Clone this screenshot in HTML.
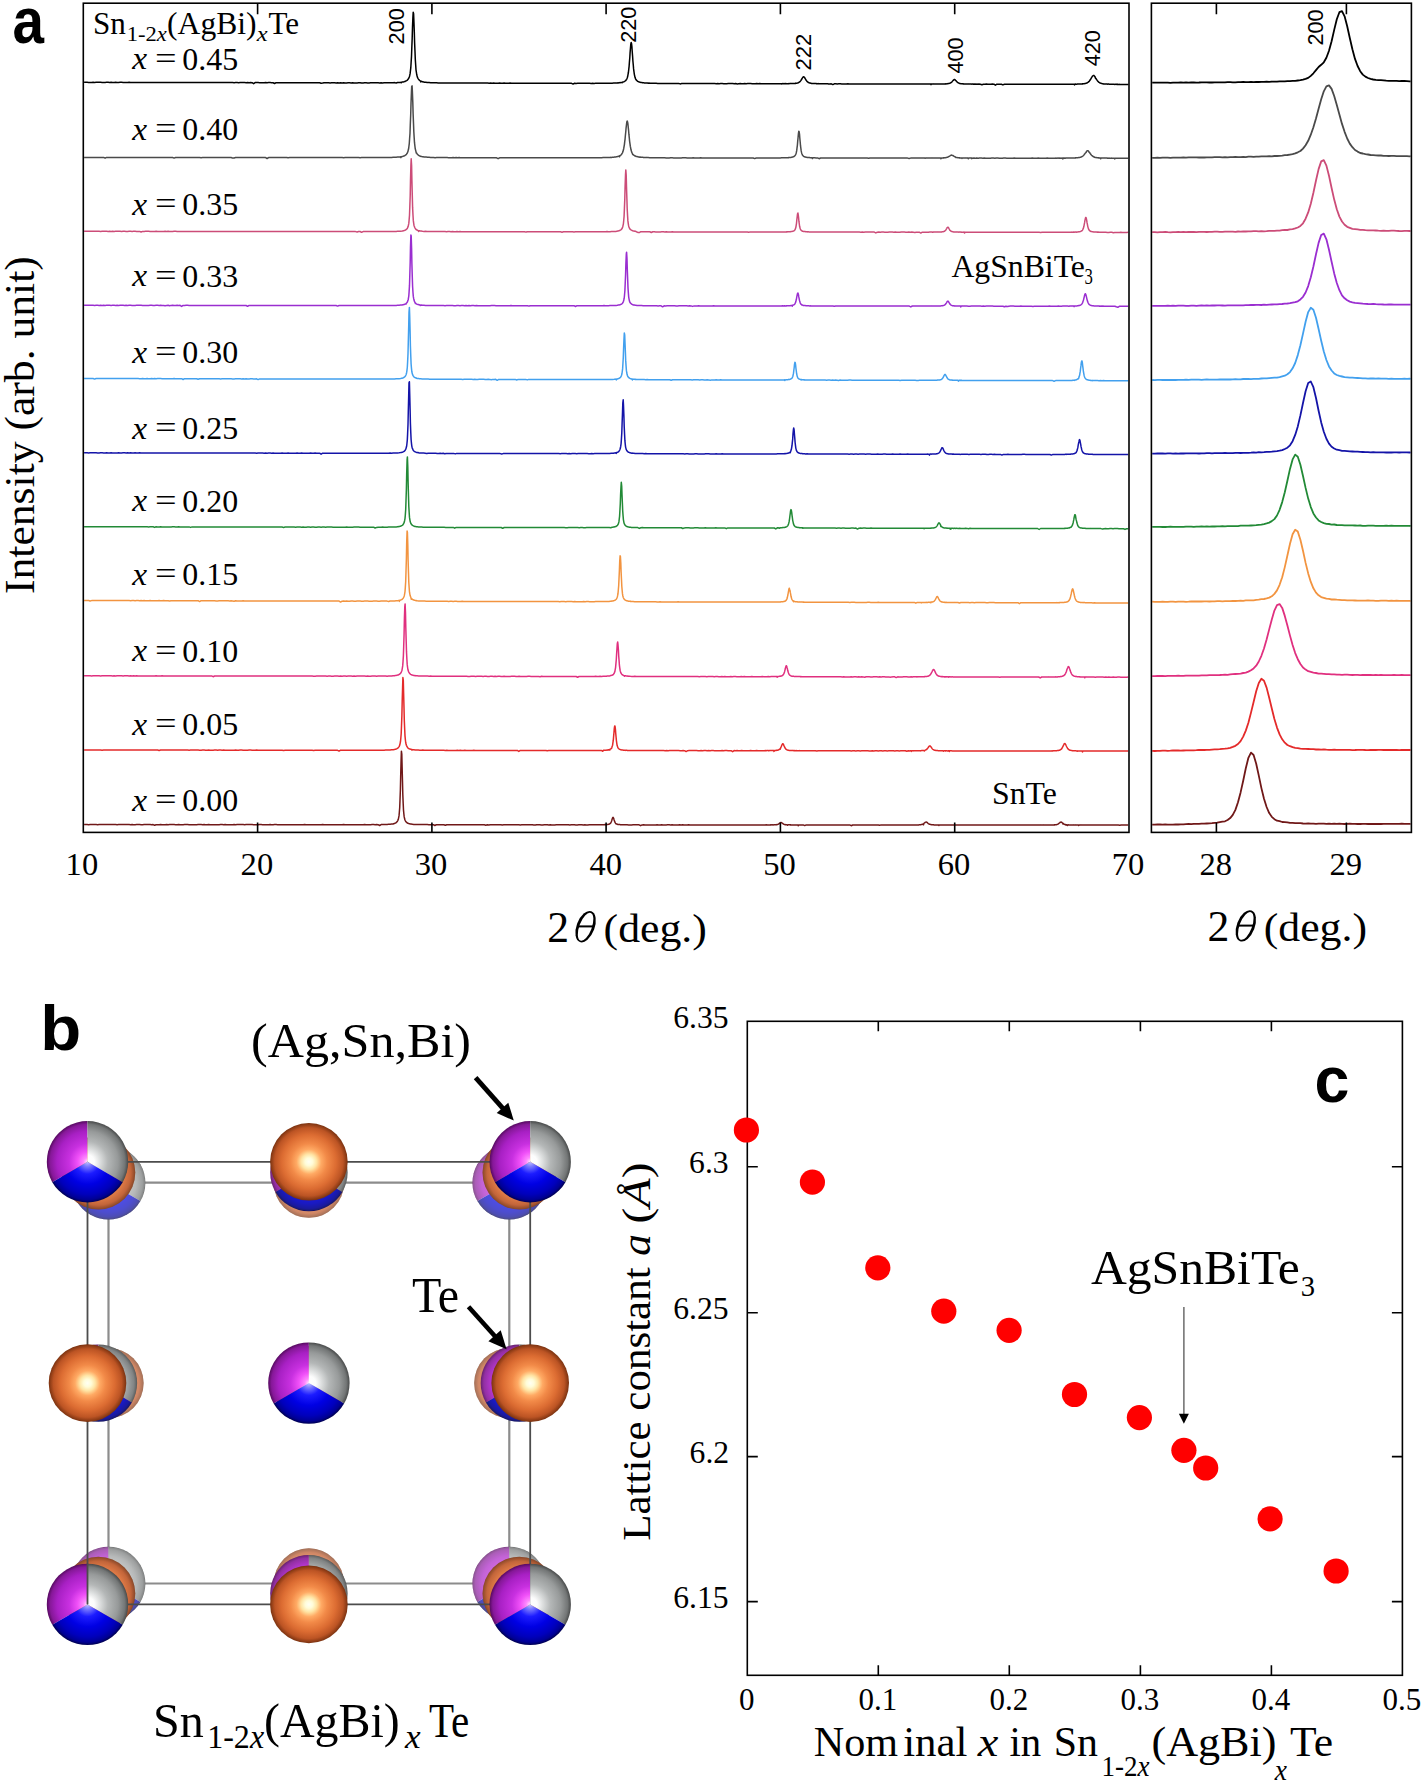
<!DOCTYPE html>
<html><head><meta charset="utf-8"><style>
html,body{margin:0;padding:0;background:#fff;}
svg{display:block;}
</style></head><body>
<svg width="1424" height="1783" viewBox="0 0 1424 1783">
<defs>
<radialGradient id="gT" gradientUnits="userSpaceOnUse" cx="0" cy="0" r="1">
 <stop offset="0" stop-color="#fffff4"/><stop offset="0.1" stop-color="#fffcd8"/><stop offset="0.2" stop-color="#ffe4a4"/>
 <stop offset="0.32" stop-color="#ffaa64"/><stop offset="0.47" stop-color="#f28a48"/><stop offset="0.7" stop-color="#dc6c32"/><stop offset="0.88" stop-color="#bc5424"/><stop offset="1" stop-color="#7a3210"/></radialGradient>
<radialGradient id="gM" gradientUnits="userSpaceOnUse" cx="0" cy="0" r="1">
 <stop offset="0" stop-color="#ffe8ff"/><stop offset="0.1" stop-color="#ff88ff"/><stop offset="0.25" stop-color="#f050f8"/>
 <stop offset="0.45" stop-color="#c830e0"/><stop offset="0.75" stop-color="#a820c4"/><stop offset="0.92" stop-color="#861898"/><stop offset="1" stop-color="#560a60"/></radialGradient>
<radialGradient id="gG" gradientUnits="userSpaceOnUse" cx="0" cy="0" r="1">
 <stop offset="0" stop-color="#ffffff"/><stop offset="0.17" stop-color="#fcfcfc"/><stop offset="0.3" stop-color="#dfe1e1"/>
 <stop offset="0.5" stop-color="#b4b7b7"/><stop offset="0.75" stop-color="#979a9a"/><stop offset="0.92" stop-color="#737676"/><stop offset="1" stop-color="#484a4a"/></radialGradient>
<radialGradient id="gB" gradientUnits="userSpaceOnUse" cx="0" cy="0" r="1">
 <stop offset="0" stop-color="#c4c4ff"/><stop offset="0.12" stop-color="#7878ff"/><stop offset="0.3" stop-color="#1c1cff"/>
 <stop offset="0.55" stop-color="#0000e4"/><stop offset="0.8" stop-color="#0000bc"/><stop offset="0.93" stop-color="#000094"/><stop offset="1" stop-color="#000050"/></radialGradient>
<g id="sT"><circle r="1" fill="url(#gT)"/></g>
<g id="sC"><path d="M0 0L0 -1A1 1 0 0 0 -0.866 0.5Z" fill="url(#gM)"/><path d="M0 0L0 -1A1 1 0 0 1 0.866 0.5Z" fill="url(#gG)"/><path d="M0 0L-0.866 0.5A1 1 0 0 0 0.866 0.5Z" fill="url(#gB)"/></g>
</defs>
<rect width="1424" height="1783" fill="#fff"/>
<text x="12.44" y="43.00" textLength="31.50" lengthAdjust="spacingAndGlyphs" style="white-space:pre"><tspan font-family="Liberation Sans" font-size="65" font-weight="bold">a</tspan></text>
<path d="M84.1 82.3l1.5 0l1.5 0l1.5 0.1l1.5 0l1.5 0l1.5 -0.1l1.5 0.1l1.5 -0.1l1.5 0l1.5 0l1.5 0l1.5 0.1l1.5 0l1.5 0l1.5 -0.1l1.5 0l1.5 0.1l1.5 -0.1l1.5 0.1l1.5 0l1.5 -0.1l1.5 0.1l1.5 0l1.5 -0.1l1.5 0l1.5 0.1l1.5 0l1.5 0l1.5 0l1.5 -0.1l1.5 0.1l1.5 0l1.5 0l1.5 0l1.5 0.1l1.5 -0.1l1.5 0l1.5 0l1.5 0.1l1.5 0l1.5 0l1.5 0l1.5 -0.1l1.5 0.1l1.5 -0.1l1.5 0l1.5 0.1l1.5 0l1.5 -0.1l1.5 0.1l1.5 0l1.5 0l1.5 0l1.5 0l1.5 -0.1l1.5 0.1l1.5 0l1.5 -0.1l1.5 0l1.5 0.1l1.5 0l1.5 0l1.5 0l1.5 0l1.5 0.1l1.5 0l1.5 0l1.5 -0.1l1.5 0l1.5 0l1.5 0l1.5 0l1.5 0.1l1.5 0l1.5 -0.1l1.5 0.1l1.5 -0.1l1.5 0l1.5 0l1.5 0l1.5 0.1l1.5 0l1.5 0l1.5 0l1.5 -0.1l1.5 0l1.5 0l1.5 0.1l1.5 0l1.5 0l1.5 0l1.5 -0.1l1.5 0l1.5 0l1.5 0.1l1.5 0l1.5 0l1.5 0l1.5 0l1.5 0.1l1.5 -0.1l1.5 0l1.5 0.1l1.5 -0.1l1.5 0l1.5 0l1.5 0l1.5 0.1l1.5 -0.1l1.5 0.1l1.5 -0.1l1.5 0.1l1.5 1l1.5 -1.1l1.5 0l1.5 0l1.5 0.1l1.5 0l1.5 0l1.5 0l1.5 -0.1l1.5 0.1l1.5 -0.1l1.5 0l1.5 0.1l1.5 0.1l1.5 0.7l1.5 -0.8l1.5 0l1.5 0l1.5 0l1.5 0.1l1.5 -0.1l1.5 0l1.5 0l1.5 0l1.5 0l1.5 0l1.5 0l1.5 0l1.5 0l1.5 0l1.5 0l1.5 0l1.5 0.1l1.5 0l1.5 0l1.5 -0.1l1.5 0.1l1.5 -0.1l1.5 0l1.5 0.1l1.5 0l1.5 -0.1l1.5 0.1l1.5 0l1.5 0l1.5 0.5l1.5 -0.2l1.5 -0.3l1.5 0l1.5 0l1.5 0l1.5 0.1l1.5 -0.1l1.5 0l1.5 0l1.5 0.1l1.5 -0.1l1.5 0.1l1.5 -0.1l1.5 0.1l1.5 -0.1l1.5 0.1l1.5 0l1.5 -0.1l1.5 0l1.5 0.1l1.5 -0.1l1.5 0.1l1.5 0l1.5 0l1.5 -0.1l1.5 0l1.5 0.3l1.5 -0.2l1.5 -0.1l1.5 0l1.5 0.1l1.5 0l1.5 -0.1l1.5 0l1.5 0l1.5 0l1.5 0l1.5 0l1.5 0.1l1.5 -0.1l1.5 0.1l1.5 -0.1l1.5 0l1.5 0l1.5 0l1.5 -0.1l1.5 0l1.5 0l1.5 -0.1l1.5 0.4l1.5 -0.5l1.5 0l1.5 -0.1l0.4 -0.1l0.3 0.3l0.4 -0.4l0.3 -0.1l0.4 0l0.3 -0.1l0.4 0l0.3 -0.1l0.4 -0.1l0.3 -0.1l0.4 -0.1l0.3 -0.1l0.4 -0.1l0.3 -0.2l0.4 -0.2l0.3 -0.1l0.4 -0.2l0.3 -0.2l0.4 -0.3l0.3 -0.4l0.4 -0.4l0.3 -0.5l0.4 -0.5l0.3 -0.8l0.4 -0.9l0.3 -1.2l0.4 -1.8l0.3 -2.5l0.4 -3.5l0.3 -4.9l0.4 -6.4l0.3 -8.4l0.4 -10.1l0.3 -10.7l0.4 -9.7l0.3 -5.2l0.4 1.5l0.3 7.5l0.4 10.4l0.3 10.8l0.4 9.3l0.3 7.6l0.4 5.8l0.3 4.6l0.4 2.5l0.3 2.2l0.4 1.6l0.3 1.1l0.4 0.8l0.3 0.6l0.4 0.6l0.3 0.4l0.4 0.4l0.3 0.3l0.4 0.3l0.3 0.2l0.4 0.2l0.3 0.9l0.4 -0.6l0.3 0.1l0.4 0.1l0.3 0.2l0.4 0l0.3 0.2l0.4 0.1l0.3 0.1l0.4 0l0.3 0.1l0.4 0l0.3 0.1l0.4 -0.1l0.3 0.1l0.4 0l0.3 0.1l0.4 0l0.3 0l0.4 0.1l1.5 0l1.5 0.2l1.5 0l1.5 0l1.5 0.1l1.5 0l1.5 0.1l1.5 0l1.5 0l1.5 0l1.5 0l1.5 0.1l1.5 0l1.5 0l1.5 0l1.5 0l1.5 0l1.5 0l1.5 0.1l1.5 -0.1l1.5 0l1.5 0l1.5 0.1l1.5 0l1.5 -0.1l1.5 0.1l1.5 -0.1l1.5 0.1l1.5 0l1.5 -0.1l1.5 0l1.5 0.1l1.5 0l1.5 0l1.5 0l1.5 0l1.5 0l1.5 0l1.5 0l1.5 0l1.5 0.1l1.5 -0.1l1.5 0.1l1.5 -0.1l1.5 0.1l1.5 0l1.5 0l1.5 -0.1l1.5 0.1l1.5 0l1.5 -0.1l1.5 0.1l1.5 0l1.5 0l1.5 -0.1l1.5 0.1l1.5 0l1.5 0l1.5 0l1.5 0l1.5 0l1.5 0l1.5 0l1.5 0l1.5 0l1.5 0l1.5 0l1.5 0l1.5 0l1.5 0.1l1.5 -0.1l1.5 0l1.5 0l1.5 0.1l1.5 -0.1l1.5 0.1l1.5 0l1.5 0l1.5 0l1.5 0l1.5 0l1.5 0l1.5 -0.1l1.5 0.1l1.5 0l1.5 -0.1l1.5 0.1l1.5 0l1.5 -0.1l1.5 0.1l1.5 0l1.5 0l1.5 -0.1l1.5 0.1l1.5 0l1.5 0l1.5 0.8l1.5 -0.9l1.5 0.3l1.5 -0.2l1.5 -0.1l1.5 0.1l1.5 0l1.5 0l1.5 0l1.5 0l1.5 0l1.5 0l1.5 0.1l1.5 -0.1l1.5 0.1l1.5 -0.1l1.5 -0.1l1.5 0l1.5 0.1l1.5 0l1.5 0l1.5 0l1.5 -0.1l1.5 0l1.5 0l1.5 0l1.5 0l1.5 -0.1l1.5 0l0.3 -0.1l0.4 0l0.3 -0.1l0.4 0.1l0.3 -0.1l0.4 0.1l0.3 -0.1l0.4 -0.1l0.3 0.1l0.4 0l0.3 -0.1l0.4 0l0.3 -0.1l0.4 -0.1l0.3 0.1l0.4 -0.1l0.3 -0.1l0.4 0l0.3 -0.1l0.4 0.3l0.3 -0.5l0.4 -0.1l0.3 -0.1l0.4 -0.1l0.3 -0.1l0.4 -0.2l0.3 -0.2l0.4 -0.2l0.3 -0.2l0.4 -0.3l0.3 -0.4l0.4 -0.5l0.3 -0.5l0.4 -0.8l0.3 -0.8l0.4 -1.4l0.3 -1.6l0.4 -2.2l0.3 -2.6l0.4 -3.5l0.3 -4.1l0.4 -4.7l0.3 -5l0.4 -4.8l0.3 -3.6l0.4 -1.8l0.3 1l0.4 3.2l0.3 4.6l0.4 5l0.3 4.8l0.4 4.3l0.3 3.6l0.4 2.9l0.3 2.3l0.4 1.9l0.3 1.3l0.4 1.1l0.3 0.7l0.4 0.7l0.3 0.3l0.4 0.4l0.3 0.4l0.4 0.2l0.3 0.3l0.4 0.2l0.3 0.1l0.4 0.2l0.3 0.1l0.4 0.1l0.3 0.1l0.4 0.1l0.3 0.1l0.4 0.1l0.3 0l0.4 0.1l0.3 0l0.4 0.1l0.3 0l0.4 0l0.3 0.1l0.4 0l0.3 0.1l0.4 0l0.3 0l0.4 0l0.3 0.2l0.4 -0.1l0.3 0l0.4 0l0.3 0.1l0.4 0l0.3 0l0.4 0.1l0.3 0l0.4 -0.1l1.5 0.2l1.5 0l1.5 0l1.5 0l1.5 0l1.5 0.1l1.5 0l1.5 0l1.5 0l1.5 0l1.5 0l1.5 0l1.5 0l1.5 0l1.5 0.1l1.5 0l1.5 0l1.5 0l1.5 0l1.5 0l1.5 0.4l1.5 -0.3l1.5 0l1.5 -0.1l1.5 0l1.5 0.1l1.5 0l1.5 0l1.5 -0.1l1.5 0.1l1.5 0l1.5 0l1.5 -0.1l1.5 0l1.5 0.1l1.5 0l1.5 0l1.5 0l1.5 0l1.5 -0.1l1.5 0.1l1.5 0l1.5 0l1.5 0l1.5 0.1l1.5 -0.1l1.5 0.1l1.5 -0.1l1.5 0l1.5 0.1l1.5 0l1.5 0l1.5 -0.1l1.5 0l1.5 0l1.5 0l1.5 0.1l1.5 -0.1l1.5 0.3l1.5 -0.2l1.5 -0.1l1.5 0.1l1.5 0l1.5 -0.1l1.5 0.1l1.5 -0.1l1.5 0l1.5 0l1.5 0.1l1.5 0l1.5 0l1.5 -0.1l1.5 0.2l1.5 -0.2l1.5 0.1l1.5 0.1l1.5 -0.1l1.5 0l1.5 0l1.5 0l1.5 0l1.5 0l1.5 0l1.5 0l1.5 0.1l1.5 -0.1l1.5 0l1.5 0l0.3 0l0.4 0l0.3 0.3l0.4 -0.3l0.3 0l0.4 -0.1l0.3 0l0.4 0.1l0.3 0l0.4 0l0.3 0l0.4 -0.1l0.3 0l0.4 0.1l0.3 -0.1l0.4 0.1l0.3 0l0.4 0l0.3 0l0.4 0l0.3 0l0.4 -0.1l0.3 0.1l0.4 0l0.3 -0.1l0.4 0l0.3 0l0.4 0l0.3 -0.1l0.4 0.1l0.3 -0.1l0.4 0.1l0.3 0l0.4 -0.1l0.3 0l0.4 0l0.3 0l0.4 -0.1l0.3 0.1l0.4 -0.1l0.3 0l0.4 -0.1l0.3 0.1l0.4 -0.2l0.3 0.1l0.4 -0.1l0.3 -0.1l0.4 -0.1l0.3 -0.1l0.4 -0.1l0.3 -0.1l0.4 -0.3l0.3 -0.2l0.4 -0.2l0.3 -0.3l0.4 -0.4l0.3 -0.4l0.4 -0.5l0.3 -0.6l0.4 -0.5l0.3 -0.6l0.4 -0.7l0.3 -0.5l0.4 -0.4l0.3 -0.3l0.4 0l0.3 0.2l0.4 0.4l0.3 0.6l0.4 0.6l0.3 0.5l0.4 0.7l0.3 0.5l0.4 0.5l0.3 0.4l0.4 0.5l0.3 0.2l0.4 0.3l0.3 0.3l0.4 0.2l0.3 0l0.4 0.3l0.3 0l0.4 0.1l0.3 0l0.4 0.2l0.3 0l0.4 0.1l0.3 0l0.4 0l0.3 0.1l0.4 0l0.3 0l0.4 0l0.3 0.1l0.4 -0.1l0.3 0.1l0.4 0l0.3 0l0.4 0l0.3 0l0.4 0.1l0.3 0l0.4 -0.1l0.3 0.1l0.4 0l0.3 -0.1l0.4 0.1l0.3 0l0.4 0l0.3 0.1l0.4 -0.1l0.3 0.1l0.4 -0.1l0.3 0l0.4 0l0.3 0.1l0.4 -0.1l0.3 0.1l0.4 0l0.3 -0.1l0.4 0.1l0.3 0l0.4 -0.1l0.3 0.1l0.4 -0.1l0.3 0l0.4 0.1l0.3 -0.1l0.4 0.1l0.3 0l0.4 0l0.3 0l0.4 0l0.3 0l0.4 0.1l1.5 0l1.5 -0.1l1.5 0.8l1.5 -0.8l1.5 0l1.5 0.1l1.5 -0.1l1.5 0l1.5 0.1l1.5 0l1.5 0l1.5 0l1.5 -0.1l1.5 0.1l1.5 0l1.5 0l1.5 0l1.5 0l1.5 0l1.5 0l1.5 0l1.5 0l1.5 0l1.5 0l1.5 0.1l1.5 0l1.5 -0.1l1.5 0.1l1.5 -0.1l1.5 0.1l1.5 0l1.5 -0.1l1.5 0l1.5 0l1.5 0.1l1.5 -0.1l1.5 0l1.5 0.1l1.5 -0.1l1.5 0.1l1.5 0l1.5 0l1.5 0l1.5 0l1.5 0l1.5 0l1.5 0l1.5 0.1l1.5 0l1.5 -0.1l1.5 0l1.5 0.1l1.5 -0.1l1.5 0l1.5 0l1.5 0l1.5 0.1l1.5 -0.1l1.5 0l1.5 0l1.5 0.1l1.5 0l1.5 0l1.5 -0.1l1.5 0l1.5 0.1l1.5 -0.1l1.5 0l0.3 0l0.4 0.7l0.3 -0.7l0.4 0.1l0.3 0l0.4 -0.1l0.3 0.1l0.4 -0.1l0.3 0.1l0.4 0l0.3 -0.1l0.4 0l0.3 0l0.4 0l0.3 0.1l0.4 -0.1l0.3 0l0.4 0l0.3 0l0.4 0l0.3 0l0.4 0l0.3 0l0.4 0.1l0.3 -0.1l0.4 0l0.3 0.1l0.4 -0.1l0.3 0l0.4 -0.1l0.3 0.1l0.4 0l0.3 0l0.4 0l0.3 -0.1l0.4 0l0.3 0l0.4 0.1l0.3 -0.1l0.4 0.1l0.3 -0.1l0.4 0l0.3 -0.1l0.4 0.1l0.3 0l0.4 0l0.3 -0.1l0.4 0l0.3 0l0.4 -0.2l0.3 0.1l0.4 -0.2l0.3 0l0.4 0l0.3 -0.2l0.4 -0.1l0.3 -0.1l0.4 -0.2l0.3 -0.3l0.4 -0.3l0.3 -0.2l0.4 -0.3l0.3 -0.4l0.4 -0.5l0.3 -0.4l0.4 -0.2l0.3 -0.4l0.4 -0.3l0.3 0l0.4 0l0.3 0.3l0.4 0.4l0.3 0.2l0.4 0.5l0.3 0.4l0.4 0.3l0.3 0.4l0.4 0.3l0.3 0.2l0.4 0.3l0.3 0.1l0.4 0.2l0.3 0.1l0.4 0.2l0.3 0.1l0.4 0l0.3 0.1l0.4 0.1l0.3 0l0.4 -0.1l0.3 0.1l0.4 0l0.3 0.1l0.4 -0.1l0.3 0.1l0.4 0l0.3 0l0.4 0.1l0.3 0l0.4 0l0.3 -0.1l0.4 0.1l0.3 0l0.4 0l0.3 0l0.4 0l0.3 0l0.4 0l0.3 0.1l0.4 0l0.3 0l0.4 -0.1l0.3 0l0.4 0.1l0.3 0l0.4 0l0.3 0l0.4 0l0.3 0.1l0.4 -0.1l0.3 0l0.4 0l0.3 0.1l0.4 -0.1l0.3 0l0.4 0.1l0.3 -0.1l0.4 0.1l0.3 -0.1l0.4 0l0.3 0.1l0.4 -0.1l0.3 0.1l0.4 0l0.3 -0.1l0.4 0.1l0.3 -0.1l0.4 0.1l0.3 -0.1l1.5 0.1l1.5 0.5l1.5 -0.5l1.5 0l1.5 -0.1l1.5 0.1l1.5 0l1.5 0l1.5 -0.1l1.5 0.1l1.5 1l1.5 -1l1.5 0.1l1.5 -0.1l1.5 0.1l1.5 0.6l1.5 -0.7l1.5 0l1.5 0l1.5 0.1l1.5 -0.1l1.5 0.1l1.5 -0.1l1.5 0l1.5 0.1l1.5 -0.1l1.5 0l1.5 0.1l1.5 -0.1l1.5 0.1l1.5 -0.1l1.5 0.1l1.5 0l1.5 -0.1l1.5 0l1.5 0.1l1.5 -0.1l1.5 0.1l1.5 0l1.5 0l1.5 0l1.5 0l1.5 -0.1l1.5 0l1.5 0.1l1.5 -0.1l1.5 0.1l1.5 0l1.5 0l1.5 0l1.5 0l1.5 -0.1l1.5 0.1l1.5 0l1.5 -0.1l1.5 0.1l0.4 0l0.3 0l0.4 0l0.3 0l0.4 0l0.3 -0.1l0.4 0.1l0.3 0l0.4 0l0.3 0l0.4 0l0.3 0l0.4 0l0.3 0l0.4 -0.1l0.3 0.1l0.4 0l0.3 0l0.4 0l0.3 -0.1l0.4 0.1l0.3 0l0.4 0l0.3 -0.1l0.4 0.1l0.3 -0.1l0.4 0l0.3 0l0.4 0l0.3 0l0.4 0l0.3 0l0.4 0.7l0.3 -0.7l0.4 -0.1l0.3 0.1l0.4 -0.1l0.3 0.1l0.4 0l0.3 0l0.4 -0.1l0.3 0l0.4 0l0.3 0l0.4 0l0.3 0l0.4 0l0.3 0l0.4 -0.1l0.3 0l0.4 0l0.3 0l0.4 -0.1l0.3 0l0.4 0l0.3 -0.1l0.4 0.1l0.3 -0.1l0.4 -0.1l0.3 0.1l0.4 -0.1l0.3 -0.1l0.4 -0.1l0.3 0l0.4 -0.2l0.3 0l0.4 -0.1l0.3 -0.2l0.4 -0.1l0.3 -0.3l0.4 -0.2l0.3 -0.2l0.4 -0.2l0.3 -0.4l0.4 -0.3l0.3 -0.5l0.4 -0.4l0.3 -0.6l0.4 -0.5l0.3 -0.5l0.4 -0.6l0.3 -0.7l0.4 -0.6l0.3 -0.5l0.4 -0.4l0.3 -0.4l0.4 -0.2l0.3 0.1l0.4 0.1l0.3 0.4l0.4 0.5l0.3 0.5l0.4 1.4l0.3 -0.2l0.4 0.6l0.3 0.6l0.4 0.5l0.3 0.6l0.4 0.4l0.3 0.4l0.4 0.3l0.3 0.4l0.4 0.4l0.3 0.1l0.4 0.2l0.3 0.3l0.4 0l0.3 0.2l0.4 0.1l0.3 0.2l0.4 0l0.3 0.1l0.3 0.1l0.4 0.1l0.3 0l0.4 0.1l0.3 0l0.4 0l0.3 0l0.4 0.1l0.3 0l0.4 0.1l0.3 -0.1l0.4 0l0.3 0.1l0.4 0l0.3 0l0.4 0.1l0.3 -0.1l0.4 0l0.3 0l0.4 0.1l0.3 0l0.4 0l0.3 0l0.4 0.1l0.3 0l0.4 0l0.3 -0.1l0.4 0l0.3 0.1l0.4 0l0.3 0l0.4 -0.1l0.3 0.1l0.4 0l0.3 0l0.4 0.1l0.3 0l0.4 -0.1l0.3 0l0.4 0l0.3 0l0.4 0.1l0.3 -0.1l0.4 0.1l0.3 -0.1l0.4 0.1l0.3 0l0.4 0l0.3 -0.1l0.4 0.1l0.3 0l0.4 0l0.3 0l0.4 0l0.3 0l0.4 0l0.3 0l0.4 0l0.3 0.1l0.4 -0.1l0.3 0.1l0.4 -0.1l0.3 0l0.4 0l0.3 0l0.4 0.1l1.5 -0.1l1.5 0l0 0.1" fill="none" stroke="#000000" stroke-width="1.5" stroke-linejoin="round"/>
<path d="M1152.2 82.7l2.6 -0.1l2.6 0l2.6 0l2.6 0l2.6 0l2.6 0.1l2.6 0.1l2.6 -0.2l2.6 0l2.6 0l2.6 -0.2l2.6 0.3l2.6 -0.2l2.6 0.2l2.6 -0.2l2.6 -0.1l2.6 0.2l2.6 -0.1l2.6 -0.2l2.6 0.1l2.6 0l2.6 0.1l2.6 0l2.6 -0.1l2.6 0l2.6 0l2.6 0l2.6 0l2.6 -0.2l2.6 0l2.6 0.1l2.6 0l2.6 -0.1l2.6 0l2.6 -0.2l2.6 0.1l2.6 0l2.6 -0.2l2.6 0.2l2.6 -0.2l2.6 0.1l2.6 -0.2l2.6 0l2.6 -0.1l2.6 0.1l2.6 -0.2l2.6 0l2.6 0l2.6 -0.2l2.6 -0.1l2.6 0.1l2.6 -0.2l2.6 -0.1l2.6 -0.2l2.6 -0.1l2.6 -0.3l2.6 -0.3l2.6 -0.6l2.6 -0.7l2.6 -1l2.6 -2l2.6 -2.6l2.6 -3.2l2.6 -3.1l2.6 -2.2l2.6 -2.5l2.6 -4.6l2.6 -7l2.6 -9.5l2.6 -11.3l2.6 -10.6l2.6 -7.1l2.6 -1.1l2.6 5.2l2.6 10l2.6 11.7l2.6 11.2l2.6 9.7l2.6 7.1l2.6 5.2l2.6 3.4l2.6 2l2.6 1.4l2.6 0.9l2.6 0.6l2.6 0.4l2.6 0.3l2.6 0l2.6 0.1l2.6 0.3l2.6 0.2l2.6 0l2.6 0l2.6 0l2.6 0.3l2.6 -0.1l2.6 0l2.6 0.1l2.6 0.2l1 0" fill="none" stroke="#000000" stroke-width="1.8" stroke-linejoin="round"/>
<path d="M84.1 157.4l1.5 0l1.5 0l1.5 0l1.5 0l1.5 0l1.5 0l1.5 0l1.5 0.1l1.5 -0.1l1.5 0l1.5 0l1.5 0.1l1.5 -0.1l1.5 0.8l1.5 -0.8l1.5 0l1.5 0l1.5 0l1.5 0l1.5 0l1.5 0.1l1.5 -0.1l1.5 0l1.5 0.1l1.5 -0.1l1.5 0l1.5 0l1.5 0l1.5 0.1l1.5 -0.1l1.5 0l1.5 0l1.5 0.1l1.5 -0.1l1.5 0.1l1.5 0l1.5 -0.1l1.5 0l1.5 0l1.5 0.1l1.5 0l1.5 -0.1l1.5 0l1.5 0.1l1.5 0l1.5 0l1.5 0l1.5 0l1.5 0l1.5 0l1.5 -0.1l1.5 0l1.5 0.1l1.5 -0.1l1.5 0l1.5 0.1l1.5 0l1.5 0l1.5 0l1.5 0.6l1.5 -0.6l1.5 0l1.5 -0.1l1.5 0l1.5 0l1.5 0.1l1.5 0l1.5 0l1.5 0l1.5 0l1.5 0l1.5 0l1.5 0l1.5 0l1.5 0l1.5 0l1.5 0l1.5 0.2l1.5 -0.2l1.5 0l1.5 0l1.5 0l1.5 0l1.5 0l1.5 0.1l1.5 -0.1l1.5 0l1.5 0.1l1.5 -0.1l1.5 0l1.5 0.1l1.5 -0.1l1.5 0l1.5 0l1.5 0l1.5 0.1l1.5 -0.1l1.5 0l1.5 0.6l1.5 -0.1l1.5 -0.5l1.5 0.1l1.5 0l1.5 -0.1l1.5 0l1.5 0l1.5 0.1l1.5 -0.1l1.5 0l1.5 0l1.5 0.1l1.5 -0.1l1.5 0l1.5 0l1.5 0l1.5 0.1l1.5 0l1.5 0l1.5 -0.1l1.5 0.1l1.5 0l1.5 0.9l1.5 -0.9l1.5 -0.1l1.5 0.1l1.5 0l1.5 -0.1l1.5 0l1.5 0l1.5 0.1l1.5 0l1.5 0l1.5 0l1.5 0l1.5 -0.1l1.5 0.3l1.5 -0.2l1.5 0l1.5 0l1.5 -0.1l1.5 0.1l1.5 -0.1l1.5 0.1l1.5 -0.1l1.5 0.1l1.5 0l1.5 0l1.5 0l1.5 0l1.5 0l1.5 0l1.5 0l1.5 0l1.5 0l1.5 0l1.5 0l1.5 0l1.5 0l1.5 0l1.5 0l1.5 0l1.5 0l1.5 0l1.5 0l1.5 0l1.5 0l1.5 0l1.5 0l1.5 0l1.5 -0.1l1.5 0.1l1.5 -0.1l1.5 0.2l1.5 -0.1l1.5 0l1.5 0l1.5 0l1.5 0l1.5 0l1.5 0l1.5 0l1.5 0l1.5 -0.1l1.5 0.2l1.5 -0.1l1.5 0l1.5 0l1.5 0l1.5 -0.1l1.5 0.1l1.5 0l1.5 -0.1l1.5 0.1l1.5 -0.1l1.5 0l1.5 0.1l1.5 0l1.5 0l1.5 -0.1l1.5 0l1.5 0l1.5 -0.1l1.5 0.1l1.5 -0.1l1.5 0l1.5 -0.1l1.5 0l1.5 -0.1l1.5 -0.1l1.5 -0.1l0.4 -0.1l0.3 0.1l0.4 -0.2l0.3 0.1l0.4 0.7l0.3 -0.8l0.4 -0.1l0.3 -0.1l0.4 -0.1l0.3 -0.1l0.4 -0.1l0.3 -0.1l0.4 -0.1l0.3 -0.2l0.4 -0.1l0.3 -0.1l0.4 -0.3l0.3 -0.2l0.4 -0.3l0.3 -0.3l0.4 -0.4l0.3 -0.5l0.4 -0.5l0.3 -0.8l0.4 -0.8l0.3 -1.3l0.4 -1.5l0.3 -2.3l0.4 -3.2l0.3 -4.6l0.4 -5.4l0.3 -8.8l0.4 -9.7l0.3 -11.1l0.4 -10.4l0.3 -6.9l0.4 -0.6l0.3 6.2l0.4 10.2l0.3 11.1l0.4 9.9l0.3 8.3l0.4 6.5l0.3 4.7l0.4 3.3l0.3 2.5l0.4 1.7l0.3 1.2l0.4 1.6l0.3 0l0.4 0.6l0.3 0.6l0.4 0.3l0.3 0.3l0.4 0.3l0.3 0.3l0.4 0.2l0.3 0.2l0.4 0.2l0.3 0.1l0.4 0.1l0.3 0.2l0.4 0l0.3 0.1l0.4 0l0.3 0.2l0.4 0l0.3 0l0.4 0.1l0.3 0.1l0.4 0l0.3 0.1l0.4 0.1l0.3 -0.1l0.4 0.1l0.3 0l0.4 0l1.5 0.1l1.5 0.1l1.5 0.1l1.5 0l1.5 0.1l1.5 0.2l1.5 -0.2l1.5 0.1l1.5 0l1.5 0l1.5 0l1.5 0l1.5 0l1.5 0l1.5 0.1l1.5 0l1.5 0l1.5 -0.1l1.5 0.1l1.5 -0.1l1.5 0.1l1.5 -0.1l1.5 0.1l1.5 0l1.5 0l1.5 0l1.5 0l1.5 0l1.5 0l1.5 0l1.5 0l1.5 0l1.5 0l1.5 0l1.5 0.1l1.5 -0.1l1.5 0l1.5 0l1.5 0l1.5 0.1l1.5 -0.1l1.5 0l1.5 0l1.5 0l1.5 0l1.5 0l1.5 0.1l1.5 0.9l1.5 -0.9l1.5 0l1.5 -0.1l1.5 0l1.5 0.1l1.5 -0.1l1.5 0l1.5 0.1l1.5 -0.1l1.5 0.1l1.5 -0.1l1.5 0l1.5 0l1.5 0.1l1.5 0l1.5 -0.1l1.5 0.1l1.5 0l1.5 -0.1l1.5 0.1l1.5 0l1.5 0l1.5 -0.1l1.5 0l1.5 0.1l1.5 -0.1l1.5 0l1.5 0l1.5 0.1l1.5 -0.1l1.5 0l1.5 0.1l1.5 -0.1l1.5 0.1l1.5 0l1.5 0l1.5 0l1.5 0l1.5 0l1.5 0l1.5 0l1.5 -0.1l1.5 0l1.5 0l1.5 0.1l1.5 0l1.5 0l1.5 0l1.5 -0.1l1.5 0.1l1.5 -0.1l1.5 0l1.5 0l1.5 0.1l1.5 -0.1l1.5 0l1.5 0.1l1.5 -0.1l1.5 0.1l1.5 0l1.5 -0.1l1.5 0l1.5 0l1.5 0l1.5 0l1.5 0l1.5 0l1.5 0l1.5 0l1.5 -0.1l1.5 0l1.5 0l1.5 0l0.3 0l0.4 -0.1l0.3 0l0.4 0l0.3 0l0.4 0l0.3 -0.1l0.4 0.1l0.3 -0.2l0.4 0.1l0.3 0l0.4 0l0.3 -0.1l0.4 0l0.3 0l0.4 0l0.3 -0.1l0.4 0l0.3 -0.1l0.4 0l0.3 0l0.4 -0.1l0.3 0l0.4 -0.1l0.3 -0.1l0.4 0l0.3 -0.1l0.4 -0.1l0.3 -0.1l0.4 -0.1l0.3 -0.1l0.4 -0.1l0.3 -0.2l0.4 0.8l0.3 -1.1l0.4 -0.1l0.3 -0.3l0.4 -0.2l0.3 -0.4l0.4 -0.4l0.3 -0.6l0.4 -0.6l0.3 -0.7l0.4 -1l0.3 -1.2l0.4 -1.5l0.3 -1.9l0.4 -2.2l0.3 -2.7l0.4 -3.1l0.3 -3.5l0.4 -3.8l0.3 -3.7l0.4 -3.3l0.3 -2.4l0.4 -1.1l0.3 0.7l0.4 2l0.3 3.2l0.4 3.6l0.3 3.7l0.4 3.7l0.3 3.2l0.4 2.7l0.3 2.4l0.4 2l0.3 1.6l0.4 1.3l0.3 1.1l0.4 0.8l0.3 0.6l0.4 1l0.3 0l0.4 0.3l0.3 0.3l0.4 0.3l0.3 0.2l0.4 0.1l0.3 0.3l0.4 0l0.3 0.2l0.4 0.2l0.3 0.1l0.4 0l0.3 0l0.4 0.2l0.3 0l0.4 0.1l0.3 0l0.4 0l0.3 0.1l0.4 0.3l0.3 -0.2l0.4 0l0.3 0.1l0.4 0l0.3 0.1l0.4 -0.1l0.3 0.1l0.4 0l0.3 0l0.4 0.1l0.3 0l0.4 0l0.3 0.1l0.4 -0.1l0.3 0l0.4 0.1l0.3 0l0.4 0l0.3 0.1l0.4 0l0.3 -0.1l0.4 0.1l0.3 0l0.4 0l1.5 0.1l1.5 0l1.5 0l1.5 0l1.5 0l1.5 0l1.5 0l1.5 0.1l1.5 -0.1l1.5 0.1l1.5 0l1.5 0.1l1.5 0l1.5 0l1.5 -0.1l1.5 0l1.5 0.1l1.5 0l1.5 0l1.5 0l1.5 0l1.5 0l1.5 -0.1l1.5 0l1.5 0l1.5 0.1l1.5 0l1.5 0l1.5 0l1.5 -0.1l1.5 0.1l1.5 0l1.5 0.1l1.5 -0.1l1.5 -0.1l1.5 0.1l1.5 0l1.5 0l1.5 0l1.5 0l1.5 0l1.5 0l1.5 0l1.5 0l1.5 0l1.5 0l1.5 0l1.5 0l1.5 0l1.5 0l1.5 0l1.5 0l1.5 0l1.5 0l1.5 0l1.5 0l1.5 0l1.5 0l1.5 0l1.5 0l1.5 0l1.5 0l1.5 0l1.5 0.1l1.5 -0.1l1.5 0.1l1.5 0l1.5 -0.1l1.5 0.1l1.5 0l1.5 0.6l1.5 -0.6l1.5 0l1.5 -0.1l1.5 0.1l1.5 0l1.5 -0.1l1.5 0.1l1.5 0l1.5 0l1.5 -0.1l1.5 0.1l1.5 0l1.5 -0.1l1.5 0l1.5 0l1.5 0l1.5 0l1.5 -0.1l1.5 0l1.5 -0.1l1.5 0l0.3 0l0.4 0l0.3 0l0.4 0l0.3 0l0.4 -0.1l0.3 0.1l0.4 -0.1l0.3 0l0.4 -0.1l0.3 -0.1l0.4 0l0.3 0.1l0.4 -0.1l0.3 -0.1l0.4 0l0.3 -0.1l0.4 -0.2l0.3 0l0.4 -0.2l0.3 -0.2l0.4 0l0.3 -0.3l0.4 -0.3l0.3 -0.4l0.4 -0.4l0.3 -0.6l0.4 -0.9l0.3 -1.2l0.4 -1.8l0.3 -2.5l0.4 -3.1l0.3 -3.7l0.4 -4.1l0.3 -3.5l0.4 -2.6l0.3 0.3l0.4 2.5l0.3 4l0.4 4l0.3 3.7l0.4 2.9l0.3 2.3l0.4 1.8l0.3 1.1l0.4 0.9l0.3 0.6l0.4 0.4l0.3 0.3l0.4 0.4l0.3 0.2l0.4 0.1l0.3 0.1l0.4 0.2l0.3 0.1l0.4 0l0.3 0.2l0.4 0l0.3 0.1l0.4 0l0.3 0l0.4 0.2l0.3 -0.1l0.4 0.1l0.3 0l0.4 0l0.3 0l0.4 0.1l0.3 0.1l0.4 0l0.3 -0.1l0.4 0l0.3 0.1l0.4 -0.1l0.3 0.9l0.4 -0.8l0.3 0l1.5 0l1.5 0.1l1.5 0l1.5 0.8l1.5 -0.7l1.5 -0.1l1.5 0.1l1.5 0l1.5 0l1.5 0l1.5 0l1.5 0l1.5 0.1l1.5 -0.1l1.5 0.1l1.5 -0.1l1.5 0.1l1.5 0l1.5 -0.1l1.5 0l1.5 0l1.5 0l1.5 0l1.5 0l1.5 0.1l1.5 -0.1l1.5 0l1.5 0l1.5 0l1.5 0.1l1.5 0l1.5 0l1.5 -0.1l1.5 0l1.5 0l1.5 0.1l1.5 0.2l1.5 -0.3l1.5 0.1l1.5 -0.1l1.5 0l1.5 0.1l1.5 0l1.5 0l1.5 -0.1l1.5 0.1l1.5 0l1.5 0l1.5 0l1.5 0l1.5 0l1.5 0l1.5 0l1.5 0l1.5 0l1.5 0l1.5 0l1.5 0l1.5 0l1.5 -0.1l1.5 0.1l1.5 0l1.5 0l1.5 0.4l1.5 -0.4l1.5 0l1.5 0l1.5 0l1.5 0l1.5 0l1.5 0l1.5 0l1.5 0l1.5 0l0.4 0l0.3 0l0.4 0.2l0.3 -0.3l0.4 0.1l0.3 0l0.4 0l0.3 -0.1l0.4 0.1l0.3 0l0.4 0l0.3 0l0.4 0l0.3 0l0.4 0l0.3 0l0.4 0l0.3 0l0.4 -0.1l0.3 0.1l0.4 0l0.3 0l0.4 -0.1l0.3 0.1l0.4 0l0.3 0l0.4 0l0.3 0l0.4 0l0.3 0l0.4 0l0.3 0l0.4 -0.1l0.3 0.1l0.4 -0.1l0.3 0l0.4 0l0.3 0l0.4 0.1l0.3 -0.1l0.4 0.1l0.3 -0.1l0.4 0l0.3 0l0.4 0l0.3 0l0.4 -0.1l0.3 0.8l0.4 -0.3l0.3 -0.5l0.4 0.1l0.3 -0.1l0.4 0.1l0.3 -0.1l0.4 -0.1l0.3 0l0.4 0.1l0.3 -0.1l0.4 0l0.3 -0.1l0.4 0l0.3 -0.1l0.4 0l0.3 -0.1l0.4 -0.1l0.3 -0.1l0.4 -0.1l0.3 -0.2l0.4 -0.2l0.3 -0.2l0.4 -0.1l0.3 -0.2l0.4 -0.3l0.3 -0.2l0.4 -0.2l0.3 -0.2l0.4 -0.1l0.3 -0.2l0.4 0.1l0.3 0.1l0.4 0.1l0.3 0.1l0.4 0.2l0.3 0.3l0.4 0.2l0.3 0.2l0.4 0.2l0.3 0.2l0.4 0.1l0.3 0.3l0.4 0.4l0.3 -0.2l0.4 0l0.3 0.2l0.4 0l0.3 0.1l0.4 0.1l0.3 0l0.4 0l0.3 0.1l0.4 -0.1l0.3 0.1l0.4 0l0.3 0.1l0.4 -0.1l0.3 0l0.4 0.1l0.3 0.4l0.4 -0.4l0.3 0l0.4 0l0.3 0.1l0.4 -0.1l0.3 0l0.4 0l0.3 0l0.4 0l0.3 0.1l0.4 0l0.3 0l0.4 0l0.3 0l0.4 -0.1l0.3 0.1l0.4 0l0.3 0.7l0.4 -0.7l0.3 -0.1l0.4 0.1l0.3 0l0.4 -0.1l0.3 0.1l0.4 0l0.3 0l0.4 0l0.3 0.6l0.4 -0.6l0.3 0.2l0.4 0l0.3 -0.2l0.4 0.1l0.3 -0.1l0.4 0.1l0.3 -0.1l0.4 0l0.3 0.1l0.4 0l0.3 0l0.4 -0.1l0.3 0l0.4 0.1l0.3 0l0.4 -0.1l0.3 0.1l0.4 0l0.3 0l0.4 -0.1l0.3 0l0.4 0l1.5 0l1.5 0.1l1.5 -0.1l1.5 0.1l1.5 0l1.5 0l1.5 0l1.5 -0.1l1.5 0l1.5 0.1l1.5 -0.1l1.5 0l1.5 0.1l1.5 0l1.5 0l1.5 -0.1l1.5 0l1.5 0.1l1.5 0l1.5 0l1.5 0l1.5 0l1.5 -0.1l1.5 0.1l1.5 0l1.5 0l1.5 0l1.5 0l1.5 0l1.5 0l1.5 0l1.5 0l1.5 0l1.5 0l1.5 -0.1l1.5 0.1l1.5 0l1.5 0l1.5 -0.1l1.5 0.1l1.5 0l1.5 0l1.5 0l1.5 0l1.5 -0.1l1.5 0.1l1.5 0l1.5 0l1.5 0l1.5 0l1.5 -0.1l0.3 0.1l0.4 0l0.3 0l0.4 -0.1l0.3 0l0.4 0l0.3 0.1l0.4 -0.1l0.3 0.1l0.4 -0.1l0.3 0l0.4 0.1l0.3 0l0.4 0l0.3 0l0.4 -0.1l0.3 0.1l0.4 -0.1l0.3 0.8l0.4 -0.8l0.3 0l0.4 0l0.3 0.1l0.4 -0.1l0.3 0l0.4 0.1l0.3 -0.1l0.4 0l0.3 0l0.4 0l0.3 0l0.4 0l0.3 0l0.4 0l0.3 0l0.4 -0.1l0.3 0l0.4 0l0.3 0l0.4 0l0.3 0.1l0.4 -0.1l0.3 0.1l0.4 -0.1l0.3 0.1l0.4 -0.1l0.3 0l0.4 0l0.3 0l0.4 -0.1l0.3 0.1l0.4 -0.1l0.3 0l0.4 0l0.3 -0.1l0.4 0.1l0.3 -0.1l0.4 0l0.3 0l0.4 0l0.3 -0.1l0.4 0l0.3 -0.1l0.4 0l0.3 0l0.4 -0.1l0.3 -0.1l0.4 -0.1l0.3 -0.1l0.4 0l0.3 -0.2l0.4 -0.2l0.3 -0.1l0.4 -0.2l0.3 -0.2l0.4 -0.3l0.3 -0.3l0.4 -0.4l0.3 -0.3l0.4 -0.5l0.3 -0.5l0.4 -0.5l0.3 -0.4l0.4 -0.5l0.3 0l0.4 -1l0.3 -0.4l0.4 -0.3l0.3 -0.1l0.4 -0.1l0.3 0.2l0.4 0.3l0.3 0.4l0.4 0.8l0.3 0.1l0.4 0.5l0.3 0.5l0.4 0.5l0.3 0.5l0.4 0.4l0.3 0.4l0.4 0.4l0.3 0.2l0.4 0.3l0.3 0.3l0.4 0.1l0.3 0.3l0.3 0.1l0.4 0.1l0.3 0.2l0.4 0.1l0.3 0l0.4 0.1l0.3 0.1l0.4 0l0.3 0.1l0.4 0l0.3 0l0.4 0.1l0.3 0l0.4 0.1l0.3 -0.1l0.4 0.1l0.3 0l0.4 0l0.3 0.1l0.4 0.8l0.3 -0.9l0.4 0.1l0.3 0l0.4 0l0.3 0l0.4 0l0.3 0.1l0.4 -0.1l0.3 0l0.4 0l0.3 0.1l0.4 0l0.3 0l0.4 0l0.3 0l0.4 0l0.3 0l0.4 0l0.3 0.1l0.4 -0.1l0.3 0.1l0.4 0l0.3 -0.1l0.4 0.1l0.3 -0.1l0.4 0.2l0.3 -0.1l0.4 0l0.3 0l0.4 0l0.3 -0.1l0.4 0.1l0.3 0l0.4 0l0.3 0l0.4 0l0.3 0l0.4 0l0.3 0.1l0.4 0.7l0.3 -0.8l0.4 0.1l0.3 -0.1l0.4 0l0.3 0l0.4 0l0.3 0.1l0.4 -0.1l0.3 0.1l0.4 0l0.3 -0.1l0.4 0l0.3 0.1l1.5 -0.1l1.5 0.1l1.5 -0.1l1.5 0.1l1.5 -0.1l1.5 0.1" fill="none" stroke="#4a4a4a" stroke-width="1.5" stroke-linejoin="round"/>
<path d="M1152.2 157.9l2.6 -0.1l2.6 -0.1l2.6 0.2l2.6 -0.3l2.6 0l2.6 0.1l2.6 0.1l2.6 -0.2l2.6 0.1l2.6 -0.1l2.6 0l2.6 -0.1l2.6 0.1l2.6 -0.2l2.6 0l2.6 0l2.6 0l2.6 0.1l2.6 0l2.6 0l2.6 -0.2l2.6 0l2.6 0l2.6 -0.1l2.6 0l2.6 0l2.6 0.1l2.6 -0.2l2.6 0.2l2.6 -0.2l2.6 0.1l2.6 -0.2l2.6 0.1l2.6 0l2.6 -0.3l2.6 0.3l2.6 -0.4l2.6 0l2.6 0.2l2.6 -0.3l2.6 0l2.6 -0.2l2.6 0l2.6 0l2.6 -0.2l2.6 0.1l2.6 -0.3l2.6 0l2.6 -0.2l2.6 -0.2l2.6 -0.4l2.6 -0.2l2.6 -0.4l2.6 -0.4l2.6 -0.8l2.6 -1.1l2.6 -1.3l2.6 -2.4l2.6 -3.4l2.6 -4.4l2.6 -6.1l2.6 -7.4l2.6 -8.8l2.6 -9.7l2.6 -9.5l2.6 -8l2.6 -5l2.6 -0.9l2.6 3.5l2.6 7.1l2.6 9.1l2.6 9.5l2.6 9.3l2.6 7.9l2.6 6.7l2.6 5.1l2.6 3.6l2.6 2.8l2.6 1.6l2.6 1.4l2.6 0.5l2.6 0.7l2.6 0.3l2.6 0.5l2.6 0.1l2.6 0.2l2.6 0.2l2.6 0l2.6 0.3l2.6 0l2.6 0.2l2.6 -0.2l2.6 0.1l2.6 0.3l2.6 -0.1l2.6 0.1l2.6 -0.1l2.6 0.1l2.6 0.1l1 -0.1" fill="none" stroke="#4a4a4a" stroke-width="1.8" stroke-linejoin="round"/>
<path d="M84.1 231.3l1.5 0l1.5 0l1.5 0l1.5 0l1.5 0l1.5 0l1.5 0l1.5 0l1.5 0l1.5 0l1.5 0.1l1.5 -0.1l1.5 0l1.5 0l1.5 0l1.5 0.1l1.5 -0.1l1.5 0.1l1.5 -0.1l1.5 0.1l1.5 -0.1l1.5 0l1.5 0l1.5 0l1.5 0.1l1.5 -0.1l1.5 0l1.5 0.1l1.5 0l1.5 -0.1l1.5 0l1.5 0.1l1.5 -0.1l1.5 0l1.5 0.1l1.5 0l1.5 0l1.5 0.6l1.5 -0.6l1.5 0l1.5 -0.1l1.5 0l1.5 0l1.5 0.1l1.5 0l1.5 0l1.5 0l1.5 -0.1l1.5 0.2l1.5 -0.1l1.5 0l1.5 0l1.5 0l1.5 -0.1l1.5 0.1l1.5 -0.1l1.5 0.1l1.5 0l1.5 0l1.5 -0.1l1.5 0l1.5 0.1l1.5 0l1.5 0l1.5 0l1.5 0l1.5 0l1.5 0l1.5 0l1.5 0l1.5 0.1l1.5 -0.1l1.5 0l1.5 0l1.5 0.1l1.5 -0.1l1.5 0l1.5 0l1.5 0l1.5 0l1.5 0.1l1.5 0l1.5 0l1.5 -0.1l1.5 0l1.5 0.1l1.5 0l1.5 -0.1l1.5 0l1.5 0.1l1.5 -0.1l1.5 0.1l1.5 0l1.5 0l1.5 -0.1l1.5 0l1.5 0l1.5 0l1.5 0.2l1.5 -0.1l1.5 0l1.5 -0.1l1.5 0.1l1.5 0l1.5 -0.1l1.5 0.1l1.5 0l1.5 -0.1l1.5 0.1l1.5 0l1.5 0l1.5 0l1.5 -0.1l1.5 0.1l1.5 0l1.5 0l1.5 -0.1l1.5 0.1l1.5 0l1.5 0l1.5 0l1.5 0l1.5 0l1.5 -0.1l1.5 0.2l1.5 -0.1l1.5 0l1.5 0l1.5 0l1.5 0l1.5 0l1.5 -0.1l1.5 0.1l1.5 0l1.5 0l1.5 0l1.5 0l1.5 0l1.5 0l1.5 0l1.5 0l1.5 0l1.5 0l1.5 0l1.5 0l1.5 0l1.5 0.1l1.5 -0.1l1.5 0.1l1.5 -0.1l1.5 0l1.5 0.1l1.5 0l1.5 0l1.5 -0.1l1.5 0.1l1.5 -0.1l1.5 0l1.5 0.1l1.5 0l1.5 -0.1l1.5 0l1.5 0l1.5 0.1l1.5 -0.1l1.5 0.1l1.5 0l1.5 -0.1l1.5 0l1.5 0.1l1.5 0l1.5 0l1.5 0l1.5 -0.1l1.5 0l1.5 0.1l1.5 -0.1l1.5 0.1l1.5 0l1.5 0l1.5 0l1.5 0.4l1.5 -0.5l1.5 0l1.5 0.8l1.5 -0.7l1.5 0l1.5 -0.1l1.5 0.1l1.5 0l1.5 0l1.5 0l1.5 0l1.5 0l1.5 0l1.5 0l1.5 0l1.5 0l1.5 0l1.5 -0.1l1.5 0.1l1.5 -0.1l1.5 0.1l1.5 -0.1l1.5 -0.1l1.5 0.1l1.5 -0.1l1.5 0l1.5 -0.1l1.5 0l1.5 0l1.5 -0.3l0.4 -0.1l0.3 0l0.4 -0.1l0.3 0l0.4 -0.2l0.3 -0.1l0.4 -0.1l0.3 -0.1l0.4 -0.2l0.3 -0.1l0.4 -0.3l0.3 -0.3l0.4 -0.3l0.3 -0.4l0.4 -0.5l0.3 -0.7l0.4 -0.9l0.3 -1.3l0.4 -1.9l0.3 -3.1l0.4 -5l0.3 -8l0.4 -11.6l0.3 -15.2l0.4 -15l0.3 -6.8l0.4 6.8l0.3 15.1l0.4 15.1l0.3 11.7l0.4 7.9l0.3 5.1l0.4 3l0.3 2l0.4 1.2l0.3 0.9l0.4 0.7l0.3 0.5l0.4 0.4l0.3 0.4l0.4 0.2l0.3 0.3l0.4 0.2l0.3 0l0.4 0.3l0.3 0.1l0.4 0.9l0.3 -0.8l0.4 0.1l0.3 0l0.4 0.1l0.3 0.2l0.4 0l0.3 0l1.5 0.2l1.5 0.1l1.5 -0.1l1.5 0.1l1.5 0l1.5 0.1l1.5 0l1.5 0.1l1.5 0l1.5 -0.1l1.5 0.1l1.5 0l1.5 0l1.5 0l1.5 0l1.5 0l1.5 0.1l1.5 -0.1l1.5 0l1.5 0.1l1.5 -0.1l1.5 0.1l1.5 0l1.5 -0.1l1.5 0.1l1.5 -0.1l1.5 0.1l1.5 0l1.5 0l1.5 0l1.5 0l1.5 0l1.5 0l1.5 0.1l1.5 -0.1l1.5 0l1.5 0l1.5 0l1.5 0l1.5 0l1.5 0l1.5 0l1.5 0.1l1.5 -0.1l1.5 0l1.5 0l1.5 0.1l1.5 0l1.5 -0.1l1.5 0l1.5 0.1l1.5 0l1.5 -0.1l1.5 0l1.5 0l1.5 0l1.5 0l1.5 0.1l1.5 0l1.5 -0.1l1.5 0l1.5 0.1l1.5 -0.1l1.5 0.1l1.5 0l1.5 0l1.5 0l1.5 0l1.5 -0.1l1.5 0.4l1.5 -0.3l1.5 -0.1l1.5 0.1l1.5 -0.1l1.5 0l1.5 0.1l1.5 -0.1l1.5 0.1l1.5 -0.1l1.5 0.1l1.5 0l1.5 0l1.5 0l1.5 0l1.5 0l1.5 0l1.5 -0.1l1.5 0.1l1.5 0l1.5 0l1.5 0l1.5 0l1.5 0l1.5 0.4l1.5 -0.4l1.5 0l1.5 0l1.5 0l1.5 0l1.5 0l1.5 0l1.5 0.1l1.5 -0.1l1.5 0l1.5 0l1.5 0l1.5 -0.1l1.5 0.1l1.5 -0.1l1.5 0.1l1.5 0l1.5 0l1.5 0l1.5 -0.1l1.5 0.1l1.5 0l1.5 0l1.5 -0.1l1.5 0.1l1.5 0l1.5 0l1.5 0l1.5 -0.1l1.5 -0.1l1.5 0.1l1.5 0l1.5 -0.1l1.5 0l1.5 -0.1l1.5 -0.1l0.4 -0.1l0.3 -0.1l0.4 0l0.3 -0.1l0.4 -0.1l0.3 -0.1l0.4 0l0.3 -0.1l0.4 -0.1l0.3 -0.2l0.4 -0.1l0.3 -0.2l0.4 -0.2l0.3 -0.2l0.4 -0.3l0.3 -0.5l0.4 -0.4l0.3 -0.7l0.4 -0.9l0.3 -1.3l0.4 -1.9l0.3 -3l0.4 -4.7l0.3 -7.2l0.4 -10l0.3 -12.3l0.4 -11.5l0.3 -5.2l0.4 5.1l0.3 11.7l0.4 12.3l0.3 10l0.4 7.1l0.3 4.8l0.4 2.9l0.3 1.9l0.4 1.3l0.3 0.9l0.4 0.6l0.3 0.6l0.4 0.3l0.3 0.3l0.4 0.3l0.3 0.2l0.4 0.2l0.3 0.1l0.4 0.2l0.3 0.1l0.4 0.1l0.3 0.1l0.4 0.1l0.3 0l0.4 0.1l0.3 0.1l0.4 0l0.3 0l0.4 0.1l0.3 0.4l1.5 0.6l1.5 0.2l1.5 -0.9l1.5 0l1.5 0l1.5 0l1.5 0.1l1.5 0l1.5 0l1.5 0.7l1.5 -0.7l1.5 0l1.5 0.1l1.5 0l1.5 0l1.5 0l1.5 -0.1l1.5 0l1.5 0.1l1.5 -0.1l1.5 0.1l1.5 0l1.5 0l1.5 -0.1l1.5 0.1l1.5 0l1.5 0l1.5 0l1.5 0l1.5 0.1l1.5 -0.1l1.5 0l1.5 0l1.5 0l1.5 0l1.5 0.1l1.5 0l1.5 -0.1l1.5 0l1.5 0l1.5 0.1l1.5 -0.1l1.5 0l1.5 0.1l1.5 -0.1l1.5 0.2l1.5 -0.1l1.5 -0.1l1.5 0l1.5 0l1.5 0.1l1.5 0l1.5 0l1.5 0l1.5 0l1.5 -0.1l1.5 0l1.5 0.1l1.5 -0.1l1.5 0.1l1.5 -0.1l1.5 0l1.5 0l1.5 0.1l1.5 0l1.5 0l1.5 0l1.5 0l1.5 0l1.5 0l1.5 0l1.5 -0.1l1.5 0.1l1.5 0l1.5 0.3l1.5 -0.4l1.5 0.1l1.5 0l1.5 0l1.5 0l1.5 0l1.5 0l1.5 -0.1l1.5 0l1.5 0.1l1.5 0l1.5 0l1.5 0l1.5 0l1.5 0l1.5 0l1.5 0l1.5 -0.1l1.5 0.1l1.5 0l1.5 -0.1l1.5 0.1l1.5 -0.1l1.5 0l1.5 0l0.4 -0.1l0.3 0.1l0.4 -0.1l0.3 0l0.4 0l0.3 -0.1l0.4 0l0.3 0.1l0.4 -0.1l0.3 0l0.4 0l0.3 0l0.4 -0.1l0.3 0l0.4 0l0.3 -0.2l0.4 0l0.3 -0.1l0.4 -0.1l0.3 -0.1l0.4 -0.2l0.3 -0.1l0.4 -0.3l0.3 -0.4l0.4 -0.6l0.3 -0.8l0.4 -1.1l0.3 -1.8l0.4 -2.5l0.3 -3.1l0.4 -3.3l0.3 -2.9l0.4 -1l0.3 1.7l0.4 3l0.3 3.5l0.4 2.8l0.3 2.3l0.4 1.6l0.3 1.1l0.4 0.7l0.3 0.5l0.4 0.3l0.3 0.3l0.4 0.1l0.3 0.3l0.4 0l0.3 0.1l0.4 0.1l0.3 0.1l0.4 0l0.3 0.1l0.4 0l0.3 0l0.4 0.1l0.3 0l0.4 0l0.3 0.1l0.4 0l0.3 0l0.4 0.1l0.3 -0.1l0.4 0l0.3 0.1l0.4 0l0.3 0l0.4 0l1.5 0.1l1.5 0l1.5 -0.1l1.5 0.1l1.5 0.1l1.5 -0.1l1.5 0l1.5 0.1l1.5 -0.1l1.5 0l1.5 0.1l1.5 0l1.5 -0.1l1.5 0l1.5 0.1l1.5 0l1.5 0l1.5 0l1.5 -0.1l1.5 0.1l1.5 0l1.5 0l1.5 0l1.5 0l1.5 0l1.5 0l1.5 0l1.5 0l1.5 0l1.5 0l1.5 0l1.5 -0.1l1.5 0.1l1.5 0.1l1.5 -0.1l1.5 0.1l1.5 -0.1l1.5 0l1.5 0l1.5 0l1.5 0l1.5 0l1.5 0l1.5 0.8l1.5 -0.7l1.5 -0.1l1.5 0.1l1.5 -0.1l1.5 0l1.5 0.1l1.5 0l1.5 0l1.5 -0.1l1.5 0l1.5 0l1.5 0.1l1.5 -0.1l1.5 0.1l1.5 0l1.5 0l1.5 -0.1l1.5 0l1.5 0l1.5 0.1l1.5 0l1.5 -0.1l1.5 0.1l1.5 -0.1l1.5 0.1l1.5 0.2l1.5 -0.2l1.5 0l1.5 0l1.5 0.9l1.5 -0.9l1.5 0l1.5 0l1.5 0l1.5 0l1.5 -0.1l1.5 0l0.3 0l0.4 0l0.3 0.1l0.4 -0.1l0.3 0.1l0.4 -0.1l0.3 0l0.4 0l0.3 0l0.4 0l0.3 0l0.4 0l0.3 0l0.4 0l0.3 0l0.4 0l0.3 0l0.4 -0.1l0.3 0.1l0.4 0l0.3 0l0.4 -0.1l0.3 0l0.4 0.1l0.3 -0.1l0.4 0l0.3 -0.1l0.4 0.1l0.3 0l0.4 -0.1l0.3 -0.1l0.4 0l0.3 -0.1l0.4 0l0.3 -0.1l0.4 -0.1l0.3 -0.1l0.4 -0.3l0.3 -0.2l0.4 -0.4l0.3 -0.3l0.4 -0.5l0.3 -0.5l0.4 -0.7l0.3 -0.6l0.4 -0.4l0.3 -0.3l0.4 0.1l0.3 0.3l0.4 0.6l0.3 0.6l0.4 0.6l0.3 0.9l0.4 0.1l0.3 0.4l0.4 0.2l0.3 0.3l0.4 0.1l0.3 0.2l0.4 0l0.3 0.1l0.4 0.1l0.3 0.1l0.4 0l0.3 0l0.4 0l0.3 0.1l0.4 0l0.3 0l0.4 0l0.3 0l0.4 0l0.3 0.1l0.4 0l0.3 0l0.4 0l0.3 0l0.4 0l0.3 0.1l0.4 -0.1l0.3 0l0.4 0l0.3 0l0.4 0l0.3 0.1l0.4 -0.1l0.3 0.1l0.4 0l0.3 0l0.4 0l0.3 -0.1l0.4 0.1l0.3 0l0.4 0l0.3 0.9l0.4 -1l0.3 0.1l0.4 0l1.5 0l1.5 0l1.5 0l1.5 0l1.5 0l1.5 0l1.5 0l1.5 0l1.5 0.1l1.5 -0.1l1.5 0l1.5 0l1.5 0l1.5 0.1l1.5 -0.1l1.5 0l1.5 0.1l1.5 0l1.5 0l1.5 -0.1l1.5 0l1.5 0l1.5 0.1l1.5 0l1.5 -0.1l1.5 0.1l1.5 0l1.5 0l1.5 0l1.5 0l1.5 0l1.5 -0.1l1.5 0.1l1.5 -0.1l1.5 0.1l1.5 0l1.5 0l1.5 0l1.5 0l1.5 -0.1l1.5 0l1.5 0l1.5 0.1l1.5 0l1.5 -0.1l1.5 0.1l1.5 0l1.5 0l1.5 0l1.5 0.1l1.5 -0.1l1.5 0l1.5 0l1.5 0l1.5 0l1.5 0l1.5 0l1.5 -0.1l1.5 0.1l1.5 0l1.5 0l1.5 0l1.5 0l1.5 -0.1l1.5 0.1l1.5 0l1.5 0l1.5 0l1.5 0l1.5 0l0.3 -0.1l0.4 0l0.3 0l0.4 -0.1l0.3 0.1l0.4 0l0.3 -0.1l0.4 0.1l0.3 -0.1l0.4 0.1l0.3 0l0.4 -0.1l0.3 0l0.4 0l0.3 0l0.4 0.2l0.3 -0.2l0.4 -0.1l0.3 0l0.4 -0.1l0.3 0l0.4 0l0.3 -0.1l0.4 0l0.3 -0.1l0.4 0l0.3 -0.1l0.4 -0.2l0.3 0l0.4 -0.2l0.3 -0.2l0.4 -0.2l0.3 -0.2l0.4 -0.5l0.3 -0.6l0.4 -0.8l0.3 -1l0.4 -1.4l0.3 -1.6l0.4 -2l0.3 -2l0.4 -1.9l0.3 -1.2l0.4 -0.1l0.3 1l0.4 1.8l0.3 2.1l0.4 2l0.3 1.7l0.4 1.5l0.3 1l0.4 0.9l0.3 0.5l0.4 0.4l0.3 0.4l0.4 0.2l0.3 0.3l0.4 0.1l0.3 0.1l0.4 0l0.3 0.1l0.4 0.2l0.3 0l0.4 0l0.3 0.1l0.4 0l0.3 0.1l0.4 0l0.3 0l0.3 0.1l0.4 0l0.3 0l0.4 0l0.3 0l0.4 0l0.3 0.1l0.4 -0.1l0.3 0l0.4 0.1l0.3 0l0.4 -0.1l0.3 0.2l0.4 0l0.3 0l0.4 -0.1l0.3 0l0.4 0l0.3 0.1l1.5 0l1.5 -0.1l1.5 0.1l1.5 0.1l1.5 0l1.5 -0.1l1.5 0l1.5 0.4l1.5 -0.3l1.5 0l1.5 0l1.5 0l1.5 -0.1l1.5 0.1l1.5 0l1.5 0l1.5 0l1.4 -0.1" fill="none" stroke="#cc4c78" stroke-width="1.5" stroke-linejoin="round"/>
<path d="M1152.2 232.1l2.6 0.1l2.6 0.1l2.6 -0.1l2.6 -0.1l2.6 -0.1l2.6 0.2l2.6 0.1l2.6 -0.2l2.6 0l2.6 -0.1l2.6 0.2l2.6 -0.3l2.6 0.2l2.6 -0.2l2.6 0.1l2.6 0l2.6 0.1l2.6 -0.3l2.6 0.1l2.6 -0.1l2.6 0.2l2.6 -0.1l2.6 -0.1l2.6 -0.1l2.6 0l2.6 0.2l2.6 -0.1l2.6 -0.2l2.6 0.1l2.6 -0.1l2.6 0.1l2.6 0.1l2.6 -0.3l2.6 0.1l2.6 -0.1l2.6 0l2.6 -0.1l2.6 -0.1l2.6 -0.1l2.6 0l2.6 0.1l2.6 -0.2l2.6 0.2l2.6 -0.2l2.6 -0.3l2.6 0.1l2.6 -0.1l2.6 -0.2l2.6 0l2.6 -0.4l2.6 -0.2l2.6 0l2.6 -0.6l2.6 -0.2l2.6 -0.8l2.6 -0.9l2.6 -1.6l2.6 -2.6l2.6 -4.6l2.6 -6.3l2.6 -8.7l2.6 -11l2.6 -12.2l2.6 -11.4l2.6 -7.7l2.6 -1.3l2.6 5.5l2.6 10.2l2.6 12.2l2.6 11.6l2.6 9.6l2.6 7.4l2.6 4.9l2.6 3.2l2.6 2.1l2.6 1l2.6 1l2.6 0.3l2.6 0.3l2.6 0.4l2.6 0l2.6 0.3l2.6 0.2l2.6 0.1l2.6 0l2.6 0.1l2.6 0.2l2.6 0.1l2.6 -0.2l2.6 0.3l2.6 0l2.6 -0.2l2.6 0l2.6 0.1l2.6 0.2l2.6 0.1l2.6 -0.2l2.6 0l2.6 0.1l1 0.1" fill="none" stroke="#cc4c78" stroke-width="1.8" stroke-linejoin="round"/>
<path d="M84.1 305.3l1.5 0l1.5 0l1.5 0l1.5 0l1.5 -0.1l1.5 0.1l1.5 0.1l1.5 -0.1l1.5 0l1.5 0.1l1.5 -0.1l1.5 0.1l1.5 -0.1l1.5 0.1l1.5 -0.1l1.5 0l1.5 0l1.5 0.1l1.5 -0.1l1.5 0l1.5 0.1l1.5 -0.1l1.5 0.1l1.5 -0.1l1.5 0l1.5 0l1.5 0.1l1.5 -0.1l1.5 0.1l1.5 -0.1l1.5 0l1.5 0.1l1.5 0l1.5 0l1.5 -0.1l1.5 0l1.5 0l1.5 0l1.5 0.1l1.5 0l1.5 0l1.5 0l1.5 0l1.5 -0.1l1.5 0l1.5 0.1l1.5 0l1.5 -0.1l1.5 0l1.5 0.1l1.5 -0.1l1.5 0.1l1.5 0l1.5 0.3l1.5 -0.3l1.5 -0.1l1.5 0.5l1.5 -0.4l1.5 -0.1l1.5 0.1l1.5 0l1.5 -0.1l1.5 0.1l1.5 -0.1l1.5 1.1l1.5 -1l1.5 0l1.5 -0.1l1.5 0l1.5 0.1l1.5 0l1.5 0l1.5 0.1l1.5 0l1.5 -0.1l1.5 0l1.5 0l1.5 0l1.5 0l1.5 0l1.5 0l1.5 0l1.5 0.1l1.5 0l1.5 -0.1l1.5 0l1.5 0l1.5 0l1.5 0l1.5 0.1l1.5 -0.1l1.5 0l1.5 0.1l1.5 0l1.5 -0.1l1.5 0l1.5 0l1.5 0l1.5 0.1l1.5 -0.1l1.5 0.1l1.5 -0.1l1.5 0.1l1.5 0l1.5 0l1.5 0l1.5 0l1.5 0l1.5 0.8l1.5 -0.9l1.5 0.1l1.5 -0.1l1.5 0.1l1.5 -0.1l1.5 0.1l1.5 0l1.5 0l1.5 0l1.5 0l1.5 0l1.5 -0.1l1.5 0.1l1.5 0l1.5 0l1.5 -0.1l1.5 0.1l1.5 0l1.5 0l1.5 0l1.5 -0.1l1.5 0.1l1.5 0l1.5 0l1.5 0l1.5 0l1.5 0l1.5 0l1.5 -0.1l1.5 0.1l1.5 0l1.5 0.1l1.5 -0.1l1.5 0.1l1.5 -0.1l1.5 0l1.5 0l1.5 0l1.5 0l1.5 0l1.5 0l1.5 0l1.5 0l1.5 0l1.5 0l1.5 0l1.5 0l1.5 0l1.5 0l1.5 0l1.5 0l1.5 0l1.5 0l1.5 0l1.5 0.1l1.5 -0.1l1.5 0.1l1.5 -0.1l1.5 0l1.5 0.6l1.5 -0.6l1.5 0.1l1.5 -0.1l1.5 0.1l1.5 0l1.5 0l1.5 -0.1l1.5 0l1.5 0l1.5 0l1.5 0.1l1.5 -0.1l1.5 0.1l1.5 0l1.5 0l1.5 0l1.5 -0.1l1.5 0.1l1.5 -0.1l1.5 0.1l1.5 0l1.5 -0.1l1.5 0l1.5 0l1.5 0l1.5 0l1.5 0.1l1.5 -0.1l1.5 0.1l1.5 -0.1l1.5 0.1l1.5 -0.1l1.5 0l1.5 0l1.5 0l1.5 -0.1l1.5 0.1l1.5 -0.1l1.5 0l1.5 -0.1l1.5 -0.1l1.5 -0.1l1.5 -0.1l0.4 -0.2l0.3 0l0.4 0l0.3 -0.1l0.4 -0.2l0.3 0l0.4 -0.2l0.3 -0.1l0.4 -0.2l0.3 -0.1l0.4 0.2l0.3 -0.8l0.4 -0.4l0.3 -0.4l0.4 -0.6l0.3 -0.8l0.4 -1.1l0.3 -1.6l0.4 -2.4l0.3 -4.1l0.4 -6.5l0.3 -9.9l0.4 -13.6l0.3 -15.5l0.4 -11.4l0.3 0.9l0.4 12.6l0.3 15.5l0.4 13.2l0.3 9.3l0.4 6.2l0.3 3.7l0.4 2.3l0.3 1.4l0.4 1.1l0.3 0.8l0.4 0.5l0.3 1.1l0.4 -0.3l0.3 0.3l0.4 0.3l0.3 0.2l0.4 0.2l0.3 0.1l0.4 0l0.3 0.2l0.4 0l0.3 0.2l0.4 0l0.3 0.1l0.4 0.1l0.3 0.5l0.4 -0.4l0.3 -0.1l1.5 0.2l1.5 0.1l1.5 0.1l1.5 0l1.5 0.1l1.5 -0.1l1.5 0.1l1.5 0.1l1.5 0l1.5 -0.1l1.5 0.1l1.5 0l1.5 -0.1l1.5 0.1l1.5 0l1.5 0.1l1.5 -0.1l1.5 0l1.5 0l1.5 0l1.5 0l1.5 0.1l1.5 0l1.5 -0.1l1.5 0l1.5 0.1l1.5 -0.1l1.5 0l1.5 0.1l1.5 -0.1l1.5 0.1l1.5 -0.1l1.5 0.1l1.5 -0.1l1.5 0l1.5 0.1l1.5 -0.1l1.5 0.1l1.5 0l1.5 0l1.5 0l1.5 0l1.5 0l1.5 0l1.5 0l1.5 0l1.5 -0.1l1.5 0l1.5 0l1.5 0.1l1.5 0l1.5 0l1.5 0l1.5 0l1.5 0l1.5 0l1.5 0l1.5 0l1.5 0.1l1.5 -0.2l1.5 0.1l1.5 0.1l1.5 -0.1l1.5 0.1l1.5 -0.1l1.5 0l1.5 0l1.5 0.1l1.5 -0.1l1.5 0l1.5 0l1.5 0.4l1.5 -0.3l1.5 -0.1l1.5 0.1l1.5 -0.1l1.5 0l1.5 0l1.5 0l1.5 0l1.5 0.1l1.5 -0.1l1.5 0l1.5 0l1.5 0l1.5 0.1l1.5 -0.1l1.5 0.1l1.5 -0.1l1.5 0l1.5 0l1.5 0l1.5 0.1l1.5 -0.1l1.5 0l1.5 0.1l1.5 0l1.5 -0.1l1.5 0l1.5 0.1l1.5 -0.1l1.5 0l1.5 0.8l1.5 -0.8l1.5 0.1l1.5 -0.1l1.5 0.1l1.5 0l1.5 0l1.5 -0.1l1.5 0l1.5 0l1.5 0l1.5 0l1.5 0l1.5 0l1.5 0.1l1.5 -0.1l1.5 0.1l1.5 0l1.5 -0.1l1.5 -0.1l1.5 0.1l1.5 0l1.5 0l1.5 -0.1l1.5 0l1.5 0l1.5 -0.1l1.5 -0.1l1.5 -0.2l0.4 -0.1l0.3 0l0.4 0l0.3 -0.1l0.4 0l0.3 -0.1l0.4 -0.2l0.3 0l0.4 -0.2l0.3 -0.1l0.4 -0.3l0.3 -0.2l0.4 -0.3l0.3 -0.3l0.4 -0.5l0.3 -0.6l0.4 -0.9l0.3 -1.2l0.4 -1.9l0.3 -3l0.4 -4.7l0.3 -6.9l0.4 -9.3l0.3 -10.9l0.4 -9.2l0.3 -2l0.4 6.7l0.3 10.7l0.4 10.3l0.3 8l0.4 5.5l0.3 3.7l0.4 2.2l0.3 1.6l0.4 1l0.3 0.7l0.4 0.4l0.3 0.4l0.4 0.3l0.3 0.4l0.4 0.1l0.3 0.2l0.4 0.2l0.3 0.2l0.4 0.1l0.3 0l0.4 0.1l0.3 0.1l0.4 0l0.3 0.1l0.4 0.1l0.3 0l0.4 0l0.3 0.1l0.4 0l0.3 0l1.5 0.2l1.5 0l1.5 0l1.5 0.1l1.5 0l1.5 0.1l1.5 -0.1l1.5 0.1l1.5 -0.1l1.5 0.1l1.5 0l1.5 0l1.5 0l1.5 0.2l1.5 -0.2l1.5 0l1.5 1l1.5 -1l1.5 0.1l1.5 -0.1l1.5 0l1.5 0l1.5 0l1.5 0l1.5 0l1.5 0.1l1.5 0l1.5 -0.1l1.5 0l1.5 0l1.5 0l1.5 0l1.5 0l1.5 0.1l1.5 -0.1l1.5 0.1l1.5 0.5l1.5 -0.5l1.5 0l1.5 0l1.5 -0.1l1.5 0.1l1.5 0l1.5 0l1.5 0l1.5 0l1.5 0l1.5 0l1.5 0l1.5 0l1.5 -0.1l1.5 0.1l1.5 0l1.5 0l1.5 0l1.5 0l1.5 0l1.5 0l1.5 0l1.5 0l1.5 0l1.5 0.1l1.5 -0.1l1.5 0l1.5 0.1l1.5 0l1.5 -0.1l1.5 0l1.5 0.1l1.5 -0.1l1.5 0.1l1.5 0l1.5 -0.1l1.5 0l1.5 0l1.5 0l1.5 0.1l1.5 -0.1l1.5 0.1l1.5 0l1.5 -0.1l1.5 0l1.5 0.1l1.5 -0.1l1.5 0l1.5 0.1l1.5 0l1.5 -0.1l1.5 0l1.5 0.1l1.5 0l1.5 -0.1l1.5 0.1l1.5 -0.1l1.5 0l1.5 0l1.5 -0.1l1.5 0.1l0.4 -0.1l0.3 0l0.4 0.1l0.3 0l0.4 0l0.3 -0.1l0.4 0.1l0.3 -0.1l0.4 0l0.3 0l0.4 0l0.3 0l0.4 0l0.3 -0.1l0.4 0l0.3 0l0.4 0l0.3 0l0.4 -0.1l0.3 0l0.4 -0.1l0.3 -0.1l0.4 0.9l0.3 -1l0.4 -0.1l0.3 -0.1l0.4 -0.2l0.3 -0.1l0.4 -0.3l0.3 -0.3l0.4 -0.5l0.3 -0.7l0.4 -0.9l0.3 -1.2l0.4 -1.6l0.3 -1.9l0.4 -2l0.3 -1.6l0.4 -0.8l0.3 0.5l0.4 1.4l0.3 2l0.4 1.9l0.3 1.7l0.4 1.3l0.3 1l0.4 0.8l0.3 0.6l0.4 0.2l0.3 0.4l0.4 0.2l0.3 0l0.4 0.2l0.3 0.2l0.4 0l0.3 0.1l0.4 0l0.3 0l0.4 0.1l0.3 0l0.4 0l0.3 0.1l0.4 0l0.3 0l0.4 0.1l0.3 0l0.4 0l0.3 0l0.4 0l0.3 0l0.4 0l0.3 0.1l0.4 0l0.3 0l0.4 0l0.3 -0.1l0.4 0.1l0.3 0l0.4 0l1.5 0l1.5 0l1.5 0.1l1.5 0l1.5 0l1.5 0l1.5 -0.1l1.5 0.1l1.5 0l1.5 -0.1l1.5 0.1l1.5 -0.1l1.5 0l1.5 0.1l1.5 0.3l1.5 -0.3l1.5 0l1.5 0l1.5 0.1l1.5 -0.1l1.5 0.1l1.5 -0.1l1.5 0l1.5 0.1l1.5 -0.1l1.5 0l1.5 0.1l1.5 -0.1l1.5 0l1.5 0.1l1.5 0l1.5 -0.1l1.5 0l1.5 0l1.5 0l1.5 0l1.5 0l1.5 0l1.5 0.1l1.5 -0.1l1.5 0.1l1.5 -0.1l1.5 0.1l1.5 -0.1l1.5 0.1l1.5 -0.1l1.5 0.1l1.5 0l1.5 0l1.5 -0.1l1.5 0l1.5 0.1l1.5 -0.1l1.5 0l1.5 0.1l1.5 -0.1l1.5 0.1l1.5 -0.1l1.5 0l1.5 0.1l1.5 0l1.5 0l1.5 0l1.5 0l1.5 0l1.5 0.8l1.5 -0.9l1.5 0.1l1.5 0l1.5 -0.1l1.5 0.1l1.5 0l1.5 -0.1l1.5 0.1l1.5 -0.1l1.5 0l1.5 0.1l1.5 0l1.5 0l1.5 0l0.3 -0.1l0.4 0l0.3 0.1l0.4 -0.1l0.3 0l0.4 0l0.3 0.1l0.4 -0.1l0.3 0l0.4 0.1l0.3 -0.1l0.4 0.1l0.3 0l0.4 -0.1l0.3 0l0.4 0l0.3 0l0.4 0.1l0.3 -0.2l0.4 0.1l0.3 -0.1l0.4 0l0.3 0l0.4 0l0.3 0l0.4 0l0.3 -0.1l0.4 0l0.3 0l0.4 -0.1l0.3 0l0.4 -0.1l0.3 0l0.4 -0.1l0.3 -0.1l0.4 -0.2l0.3 -0.2l0.4 -0.3l0.3 -0.4l0.4 -0.4l0.3 -0.5l0.4 -0.6l0.3 -0.6l0.4 -0.6l0.3 -0.3l0.4 -0.1l0.3 0.1l0.4 0.5l0.3 0.5l0.4 0.7l0.3 0.6l0.4 0.4l0.3 0.5l0.4 0.3l0.3 0.2l0.4 0.3l0.3 0.1l0.4 0.2l0.3 0.1l0.4 0l0.3 0.1l0.4 0l0.3 0.1l0.4 0l0.3 0l0.4 -0.1l0.3 0.2l0.4 -0.1l0.3 0l0.4 0.1l0.3 -0.1l0.4 0.1l0.3 0l0.4 0l0.3 0.1l0.4 -0.1l0.3 0l0.4 0l0.3 0.1l0.4 0l0.3 0l0.4 0l0.3 0.8l0.4 -0.8l0.3 -0.1l0.4 0l0.3 0.1l0.4 0l0.3 0l0.4 0l0.3 0l0.4 0l0.3 0l0.4 0l0.3 -0.1l0.4 0.1l1.5 0l1.5 0.1l1.5 0l1.5 -0.1l1.5 0l1.5 0l1.5 0l1.5 0l1.5 0l1.5 0l1.5 0.1l1.5 -0.1l1.5 0.1l1.5 -0.1l1.5 0l1.5 0l1.5 0l1.5 0l1.5 0.1l1.5 0l1.5 0l1.5 0l1.5 0l1.5 0l1.5 0l1.5 0.6l1.5 -0.6l1.5 0.3l1.5 -0.3l1.5 -0.1l1.5 0l1.5 0l1.5 0.1l1.5 0l1.5 0l1.5 0l1.5 -0.1l1.5 0.1l1.5 0l1.5 0l1.5 0l1.5 0l1.5 0l1.5 0l1.5 0.2l1.5 -0.2l1.5 0l1.5 0l1.5 0l1.5 0l1.5 0l1.5 0l1.5 0l1.5 0.1l1.5 -0.1l1.5 -0.1l1.5 0.1l1.5 0l1.5 0l1.5 0l1.5 0l1.5 -0.1l1.5 0.1l1.5 0l1.5 -0.1l1.5 0l1.5 0l1.5 0l1.5 0.1l0.3 0l0.4 -0.1l0.3 0l0.4 0l0.3 0l0.4 0l0.3 0l0.4 0l0.3 -0.1l0.4 0l0.3 0.1l0.4 0l0.3 -0.1l0.4 0.1l0.3 0.6l0.4 -0.7l0.3 -0.1l0.4 0.1l0.3 -0.1l0.4 0l0.3 0l0.4 0l0.3 0l0.4 -0.1l0.3 -0.1l0.4 0.1l0.3 -0.1l0.4 -0.1l0.3 0l0.4 -0.2l0.3 0l0.4 -0.1l0.3 -0.2l0.4 -0.2l0.3 -0.2l0.4 -0.3l0.3 -0.4l0.4 -0.6l0.3 -0.6l0.4 -0.9l0.3 -1l0.4 -1.3l0.3 -1.4l0.4 -1.6l0.3 -1.4l0.4 -1.1l0.3 -0.4l0.4 0.5l0.3 1l0.4 1.4l0.3 1.5l0.4 1.6l0.3 1.2l0.4 1l0.3 0.9l0.4 0.7l0.3 0.5l0.4 0.4l0.3 0.3l0.4 0.3l0.3 0.1l0.4 0.2l0.3 0.1l0.4 0.1l0.3 0.1l0.4 0.1l0.3 0l0.4 0l0.3 0.1l0.4 0l0.3 0.1l0.3 0l0.4 0l0.3 0l0.4 0.1l0.3 0l0.4 0l0.3 0l0.4 0.1l0.3 0l0.4 0l0.3 -0.1l0.4 0l0.3 0.1l0.4 0l0.3 0l0.4 0.1l0.3 -0.1l0.4 0.1l0.3 0l0.4 -0.1l0.3 0.1l0.4 -0.1l0.3 0.1l0.4 -0.1l0.3 0.1l0.4 -0.1l1.5 0.1l1.5 0l1.5 0l1.5 0l1.5 0l1.5 0l1.5 0l1.5 0l1.5 0.6l1.5 0.5l1.5 -1l1.5 0l1.5 -0.1l1.5 0.1l1.5 0l1.5 -0.1l1.4 0.1" fill="none" stroke="#9a2ed0" stroke-width="1.5" stroke-linejoin="round"/>
<path d="M1152.2 305.9l2.6 0l2.6 0l2.6 -0.1l2.6 0l2.6 0.1l2.6 -0.2l2.6 0.2l2.6 -0.2l2.6 0.1l2.6 -0.1l2.6 -0.1l2.6 0.1l2.6 0.1l2.6 0l2.6 -0.1l2.6 -0.1l2.6 0.2l2.6 -0.2l2.6 -0.1l2.6 0.2l2.6 -0.2l2.6 0.1l2.6 -0.2l2.6 0.1l2.6 -0.1l2.6 0l2.6 0.1l2.6 0.1l2.6 -0.3l2.6 0l2.6 0l2.6 0.1l2.6 -0.1l2.6 0l2.6 0l2.6 -0.1l2.6 0l2.6 -0.2l2.6 0l2.6 -0.1l2.6 -0.1l2.6 0.2l2.6 -0.3l2.6 0.1l2.6 -0.2l2.6 -0.1l2.6 -0.1l2.6 0l2.6 -0.3l2.6 -0.1l2.6 -0.3l2.6 -0.2l2.6 -0.3l2.6 -0.6l2.6 -0.4l2.6 -0.9l2.6 -1.9l2.6 -2.6l2.6 -4.3l2.6 -6.4l2.6 -8.8l2.6 -10.8l2.6 -12.3l2.6 -11.3l2.6 -7.9l2.6 -1.4l2.6 5.7l2.6 10.4l2.6 12.1l2.6 11.6l2.6 9.6l2.6 7.2l2.6 5.2l2.6 2.9l2.6 2l2.6 1.3l2.6 0.7l2.6 0.6l2.6 0.2l2.6 0.2l2.6 0.4l2.6 0.1l2.6 0.2l2.6 0.1l2.6 -0.1l2.6 0.2l2.6 0.1l2.6 0l2.6 0.2l2.6 0.1l2.6 -0.1l2.6 0l2.6 0.1l2.6 0l2.6 0.1l2.6 0l2.6 -0.1l2.6 0.1l2.6 -0.1l1 0" fill="none" stroke="#9a2ed0" stroke-width="1.8" stroke-linejoin="round"/>
<path d="M84.1 378.5l1.5 0l1.5 0l1.5 0l1.5 0.1l1.5 -0.1l1.5 0l1.5 0.6l1.5 -0.6l1.5 0l1.5 0l1.5 0.1l1.5 0l1.5 -0.1l1.5 0.1l1.5 0l1.5 0l1.5 0l1.5 0l1.5 0l1.5 -0.1l1.5 0l1.5 0.1l1.5 0l1.5 0l1.5 -0.1l1.5 0.1l1.5 0l1.5 0l1.5 0l1.5 0l1.5 -0.1l1.5 0.1l1.5 0l1.5 0l1.5 0l1.5 0l1.5 0.1l1.5 0l1.5 -0.1l1.5 0.1l1.5 0l1.5 -0.1l1.5 0.1l1.5 0l1.5 -0.1l1.5 0.1l1.5 -0.1l1.5 0.1l1.5 -0.1l1.5 0l1.5 0l1.5 0.1l1.5 0l1.5 0l1.5 0l1.5 0l1.5 0l1.5 0l1.5 0l1.5 -0.1l1.5 0.1l1.5 0l1.5 0l1.5 0l1.5 0l1.5 0.8l1.5 -0.8l1.5 0l1.5 0l1.5 0l1.5 0.1l1.5 0l1.5 0l1.5 0l1.5 -0.1l1.5 0.6l1.5 -0.5l1.5 0l1.5 0l1.5 0l1.5 -0.1l1.5 0.1l1.5 -0.1l1.5 0.1l1.5 0l1.5 0l1.5 -0.1l1.5 0l1.5 0.1l1.5 0l1.5 0.1l1.5 -0.1l1.5 0l1.5 0l1.5 0l1.5 0l1.5 0l1.5 0l1.5 0.1l1.5 0l1.5 -0.1l1.5 0l1.5 0l1.5 0l1.5 0.1l1.5 -0.1l1.5 0.1l1.5 -0.1l1.5 0.1l1.5 0l1.5 -0.1l1.5 0l1.5 0.1l1.5 0l1.5 -0.1l1.5 0.8l1.5 -0.7l1.5 0l1.5 0l1.5 0l1.5 0l1.5 0l1.5 0l1.5 0l1.5 0l1.5 0l1.5 0l1.5 0l1.5 0l1.5 0.1l1.5 -0.1l1.5 0l1.5 0.1l1.5 -0.1l1.5 0l1.5 0l1.5 0l1.5 0l1.5 0.1l1.5 0l1.5 -0.1l1.5 0l1.5 0l1.5 0l1.5 0l1.5 0.1l1.5 0l1.5 0l1.5 0l1.5 0l1.5 0l1.5 -0.1l1.5 0.1l1.5 0l1.5 0l1.5 0l1.5 0l1.5 0l1.5 0l1.5 0l1.5 0.1l1.5 -0.1l1.5 0.1l1.5 0l1.5 -0.1l1.5 0.1l1.5 0l1.5 -0.1l1.5 0l1.5 0l1.5 0.1l1.5 -0.1l1.5 0l1.5 0.1l1.5 0l1.5 0l1.5 0l1.5 -0.1l1.5 0.1l1.5 0l1.5 0l1.5 0l1.5 0l1.5 0l1.5 -0.1l1.5 0.1l1.5 0l1.5 0l1.5 0l1.5 0l1.5 -0.1l1.5 0.1l1.5 0l1.5 0l1.5 0l1.5 -0.1l1.5 0.1l1.5 0l1.5 0l1.5 0l1.5 0l1.5 0l1.5 -0.1l1.5 0l1.5 0l1.5 0l1.5 0l1.5 -0.2l1.5 0l1.5 -0.1l1.5 -0.2l0.4 -0.1l0.3 -0.1l0.4 0l0.3 -0.1l0.4 0l0.3 -0.2l0.4 -0.1l0.3 -0.2l0.4 -0.2l0.3 -0.3l0.4 -0.1l0.3 -0.4l0.4 -0.4l0.3 -0.5l0.4 -0.8l0.3 -0.8l0.4 -1.5l0.3 -1.9l0.4 -3.3l0.3 -5.3l0.4 -8.4l0.3 -12l0.4 -15.2l0.3 -14.3l0.4 -4.9l0.3 8.5l0.4 15.2l0.3 14.6l0.4 10.9l0.3 7.4l0.4 4.6l0.3 2.9l0.4 1.8l0.3 1.1l0.4 0.9l0.3 0.6l0.4 0.4l0.3 0.5l0.4 0.3l0.3 0.2l0.4 0.3l0.3 0.1l0.4 0.3l0.3 0l0.4 0.1l0.3 0.2l0.4 0.1l0.3 0l0.4 0.1l0.3 0l0.4 0.1l0.3 0l0.4 0.1l1.5 0.1l1.5 0.1l1.5 0.1l1.5 0l1.5 0.1l1.5 0l1.5 0.1l1.5 0l1.5 0l1.5 0l1.5 0l1.5 0l1.5 0l1.5 0l1.5 0l1.5 0.1l1.5 0l1.5 -0.1l1.5 0l1.5 0.1l1.5 -0.1l1.5 0.1l1.5 0l1.5 0l1.5 0l1.5 0l1.5 0l1.5 0l1.5 0.1l1.5 -0.1l1.5 0l1.5 0l1.5 0l1.5 0l1.5 0l1.5 0.1l1.5 -0.1l1.5 0.1l1.5 0l1.5 -0.1l1.5 0l1.5 0l1.5 0l1.5 0.1l1.5 0l1.5 -0.1l1.5 0.1l1.5 0.4l1.5 -0.4l1.5 0l1.5 -0.1l1.5 1l1.5 -0.9l1.5 0.1l1.5 0l1.5 0l1.5 -0.1l1.5 0.1l1.5 -0.1l1.5 0.1l1.5 0l1.5 0l1.5 -0.1l1.5 0l1.5 0.6l1.5 -0.6l1.5 0l1.5 0l1.5 0.1l1.5 0l1.5 -0.1l1.5 0.5l1.5 -0.5l1.5 0.1l1.5 0l1.5 0l1.5 0l1.5 0l1.5 0l1.5 0l1.5 0l1.5 0l1.5 0l1.5 0l1.5 0l1.5 0.1l1.5 -0.1l1.5 0.1l1.5 -0.1l1.5 0l1.5 0l1.5 0l1.5 0.1l1.5 0l1.5 -0.1l1.5 0l1.5 0l1.5 0.1l1.5 -0.1l1.5 0l1.5 0.1l1.5 0l1.5 -0.1l1.5 0l1.5 0.1l1.5 0l1.5 0l1.5 0l1.5 0l1.5 -0.1l1.5 0l1.5 0.1l1.5 0l1.5 -0.1l1.5 0.1l1.5 0l1.5 0l1.5 -0.1l1.5 0.1l1.5 0l1.5 -0.1l1.5 0.1l1.5 -0.1l1.5 0.1l1.5 0l1.5 -0.1l1.5 -0.1l1.5 0l1.5 0l1.5 -0.1l0.3 -0.1l0.4 0l0.3 0l0.4 -0.1l0.3 0.1l0.4 0.7l0.3 -0.9l0.4 -0.1l0.3 0l0.4 0l0.3 -0.2l0.4 -0.1l0.3 -0.1l0.4 -0.2l0.3 -0.2l0.4 -0.2l0.3 -0.3l0.4 -0.3l0.3 -0.5l0.4 -0.6l0.3 -0.8l0.4 -1.4l0.3 -2l0.4 -3.1l0.3 -4.9l0.4 -6.9l0.3 -8.9l0.4 -9.3l0.3 -5.9l0.4 1.8l0.3 7.9l0.4 9.5l0.3 8.2l0.4 6l0.3 4l0.4 2.6l0.3 1.6l0.4 1.1l0.3 0.8l0.4 0.5l0.3 0.4l0.4 0.3l0.3 0.3l0.4 0.2l0.3 0.2l0.4 0.2l0.3 0.1l0.4 0.1l0.3 0.1l0.4 0.1l0.3 0l0.4 1l0.3 -0.9l0.4 0l0.3 0.1l0.4 0.1l0.3 -0.1l0.4 0.1l0.3 0.1l0.4 -0.1l1.5 0.2l1.5 0l1.5 0.1l1.5 -0.1l1.5 0.1l1.5 0l1.5 0.1l1.5 -0.1l1.5 0.1l1.5 0l1.5 0l1.5 0l1.5 0.1l1.5 0l1.5 -0.1l1.5 0l1.5 0l1.5 0l1.5 0.1l1.5 0l1.5 -0.1l1.5 0.1l1.5 -0.1l1.5 0.6l1.5 -0.5l1.5 0l1.5 0l1.5 -0.1l1.5 0.1l1.5 0l1.5 0l1.5 0l1.5 0l1.5 0l1.5 0l1.5 0l1.5 0l1.5 0.1l1.5 -0.1l1.5 0l1.5 0l1.5 0l1.5 0.1l1.5 -0.1l1.5 0l1.5 0.1l1.5 0l1.5 -0.1l1.5 0.1l1.5 0.4l1.5 -0.4l1.5 0l1.5 0l1.5 -0.1l1.5 0.1l1.5 0l1.5 -0.1l1.5 0.1l1.5 0l1.5 0l1.5 0.1l1.5 -0.1l1.5 0l1.5 0l1.5 0l1.5 0l1.5 0l1.5 0l1.5 0l1.5 0l1.5 0l1.5 0.1l1.5 -0.1l1.5 0.1l1.5 0l1.5 0l1.5 0l1.5 0l1.5 -0.1l1.5 0l1.5 0l1.5 0.1l1.5 -0.1l1.5 0.1l1.5 0l1.5 0l1.5 0l1.5 -0.1l1.5 0l1.5 0.1l1.5 0l1.5 -0.1l1.5 0l1.5 0l1.5 0.1l1.5 -0.1l1.5 0.1l1.5 0l1.5 -0.1l0.3 0l0.4 -0.1l0.3 0.7l0.4 -0.6l0.3 0l0.4 -0.1l0.3 0l0.4 -0.1l0.3 0l0.4 0l0.3 0l0.4 0l0.3 -0.1l0.4 -0.1l0.3 0.1l0.4 -0.2l0.3 0l0.4 -0.1l0.3 -0.1l0.4 -0.2l0.3 -0.1l0.4 -0.2l0.3 -0.3l0.4 -0.4l0.3 -0.6l0.4 -0.9l0.3 -1.4l0.4 -1.9l0.3 -2.7l0.4 -3l0.3 -3.2l0.4 -2l0.3 0.2l0.4 2.3l0.3 3.2l0.4 3l0.3 2.5l0.4 1.8l0.3 1.3l0.4 0.9l0.3 0.6l0.4 0.3l0.3 0.4l0.4 0.1l0.3 0.2l0.4 0.2l0.3 0.1l0.4 0l0.3 0.1l0.4 0.4l0.3 -0.3l0.4 0.1l0.3 0l0.4 0.1l0.3 0l0.4 0l0.3 0l0.4 0.1l0.3 0l0.4 -0.1l0.3 0.1l0.4 0l0.3 0l0.4 0l0.3 0l0.4 0l0.3 0l1.5 0.1l1.5 0l1.5 0.1l1.5 0l1.5 0l1.5 0l1.5 0l1.5 0l1.5 0l1.5 0l1.5 0l1.5 0l1.5 0.1l1.5 -0.1l1.5 0l1.5 0.1l1.5 -0.1l1.5 0.1l1.5 -0.1l1.5 0.1l1.5 0.2l1.5 -0.3l1.5 0.1l1.5 0l1.5 0l1.5 0l1.5 0l1.5 -0.1l1.5 0l1.5 0.1l1.5 0l1.5 0l1.5 0l1.5 0l1.5 0l1.5 0l1.5 0l1.5 0l1.5 0l1.5 0l1.5 0l1.5 0l1.5 0l1.5 0l1.5 0l1.5 0.1l1.5 -0.1l1.5 0.1l1.5 0l1.5 -0.1l1.5 0.1l1.5 -0.1l1.5 0.1l1.5 0l1.5 0l1.5 0l1.5 -0.1l1.5 0l1.5 0.1l1.5 -0.1l1.5 0.1l1.5 0.2l1.5 -0.2l1.5 0l1.5 0l1.5 0l1.5 0l1.5 0l1.5 0l1.5 0l1.5 0l1.5 0l1.5 0.1l1.5 0l1.5 -0.1l1.5 0l1.5 0l1.5 0l1.5 0l1.5 0l1.5 -0.1l0.4 0.1l0.3 0l0.4 0l0.3 0l0.4 0l0.3 0l0.4 0l0.3 0l0.4 0l0.3 -0.1l0.4 0.1l0.3 0l0.4 0l0.3 -0.1l0.4 0l0.3 0l0.4 0l0.3 0.1l0.4 -0.1l0.3 0l0.4 0l0.3 0l0.4 0l0.3 0l0.4 -0.1l0.3 0l0.4 0l0.3 0l0.4 0l0.3 -0.2l0.4 0.1l0.3 -0.1l0.4 -0.1l0.3 0l0.4 -0.2l0.3 -0.1l0.4 -0.2l0.3 -0.3l0.4 -0.3l0.3 -0.4l0.4 -0.6l0.3 -0.6l0.4 -0.7l0.3 -0.7l0.4 -0.7l0.3 -0.5l0.4 -0.1l0.3 0.3l0.4 0.5l0.3 0.7l0.4 0.7l0.3 0.7l0.4 0.5l0.3 0.7l0.4 0.3l0.3 0.3l0.4 0.3l0.3 0.1l0.4 0.2l0.3 0.1l0.4 0.1l0.3 0l0.4 0.1l0.3 0l0.4 0.1l0.3 0l0.4 0.1l0.3 0l0.4 -0.1l0.3 0.1l0.4 0l0.3 0.1l0.4 0l0.3 0l0.4 0l0.3 -0.1l0.4 0.1l0.3 -0.1l0.4 0.1l0.3 0l0.4 0l0.3 0l0.4 0l0.3 0l0.4 0.8l0.3 -0.7l0.4 0l0.3 -0.1l0.4 0.1l0.3 -0.1l0.4 0.1l0.3 -0.1l0.4 0.1l0.3 -0.1l0.4 0.1l0.3 0l0.4 0l1.5 0l1.5 0l1.5 0.1l1.5 0l1.5 -0.1l1.5 0.1l1.5 0l1.5 0l1.5 0l1.5 0l1.5 0l1.5 0l1.5 -0.1l1.5 0l1.5 0.1l1.5 0l1.5 -0.1l1.5 0.1l1.5 0l1.5 0l1.5 0l1.5 0.1l1.5 -0.1l1.5 0l1.5 0.1l1.5 -0.1l1.5 0l1.5 0l1.5 0l1.5 0l1.5 0l1.5 0l1.5 0.1l1.5 0l1.5 0l1.5 -0.1l1.5 0l1.5 0l1.5 0.1l1.5 0l1.5 0l1.5 0l1.5 -0.1l1.5 0.1l1.5 -0.1l1.5 0l1.5 0l1.5 0l1.5 0.1l1.5 -0.1l1.5 0.1l1.5 0l1.5 0l1.5 0l1.5 0l1.5 0l1.5 0l1.5 0l1.5 0l1.5 0l1.5 0.6l1.5 -0.6l1.5 0l1.5 -0.1l1.5 0.1l1.5 0l1.5 -0.1l1.5 0l1.5 0l1.5 0l1.5 0l0.3 0l0.4 0l0.3 0l0.4 -0.1l0.3 0l0.4 0l0.3 0l0.4 0l0.3 0l0.4 -0.1l0.3 0l0.4 -0.1l0.3 0l0.4 0l0.3 0.2l0.4 -0.3l0.3 0l0.4 -0.1l0.3 -0.1l0.4 0l0.3 -0.2l0.4 -0.1l0.3 -0.2l0.4 -0.2l0.3 -0.3l0.4 -0.3l0.3 0.1l0.4 -1.2l0.3 -0.9l0.4 -1.3l0.3 -1.9l0.4 -2.2l0.3 -2.8l0.4 -3l0.3 -2.8l0.4 -1.7l0.3 0.1l0.4 2l0.3 2.8l0.4 3.1l0.3 2.6l0.4 2.2l0.3 1.7l0.4 1.4l0.3 0.8l0.4 0.6l0.3 0.5l0.4 0.3l0.3 0.3l0.4 0.2l0.3 0.1l0.4 0.2l0.3 0l0.4 0.1l0.3 0.1l0.4 0.1l0.3 0.1l0.4 0l0.3 0.1l0.4 -0.1l0.3 0.2l0.4 0l0.3 0l0.4 0l0.3 0l0.4 0.4l0.3 -0.3l0.4 0l0.3 -0.1l0.3 0.1l0.4 0l0.3 0l0.4 0l0.3 0l0.4 0l0.3 0.1l0.4 0l1.5 0l1.5 0.1l1.5 -0.1l1.5 0.1l1.5 -0.1l1.5 0.1l1.5 0l1.5 0l1.5 0l1.5 0.1l1.5 0l1.5 0l1.5 0l1.5 -0.1l1.5 0l1.5 0l1.5 0l1.5 0l1.5 0.1l1.5 -0.1l1.5 0l0.7 0.1" fill="none" stroke="#42a0ee" stroke-width="1.5" stroke-linejoin="round"/>
<path d="M1152.2 380l2.6 0.1l2.6 -0.3l2.6 0.1l2.6 0.1l2.6 0l2.6 -0.1l2.6 0.1l2.6 0l2.6 0l2.6 -0.1l2.6 -0.1l2.6 0.1l2.6 -0.3l2.6 0.2l2.6 -0.1l2.6 0l2.6 0l2.6 0l2.6 0.1l2.6 -0.2l2.6 -0.1l2.6 0.1l2.6 0.1l2.6 0l2.6 -0.1l2.6 -0.2l2.6 0.1l2.6 0l2.6 -0.1l2.6 0.1l2.6 -0.2l2.6 -0.1l2.6 0.1l2.6 0.1l2.6 -0.4l2.6 0l2.6 0l2.6 0.1l2.6 -0.3l2.6 0l2.6 0.1l2.6 -0.4l2.6 -0.1l2.6 0l2.6 -0.3l2.6 -0.2l2.6 -0.2l2.6 -0.1l2.6 -0.5l2.6 -0.7l2.6 -0.7l2.6 -1.4l2.6 -2.2l2.6 -3.8l2.6 -5.3l2.6 -7.9l2.6 -9.9l2.6 -11.6l2.6 -11.8l2.6 -9.7l2.6 -4.4l2.6 2.1l2.6 7.9l2.6 11.3l2.6 11.7l2.6 10.8l2.6 8.5l2.6 6.4l2.6 4.1l2.6 2.9l2.6 1.6l2.6 0.9l2.6 0.6l2.6 0.6l2.6 0.3l2.6 0.3l2.6 0l2.6 0.2l2.6 0.1l2.6 0.1l2.6 0.3l2.6 0l2.6 0.2l2.6 -0.1l2.6 0l2.6 0.2l2.6 -0.2l2.6 0.2l2.6 0l2.6 0l2.6 0.1l2.6 -0.1l2.6 0.1l2.6 0.1l2.6 0l2.6 -0.1l2.6 -0.1l2.6 0.1l2.6 -0.1l1 0.1" fill="none" stroke="#42a0ee" stroke-width="1.8" stroke-linejoin="round"/>
<path d="M84.1 452.8l1.5 0l1.5 0l1.5 0.1l1.5 -0.1l1.5 0l1.5 0l1.5 0l1.5 0l1.5 0.1l1.5 0l1.5 -0.1l1.5 0l1.5 0.1l1.5 0l1.5 -0.1l1.5 0.1l1.5 0l1.5 -0.1l1.5 0.1l1.5 0l1.5 0l1.5 0l1.5 -0.1l1.5 0.1l1.5 0l1.5 -0.1l1.5 0l1.5 0.1l1.5 -0.1l1.5 0.1l1.5 -0.1l1.5 0.1l1.5 0l1.5 -0.1l1.5 0.1l1.5 0l1.5 -0.1l1.5 0.1l1.5 0l1.5 0l1.5 0l1.5 0l1.5 0l1.5 0l1.5 0l1.5 0.1l1.5 -0.1l1.5 0l1.5 0l1.5 0l1.5 0l1.5 0.1l1.5 0l1.5 0l1.5 -0.1l1.5 0l1.5 0.1l1.5 0l1.5 -0.1l1.5 0.1l1.5 -0.1l1.5 0l1.5 0.1l1.5 0l1.5 0l1.5 0l1.5 0l1.5 0l1.5 0l1.5 0l1.5 0l1.5 0l1.5 -0.1l1.5 0.1l1.5 0l1.5 0l1.5 0l1.5 0l1.5 0l1.5 0l1.5 0l1.5 0l1.5 0l1.5 0l1.5 0l1.5 0l1.5 0l1.5 0l1.5 0.1l1.5 -0.1l1.5 0l1.5 0l1.5 0.1l1.5 0l1.5 0l1.5 0l1.5 -0.1l1.5 0.1l1.5 -0.1l1.5 0l1.5 0.1l1.5 0l1.5 0l1.5 -0.1l1.5 0.1l1.5 0l1.5 -0.1l1.5 0.1l1.5 0l1.5 0l1.5 0l1.5 0l1.5 0l1.5 0l1.5 0.1l1.5 -0.2l1.5 0l1.5 0l1.5 0.1l1.5 0.1l1.5 -0.1l1.5 0.1l1.5 -0.1l1.5 0l1.5 0.1l1.5 -0.1l1.5 0.1l1.5 0l1.5 0l1.5 0l1.5 0l1.5 -0.1l1.5 0.1l1.5 0l1.5 0l1.5 -0.1l1.5 0.1l1.5 0l1.5 0l1.5 0l1.5 0l1.5 -0.1l1.5 0.1l1.5 0l1.5 -0.1l1.5 0.1l1.5 0l1.5 0l1.5 0l1.5 0l1.5 -0.1l1.5 0.1l1.5 0l1.5 -0.1l1.5 0.1l1.5 0l1.5 0l1.5 1l1.5 -1l1.5 0l1.5 0l1.5 0l1.5 0l1.5 0l1.5 0l1.5 0l1.5 0.1l1.5 -0.1l1.5 0l1.5 0l1.5 0l1.5 0l1.5 0l1.5 0l1.5 0l1.5 0l1.5 0l1.5 0l1.5 0l1.5 0l1.5 0.1l1.5 0l1.5 -0.1l1.5 0.1l1.5 -0.1l1.5 0.1l1.5 0l1.5 0l1.5 0l1.5 0l1.5 -0.1l1.5 0.1l1.5 0l1.5 0l1.5 -0.1l1.5 0.1l1.5 0l1.5 -0.1l1.5 0.1l1.5 -0.1l1.5 0l1.5 0l1.5 0.1l1.5 -0.2l1.5 0.1l1.5 -0.1l1.5 0l1.5 -0.1l1.5 -0.1l1.5 -0.1l1.5 -0.2l0.4 -0.1l0.3 -0.1l0.4 0l0.3 -0.1l0.4 -0.1l0.3 -0.1l0.4 -0.2l0.3 -0.2l0.4 -0.2l0.3 -0.1l0.4 -0.4l0.3 -0.4l0.4 -0.4l0.3 -0.6l0.4 -0.7l0.3 -1.1l0.4 -1.5l0.3 -2.3l0.4 -3.8l0.3 -6.1l0.4 -9.6l0.3 -13.3l0.4 -15.8l0.3 -12.6l0.4 -1.1l0.3 11.6l0.4 15.7l0.3 13.9l0.4 10.1l0.3 6.5l0.4 4.1l0.3 2.5l0.4 1.6l0.3 1l0.4 0.8l0.3 0.7l0.4 0.4l0.3 0.4l0.4 0.3l0.3 0.2l0.4 0.3l0.3 0.2l0.4 0l0.3 0.2l0.4 0.2l0.3 0l0.4 0.1l0.3 0l0.4 0.2l0.3 -0.1l0.4 0.1l0.3 0.1l0.4 0.1l1.5 0.1l1.5 0l1.5 0.1l1.5 0.1l1.5 0.3l1.5 -0.3l1.5 0l1.5 0.1l1.5 0l1.5 0l1.5 0l1.5 0.1l1.5 0l1.5 -0.1l1.5 0.1l1.5 -0.1l1.5 0.5l1.5 -0.3l1.5 -0.1l1.5 0l1.5 0l1.5 0.1l1.5 -0.1l1.5 0.5l1.5 -0.5l1.5 0l1.5 0l1.5 0l1.5 0l1.5 0.1l1.5 0l1.5 -0.1l1.5 0.1l1.5 -0.1l1.5 0.1l1.5 -0.1l1.5 0l1.5 0.1l1.5 0l1.5 0l1.5 0l1.5 0l1.5 0l1.5 -0.1l1.5 0l1.5 0.1l1.5 0l1.5 -0.1l1.5 0l1.5 0.1l1.5 0l1.5 -0.1l1.5 0.1l1.5 0.1l1.5 0.4l1.5 -0.4l1.5 0l1.5 -0.1l1.5 0l1.5 0l1.5 0.1l1.5 0l1.5 -0.1l1.5 0l1.5 0.1l1.5 -0.1l1.5 0.1l1.5 0l1.5 -0.1l1.5 0.1l1.5 0l1.5 -0.1l1.5 0.1l1.5 0l1.5 -0.1l1.5 0l1.5 0l1.5 0.1l1.5 0l1.5 -0.1l1.5 0l1.5 0.1l1.5 0l1.5 -0.1l1.5 0.1l1.5 0l1.5 -0.1l1.5 0.1l1.5 0l1.5 0l1.5 0l1.5 0l1.5 0l1.5 0.1l1.5 -0.1l1.5 0l1.5 0l1.5 0l1.5 0.1l1.5 -0.1l1.5 0.1l1.5 -0.1l1.5 0l1.5 0l1.5 0.1l1.5 -0.1l1.5 0l1.5 0l1.5 0l1.5 0l1.5 0l1.5 0l1.5 0.1l1.5 0l1.5 -0.1l1.5 0.1l1.5 -0.1l1.5 0l1.5 0l1.5 0l1.5 -0.1l1.5 0.1l1.5 0l1.5 0l1.5 0l1.5 -0.1l1.5 -0.1l1.5 -0.1l1.5 0l0.3 0l0.4 -0.1l0.3 0l0.4 -0.1l0.3 0l0.4 0l0.3 0l0.4 -0.2l0.3 -0.1l0.4 0.6l0.3 -0.8l0.4 -0.1l0.3 -0.1l0.4 -0.1l0.3 -0.2l0.4 -0.2l0.3 -0.3l0.4 -0.4l0.3 -0.5l0.4 -0.6l0.3 -0.8l0.4 -1.2l0.3 -1.7l0.4 -2.8l0.3 -4.3l0.4 -6.6l0.3 -9.2l0.4 -10.7l0.3 -9.6l0.4 -3.4l0.3 5.6l0.4 10.5l0.3 10.5l0.4 8.4l0.3 5.9l0.4 3.9l0.3 2.5l0.4 1.5l0.3 1.1l0.4 0.6l0.3 0.6l0.4 0.4l0.3 0.3l0.4 0.3l0.3 0.3l0.4 0.1l0.3 0.1l0.4 0.2l0.3 0.1l0.4 0.1l0.3 0.1l0.4 0.1l0.3 0.1l0.4 0.1l0.3 0l0.4 -0.1l0.3 0.2l0.4 0l0.3 0l0.4 0l1.5 0.2l1.5 0l1.5 0l1.5 0l1.5 0.1l1.5 0l1.5 0.1l1.5 -0.1l1.5 0.1l1.5 0l1.5 0l1.5 0l1.5 0l1.5 0.1l1.5 -0.1l1.5 0l1.5 0.1l1.5 0l1.5 -0.1l1.5 0l1.5 0l1.5 0l1.5 0.1l1.5 0l1.5 0l1.5 0l1.5 0l1.5 0l1.5 0l1.5 0l1.5 0l1.5 0l1.5 0l1.5 0.1l1.5 -0.1l1.5 0l1.5 0.1l1.5 0l1.5 0l1.5 0l1.5 -0.1l1.5 0l1.5 0.1l1.5 0l1.5 0l1.5 0l1.5 0l1.5 -0.1l1.5 0l1.5 0l1.5 0.1l1.5 0l1.5 0l1.5 0l1.5 -0.1l1.5 0.1l1.5 0l1.5 0l1.5 -0.1l1.5 0.1l1.5 0l1.5 0l1.5 0l1.5 0l1.5 0.1l1.5 -0.1l1.5 0l1.5 0l1.5 0.1l1.5 -0.1l1.5 0l1.5 0l1.5 0l1.5 0l1.5 0.1l1.5 0l1.5 0l1.5 -0.1l1.5 0l1.5 0l1.5 0l1.5 0l1.5 0l1.5 0l1.5 0l1.5 0.1l1.5 0l1.5 -0.1l1.5 0l1.5 0.1l1.5 -0.1l1.5 0l1.5 0l1.5 0l1.5 0l1.5 -0.1l1.5 0l1.5 0l1.5 0l0.3 0l0.4 0l0.3 -0.1l0.4 0l0.3 0l0.4 0l0.3 -0.1l0.4 0l0.3 0.1l0.4 -0.1l0.3 0l0.4 -0.1l0.3 0l0.4 -0.1l0.3 -0.1l0.4 0l0.3 -0.1l0.4 -0.2l0.3 -0.1l0.4 -0.1l0.3 -0.3l0.4 -0.2l0.3 0.4l0.4 -1.2l0.3 -0.8l0.4 -1.1l0.3 -1.6l0.4 -2.3l0.3 -3.1l0.4 -3.5l0.3 -5.3l0.4 -4.1l0.3 -1.7l0.4 1.7l0.3 4.2l0.4 4.5l0.3 4.1l0.4 3.2l0.3 2.4l0.4 1.5l0.3 1.1l0.4 0.7l0.3 0.5l0.4 0.3l0.3 0.4l0.4 0.1l0.3 0.2l0.4 0.1l0.3 0.1l0.4 0.2l0.3 0.1l0.4 0l0.3 0l0.4 0.1l0.3 0.1l0.4 0l0.3 0l0.4 0.1l0.3 0l0.4 0l0.3 0l0.4 0l0.3 0.1l0.4 0l0.3 0l0.4 0.1l0.3 0l1.5 -0.1l1.5 0.1l1.5 0.1l1.5 -0.1l1.5 0l1.5 0l1.5 0.1l1.5 0l1.5 0l1.5 0.1l1.5 0l1.5 -0.1l1.5 0.1l1.5 0l1.5 -0.1l1.5 0l1.5 0l1.5 0.1l1.5 -0.1l1.5 0.1l1.5 0l1.5 -0.1l1.5 0.1l1.5 0l1.5 0l1.5 0l1.5 0l1.5 0l1.5 0.1l1.5 -0.1l1.5 0l1.5 0.1l1.5 -0.1l1.5 0l1.5 0.1l1.5 -0.1l1.5 0l1.5 0l1.5 0l1.5 0.1l1.5 -0.1l1.5 0l1.5 0l1.5 0.1l1.5 0l1.5 0.1l1.5 -0.1l1.5 -0.1l1.5 0.1l1.5 0l1.5 0l1.5 -0.1l1.5 0l1.5 0.1l1.5 0l1.5 0l1.5 0l1.5 -0.1l1.5 0.1l1.5 0l1.5 0l1.5 0l1.5 -0.1l1.5 0.1l1.5 0l1.5 0l1.5 0l1.5 -0.1l1.5 0.1l1.5 0.1l1.5 -0.1l1.5 0.1l1.5 0l1.5 -0.1l1.5 0l1.5 0l1.5 0l1.5 0l1.5 0l1.5 0l0.4 0l0.3 0l0.4 0l0.3 -0.1l0.4 0.1l0.3 -0.1l0.4 0.1l0.3 0l0.4 0l0.3 0l0.4 0.9l0.3 -0.9l0.4 -0.1l0.3 0l0.4 0l0.3 0.1l0.4 -0.1l0.3 0l0.4 0l0.3 0l0.4 0l0.3 0l0.4 -0.1l0.3 0.1l0.4 -0.1l0.3 -0.1l0.4 0l0.3 0l0.4 0l0.3 0l0.4 -0.1l0.3 0l0.4 -0.1l0.3 -0.1l0.4 -0.1l0.3 -0.1l0.4 -0.2l0.3 -0.2l0.4 -0.3l0.3 -0.5l0.4 -0.5l0.3 -0.6l0.4 -0.7l0.3 -0.9l0.4 -0.7l0.3 -0.8l0.4 -0.3l0.3 0l0.4 0.4l0.3 0.8l0.4 0.8l0.3 0.8l0.4 0.7l0.3 0.6l0.4 0.4l0.3 0.5l0.4 0.3l0.3 0.3l0.4 0.1l0.3 0.1l0.4 0.1l0.3 0.1l0.4 0.1l0.3 0l0.4 0.1l0.3 0l0.4 0.1l0.3 0.1l0.4 -0.1l0.3 0.1l0.4 0l0.3 -0.1l0.4 0.1l0.3 0l0.4 0l0.3 0.1l0.4 -0.1l0.3 0l0.4 0.1l0.3 -0.1l0.4 0.1l0.3 0l0.4 0l0.3 0l0.4 0l0.3 0l0.4 0l0.3 0l0.4 0.1l0.3 0l0.4 -0.1l0.3 0.1l0.4 0l0.3 0l0.4 0l0.3 0l0.4 0l0.3 0.1l1.5 -0.1l1.5 0l1.5 -0.1l1.5 0.1l1.5 0l1.5 0.1l1.5 -0.2l1.5 0.1l1.5 0l1.5 0l1.5 0l1.5 0l1.5 0l1.5 0.1l1.5 -0.1l1.5 0l1.5 0l1.5 0.3l1.5 -0.2l1.5 -0.1l1.5 0l1.5 0.1l1.5 -0.1l1.5 0.1l1.5 0l1.5 0l1.5 0l1.5 0.7l1.5 -0.7l1.5 0l1.5 0l1.5 -0.1l1.5 0.1l1.5 0l1.5 0l1.5 0l1.5 0l1.5 0l1.5 0l1.5 0l1.5 0.1l1.5 -0.2l1.5 0l1.5 0.1l1.5 0l1.5 0l1.5 0l1.5 0.1l1.5 -0.1l1.5 0.1l1.5 0l1.5 -0.1l1.5 0l1.5 0l1.5 0l1.5 0.1l1.5 0l1.5 0l1.5 0l1.5 0l1.5 0.6l1.5 -0.7l1.5 0l1.5 0.1l1.5 -0.1l1.5 0l1.5 0l1.5 0l1.5 0l1.5 0l0.4 -0.1l0.3 0l0.4 0l0.3 0l0.4 0.1l0.3 -0.1l0.4 0l0.3 0l0.4 0l0.3 0l0.4 -0.1l0.3 0.1l0.4 -0.1l0.3 0.1l0.4 -0.1l0.3 0l0.4 -0.1l0.3 0l0.4 0l0.3 0l0.4 -0.1l0.3 0l0.4 -0.1l0.3 -0.1l0.4 0l0.3 -0.1l0.4 -0.1l0.3 -0.2l0.4 -0.2l0.3 -0.1l0.4 -0.4l0.3 0l0.4 -1l0.3 -0.6l0.4 -1l0.3 -1.3l0.4 -1.6l0.3 -2l0.4 -2.1l0.3 -1.1l0.4 -2.2l0.3 -0.2l0.4 0.9l0.3 1.8l0.4 2l0.3 2.1l0.4 1.7l0.3 1.4l0.4 1.2l0.3 0.8l0.4 0.6l0.3 0.5l0.4 0.4l0.3 0.1l0.4 0.2l0.3 0.2l0.4 0.2l0.3 0.1l0.4 0l0.3 0l0.4 0.1l0.3 0.1l0.4 0l0.3 0.1l0.4 0l0.3 0l0.4 0.1l0.3 0l0.4 0.1l0.3 -0.1l0.4 0l0.3 0.1l0.3 -0.1l0.4 0.1l0.3 0l0.4 0l0.3 0l0.4 0l0.3 0l0.4 0.1l0.3 0l0.4 0l0.3 0l0.4 0.1l0.3 0l0.4 0l1.5 -0.1l1.5 0.1l1.5 -0.1l1.5 0l1.5 0.1l1.5 0l1.5 0l1.5 0l1.5 0l1.5 0.1l1.5 -0.1l1.5 0.1l1.5 -0.1l1.5 0.1l1.5 0l1.5 0l1.5 0l1.5 0l1.5 0l1.5 0l1.5 0l1.5 0l0.2 0" fill="none" stroke="#1414a8" stroke-width="1.5" stroke-linejoin="round"/>
<path d="M1152.2 453.7l2.6 -0.1l2.6 -0.1l2.6 -0.1l2.6 0.1l2.6 0.1l2.6 -0.2l2.6 0l2.6 0.2l2.6 -0.1l2.6 0.1l2.6 -0.2l2.6 0.1l2.6 -0.2l2.6 0l2.6 0l2.6 0l2.6 0.1l2.6 0.1l2.6 -0.2l2.6 0.1l2.6 -0.2l2.6 -0.1l2.6 0.2l2.6 -0.1l2.6 -0.1l2.6 0.1l2.6 0l2.6 -0.2l2.6 0.1l2.6 0l2.6 0l2.6 -0.3l2.6 0l2.6 0.2l2.6 -0.2l2.6 0l2.6 0l2.6 -0.1l2.6 -0.2l2.6 0.1l2.6 -0.4l2.6 0.1l2.6 -0.1l2.6 -0.3l2.6 0l2.6 -0.2l2.6 -0.3l2.6 -0.3l2.6 -0.4l2.6 -0.6l2.6 -1.1l2.6 -1.3l2.6 -2.4l2.6 -4.1l2.6 -6.3l2.6 -8.5l2.6 -11l2.6 -12.4l2.6 -11.8l2.6 -8.2l2.6 -1.5l2.6 5.7l2.6 10.8l2.6 12.7l2.6 11.7l2.6 9.4l2.6 7l2.6 4.8l2.6 3.2l2.6 1.7l2.6 1.2l2.6 0.5l2.6 0.6l2.6 0.1l2.6 0.2l2.6 0.3l2.6 0.1l2.6 0.1l2.6 0.1l2.6 0.2l2.6 0.1l2.6 0.1l2.6 0l2.6 0.2l2.6 -0.1l2.6 0.2l2.6 0l2.6 -0.1l2.6 0.1l2.6 0.1l2.6 -0.2l2.6 0.2l2.6 -0.1l2.6 0l2.6 0.1l2.6 -0.2l2.6 0.1l2.6 -0.1l2.6 0.2l1 -0.2" fill="none" stroke="#1414a8" stroke-width="1.8" stroke-linejoin="round"/>
<path d="M84.1 526.7l1.5 0l1.5 0.1l1.5 -0.1l1.5 0l1.5 0l1.5 0l1.5 0l1.5 0l1.5 0l1.5 0.1l1.5 0l1.5 -0.1l1.5 0l1.5 0l1.5 0.1l1.5 0l1.5 -0.1l1.5 0.1l1.5 0l1.5 -0.1l1.5 0l1.5 0l1.5 0l1.5 0.1l1.5 0l1.5 -0.1l1.5 0l1.5 0.1l1.5 0l1.5 0l1.5 0l1.5 0l1.5 0l1.5 0l1.5 0l1.5 0l1.5 0l1.5 0l1.5 0l1.5 0l1.5 0l1.5 0l1.5 0.1l1.5 -0.1l1.5 0l1.5 0l1.5 0.6l1.5 -0.6l1.5 0.1l1.5 0l1.5 -0.1l1.5 0.1l1.5 0l1.5 0l1.5 0l1.5 0l1.5 0l1.5 0l1.5 -0.1l1.5 0l1.5 0.1l1.5 0l1.5 -0.1l1.5 0.1l1.5 0l1.5 0l1.5 0l1.5 0l1.5 0l1.5 0l1.5 0.5l1.5 -0.5l1.5 0l1.5 0.1l1.5 0l1.5 -0.1l1.5 0.1l1.5 -0.1l1.5 0.1l1.5 -0.1l1.5 0l1.5 0l1.5 0l1.5 0.1l1.5 0l1.5 0l1.5 -0.1l1.5 0.1l1.5 0l1.5 0l1.5 0l1.5 0l1.5 0l1.5 0l1.5 0l1.5 0l1.5 0l1.5 0l1.5 0l1.5 0l1.5 0l1.5 0l1.5 0.1l1.5 -0.1l1.5 0l1.5 0l1.5 0l1.5 0.1l1.5 -0.1l1.5 0l1.5 0l1.5 0l1.5 0l1.5 0l1.5 0l1.5 0.1l1.5 -0.1l1.5 0l1.5 0l1.5 0l1.5 0.1l1.5 0l1.5 0l1.5 -0.1l1.5 0.1l1.5 -0.1l1.5 0l1.5 0.1l1.5 -0.1l1.5 0l1.5 0.1l1.5 0l1.5 0.3l1.5 -0.3l1.5 -0.1l1.5 0.1l1.5 0l1.5 -0.1l1.5 0.1l1.5 0l1.5 0.1l1.5 -0.1l1.5 0l1.5 0l1.5 0.1l1.5 -0.1l1.5 0.1l1.5 0l1.5 -0.1l1.5 0l1.5 0.1l1.5 -0.1l1.5 0l1.5 0.1l1.5 0l1.5 -0.1l1.5 0l1.5 0.1l1.5 -0.1l1.5 0l1.5 0.1l1.5 -0.1l1.5 0l1.5 0l1.5 0l1.5 0.1l1.5 0l1.5 0l1.5 0l1.5 0l1.5 0l1.5 0l1.5 0l1.5 0l1.5 -0.1l1.5 0.1l1.5 0l1.5 0l1.5 0l1.5 -0.1l1.5 0l1.5 0l1.5 0l1.5 0.1l1.5 0l1.5 0l1.5 0l1.5 0l1.5 0l1.5 0l1.5 0.1l1.5 -0.1l1.5 0l1.5 0.8l1.5 -0.6l1.5 -0.2l1.5 0l1.5 0l1.5 -0.1l1.5 0.1l1.5 0l1.5 0l1.5 -0.1l1.5 0l1.5 0l1.5 0l1.5 -0.1l1.5 -0.1l1.5 -0.1l0.4 -0.2l0.3 0.1l0.4 -0.1l0.3 -0.1l0.4 -0.1l0.3 0l0.4 -0.1l0.3 0l0.4 -0.2l0.3 -0.2l0.4 -0.2l0.3 -0.1l0.4 -0.2l0.3 -0.2l0.4 -0.5l0.3 -0.4l0.4 -0.5l0.3 -0.8l0.4 -0.9l0.3 -1.4l0.4 -2.1l0.3 -3.4l0.4 -5.7l0.3 -8.7l0.4 -12.4l0.3 -14.8l0.4 -13.7l0.3 -3l0.4 9.9l0.3 15.3l0.4 13.9l0.3 10.2l0.4 6.8l0.3 4.4l0.4 2.5l0.3 1.7l0.4 1.1l0.3 0.8l0.4 0.6l0.3 0.5l0.4 0.4l0.3 0.2l0.4 0.3l0.3 0.2l0.4 0.2l0.3 0.1l0.4 0.2l0.3 0.1l0.4 0.1l0.3 0.1l0.4 0.1l0.3 0l0.4 0.1l0.3 0l0.4 0.1l0.3 0l1.5 0.1l1.5 0.2l1.5 0l1.5 0.1l1.5 0l1.5 0.1l1.5 -0.1l1.5 0.1l1.5 0l1.5 -0.1l1.5 0.1l1.5 0l1.5 0l1.5 0l1.5 0l1.5 0l1.5 0l1.5 0l1.5 0.1l1.5 0l1.5 0l1.5 0l1.5 0l1.5 0l1.5 0.8l1.5 -0.8l1.5 0l1.5 0l1.5 0l1.5 0l1.5 0l1.5 0.1l1.5 -0.1l1.5 0l1.5 0l1.5 0l1.5 0l1.5 0.1l1.5 0l1.5 -0.1l1.5 0l1.5 0l1.5 0.1l1.5 0l1.5 0l1.5 0l1.5 -0.1l1.5 0l1.5 0l1.5 0.1l1.5 -0.1l1.5 0l1.5 0.1l1.5 0l1.5 0l1.5 0l1.5 0.8l1.5 -0.8l1.5 0l1.5 0l1.5 0l1.5 0l1.5 0l1.5 0.1l1.5 0l1.5 0l1.5 -0.1l1.5 0l1.5 0l1.5 0l1.5 0l1.5 0l1.5 0l1.5 0.1l1.5 -0.1l1.5 0l1.5 0l1.5 0l1.5 0.1l1.5 0l1.5 -0.1l1.5 0l1.5 0.1l1.5 -0.1l1.5 0.1l1.5 -0.1l1.5 0.1l1.5 0l1.5 -0.1l1.5 0.1l1.5 0l1.5 0l1.5 0l1.5 0l1.5 0l1.5 0l1.5 0l1.5 0l1.5 0.1l1.5 0l1.5 -0.1l1.5 0l1.5 0l1.5 0l1.5 0l1.5 0l1.5 0l1.5 0.1l1.5 -0.1l1.5 0l1.5 0.1l1.5 0l1.5 -0.1l1.5 0l1.5 0l1.5 0l1.5 0l1.5 0l1.5 0l1.5 0l1.5 0l1.5 0l1.5 0l1.5 0l1.5 -0.1l1.5 0l1.5 0l1.5 0l1.5 0.2l1.5 -0.5l0.4 0l0.3 0l0.4 -0.1l0.3 0l0.4 -0.1l0.3 -0.1l0.4 -0.1l0.3 0l0.4 -0.2l0.3 -0.1l0.4 -0.1l0.3 -0.3l0.4 -0.2l0.3 -0.3l0.4 -0.4l0.3 -0.4l0.4 -0.6l0.3 -1l0.4 -1.3l0.3 -2.4l0.4 -3.4l0.3 -5.2l0.4 -7.4l0.3 -8.9l0.4 -7.7l0.3 -4.6l0.4 3.8l0.3 8.5l0.4 8.9l0.3 7.3l0.4 5.3l0.3 3.5l0.4 2.2l0.3 1.5l0.4 0.9l0.3 0.6l0.4 0.5l0.3 0.3l0.4 0.3l0.3 0.3l0.4 0.2l0.3 0.2l0.4 0.1l0.3 0l0.4 0.2l0.3 0.1l0.4 0l0.3 0.1l0.4 0.1l0.3 0l0.4 0.1l0.3 0l0.4 0l0.3 0.1l0.4 0l0.3 0l1.5 0.1l1.5 0.1l1.5 0l1.5 0l1.5 0.8l1.5 -0.7l1.5 -0.1l1.5 0.1l1.5 0.1l1.5 0l1.5 0l1.5 0l1.5 -0.1l1.5 0l1.5 0l1.5 0l1.5 0.1l1.5 -0.1l1.5 0l1.5 0.1l1.5 0l1.5 0l1.5 0l1.5 0l1.5 0l1.5 0l1.5 0l1.5 0l1.5 0l1.5 0l1.5 0l1.5 0l1.5 0l1.5 0.7l1.5 -0.6l1.5 -0.1l1.5 0l1.5 0l1.5 0.1l1.5 0l1.5 0l1.5 -0.1l1.5 0l1.5 0l1.5 0.1l1.5 0l1.5 0l1.5 0l1.5 -0.1l1.5 0.1l1.5 0l1.5 0l1.5 0l1.5 0l1.5 0l1.5 -0.1l1.5 0.1l1.5 0l1.5 0l1.5 0l1.5 0l1.5 0l1.5 0.8l1.5 -0.8l1.5 0l1.5 0.1l1.5 0l1.5 0l1.5 -0.1l1.5 0l1.5 0l1.5 0l1.5 0l1.5 0l1.5 0.1l1.5 0l1.5 0l1.5 0l1.5 -0.1l1.5 0l1.5 0l1.5 0l1.5 0.1l1.5 0l1.5 0l1.5 -0.1l1.5 0.1l1.5 0l1.5 -0.1l1.5 0.1l1.5 0l1.5 0l1.5 0l1.5 -0.1l1.5 0.1l1.5 0.9l1.5 -1.1l0.4 0.1l0.3 -0.1l0.4 0.1l0.3 0l0.4 -0.1l0.3 0.5l0.4 -0.4l0.3 0l0.4 -0.1l0.3 0l0.4 -0.1l0.3 0.1l0.4 -0.1l0.3 0l0.4 -0.1l0.3 0l0.4 -0.1l0.3 0.1l0.4 -0.1l0.3 0l0.4 -0.1l0.3 -0.1l0.4 0l0.3 -0.2l0.4 -0.1l0.3 -0.2l0.4 -0.2l0.3 -0.3l0.4 -0.3l0.3 -0.4l0.4 -0.7l0.3 -0.9l0.4 -1.4l0.3 -1.4l0.4 -2.6l0.3 -2.6l0.4 -2.9l0.3 -2.4l0.4 -1.1l0.3 0.6l0.4 2.1l0.3 2.8l0.4 2.8l0.3 2.4l0.4 1.8l0.3 1.5l0.4 1l0.3 0.8l0.4 0.6l0.3 0.2l0.4 0.4l0.3 0.2l0.4 0.1l0.3 0.2l0.4 0.1l0.3 0.1l0.4 0l0.3 0.2l0.4 0l0.3 0.1l0.4 0l0.3 0l0.4 0.1l0.3 0l0.4 0.1l0.3 0l0.4 0l0.3 0l0.4 0l0.3 0l0.4 0.1l0.3 -0.1l0.4 0.5l0.3 -0.4l0.4 0l0.3 0l0.4 0l0.3 0l0.4 0l1.5 0l1.5 0.1l1.5 0l1.5 0l1.5 0l1.5 0l1.5 0l1.5 0.1l1.5 0l1.5 0l1.5 0l1.5 0l1.5 0l1.5 0l1.5 0l1.5 0l1.5 0l1.5 0l1.5 0l1.5 0l1.5 0.1l1.5 -0.1l1.5 0l1.5 0.1l1.5 -0.1l1.5 0l1.5 0.1l1.5 0l1.5 0l1.5 0l1.5 -0.1l1.5 0l1.5 0.1l1.5 -0.1l1.5 1l1.5 -0.9l1.5 -0.1l1.5 0.1l1.5 -0.1l1.5 0l1.5 0.1l1.5 0l1.5 0l1.5 -0.1l1.5 0.2l1.5 -0.1l1.5 0l1.5 0.1l1.5 -0.1l1.5 0l1.5 0l1.5 0.1l1.5 -0.1l1.5 0l1.5 0l1.5 0l1.5 0l1.5 0.1l1.5 -0.1l1.5 0l1.5 0.1l1.5 0l1.5 0l1.5 -0.1l1.5 0l1.5 0l1.5 0l1.5 0.1l1.5 0l1.5 0l1.5 0l1.5 -0.1l1.5 0l1.5 0.1l1.5 0l1.5 0l1.5 0l1.5 0l0.3 0l0.4 0l0.3 0l0.4 -0.1l0.3 0.1l0.4 0.4l0.3 -0.4l0.4 0l0.3 0l0.4 -0.1l0.3 0l0.4 0l0.3 0l0.4 0l0.3 0l0.4 0l0.3 0l0.4 0l0.3 0l0.4 0l0.3 0l0.4 0l0.3 0l0.4 0l0.3 -0.1l0.4 0.1l0.3 -0.1l0.4 0l0.3 -0.1l0.4 0.1l0.3 -0.1l0.4 0l0.3 0l0.4 -0.2l0.3 0l0.4 -0.1l0.3 -0.1l0.4 -0.1l0.3 -0.2l0.4 -0.3l0.3 -0.3l0.4 -0.4l0.3 -0.4l0.4 -0.6l0.3 -0.7l0.4 -0.7l0.3 -0.6l0.4 -0.4l0.3 0l0.4 0.3l0.3 0.4l0.4 0.7l0.3 0.6l0.4 1.6l0.3 -0.4l0.4 0.5l0.3 0.3l0.4 0.3l0.3 0.2l0.4 0.1l0.3 0.2l0.4 0.1l0.3 0.1l0.4 0l0.3 0.1l0.4 0l0.3 0.1l0.4 0l0.3 0l0.4 0l0.3 0.1l0.4 -0.1l0.3 0.1l0.4 0l0.3 0.1l0.4 0l0.3 0l0.4 -0.1l0.3 0l0.4 0l0.3 1l0.4 -1l0.3 0.1l0.4 0.4l0.3 -0.4l0.4 0l0.3 0l0.4 0l0.3 0l0.4 0.2l0.3 -0.2l0.4 0.1l0.3 -0.1l0.4 0l0.3 0l0.4 0.1l0.3 0l0.4 -0.1l0.3 0l1.5 0.1l1.5 -0.1l1.5 0.1l1.5 0l1.5 0l1.5 -0.1l1.5 0.1l1.5 0.4l1.5 -0.5l1.5 0.1l1.5 0l1.5 0l1.5 0l1.5 0l1.5 0l1.5 0l1.5 0l1.5 0l1.5 0l1.5 0l1.5 0l1.5 0l1.5 0l1.5 0l1.5 0l1.5 0.1l1.5 0l1.5 -0.1l1.5 0.1l1.5 0l1.5 0l1.5 0l1.5 0l1.5 -0.1l1.5 0.1l1.5 0l1.5 -0.1l1.5 0l1.5 0l1.5 0.1l1.5 0l1.5 0l1.5 0l1.5 0l1.5 0l1.5 0l1.5 0l1.5 0l1.5 0l1.5 0l1.5 0l1.5 0l1.5 0l1.5 0l1.5 1l1.5 -1l1.5 0l1.5 0l1.5 0l1.5 0l1.5 0l1.5 0l1.5 0l1.5 0l1.5 -0.1l1.5 0.1l1.5 0l1.5 0l1.5 0l0.4 -0.1l0.3 0l0.4 0l0.3 0l0.4 0l0.3 0.1l0.4 -0.1l0.3 0l0.4 0l0.3 0l0.4 0l0.3 0l0.4 -0.1l0.3 0.1l0.4 -0.1l0.3 0l0.4 -0.1l0.3 0.1l0.4 -0.1l0.3 0l0.4 0l0.3 -0.1l0.4 0l0.3 -0.1l0.4 -0.1l0.3 0l0.4 -0.1l0.3 -0.2l0.4 -0.1l0.3 -0.2l0.4 -0.1l0.3 -0.4l0.4 -0.3l0.3 -0.6l0.4 -0.7l0.3 -1l0.4 -1.2l0.3 -1.6l0.4 -1.7l0.3 -2.1l0.4 -1.6l0.3 -1.2l0.4 -0.1l0.3 1l0.4 2.6l0.3 1.6l0.4 1.3l0.3 1.6l0.4 1.3l0.3 1l0.4 0.8l0.3 0.6l0.4 0.4l0.3 0.2l0.4 0.3l0.3 0.2l0.4 0.1l0.3 0.1l0.4 0.1l0.3 0.1l0.4 0l0.3 0.1l0.4 0l0.3 0.1l0.4 0l0.3 0l0.4 0.1l0.3 0l0.4 0l0.3 0l0.4 0l0.3 0l0.4 0.1l0.3 0l0.3 0l0.4 0l0.3 0l0.4 0l0.3 0.1l0.4 -0.1l0.3 0.1l0.4 0l0.3 0l0.4 0l0.3 0l0.4 0l0.3 0.1l1.5 -0.1l1.5 0l1.5 0.1l1.5 0l1.5 0l1.5 0l1.5 0l1.5 0.5l1.5 -0.4l1.5 -0.1l1.5 0.1l1.5 0l1.5 -0.1l1.5 0l1.5 0.1l1.5 -0.1l1.5 0l1.5 0l1.5 0.1l1.5 0l1.5 0l1.5 0l1.5 0.7l1.5 -0.7l1.5 0l0.2 0" fill="none" stroke="#228a36" stroke-width="1.5" stroke-linejoin="round"/>
<path d="M1152.2 526.9l2.6 0l2.6 -0.1l2.6 0l2.6 0.2l2.6 0l2.6 -0.1l2.6 -0.2l2.6 0.2l2.6 0l2.6 -0.1l2.6 0l2.6 0.1l2.6 -0.3l2.6 0.1l2.6 -0.1l2.6 0.2l2.6 -0.1l2.6 0l2.6 -0.2l2.6 0.1l2.6 -0.1l2.6 0.1l2.6 -0.1l2.6 0l2.6 -0.2l2.6 0.1l2.6 -0.2l2.6 0.1l2.6 -0.1l2.6 0l2.6 0l2.6 0l2.6 -0.1l2.6 -0.4l2.6 -0.1l2.6 0l2.6 0.1l2.6 -0.2l2.6 -0.2l2.6 -0.1l2.6 -0.4l2.6 -0.2l2.6 -0.5l2.6 -0.7l2.6 -0.8l2.6 -1.5l2.6 -2l2.6 -3.6l2.6 -5.7l2.6 -7.7l2.6 -9.9l2.6 -11.4l2.6 -11.9l2.6 -9.5l2.6 -4.8l2.6 2.1l2.6 8.1l2.6 11.2l2.6 11.9l2.6 10.7l2.6 8.5l2.6 6.3l2.6 4.1l2.6 2.9l2.6 1.6l2.6 1.1l2.6 0.7l2.6 0.2l2.6 0.6l2.6 -0.1l2.6 0.5l2.6 0.1l2.6 0l2.6 0.2l2.6 0.1l2.6 0l2.6 0l2.6 0.1l2.6 0.1l2.6 -0.1l2.6 0.3l2.6 0l2.6 -0.1l2.6 0l2.6 0l2.6 0.1l2.6 0l2.6 0.1l2.6 0l2.6 -0.2l2.6 0.1l2.6 -0.1l2.6 0.2l2.6 -0.1l2.6 0.1l2.6 0l2.6 -0.1l2.6 0l2.6 0l1 0.2" fill="none" stroke="#228a36" stroke-width="1.8" stroke-linejoin="round"/>
<path d="M84.1 600.5l1.5 0l1.5 0l1.5 0l1.5 0.5l1.5 -0.4l1.5 -0.1l1.5 0l1.5 0.1l1.5 -0.1l1.5 0l1.5 0l1.5 0.1l1.5 -0.1l1.5 0l1.5 0.1l1.5 -0.1l1.5 0l1.5 0.1l1.5 0l1.5 0l1.5 -0.1l1.5 0.1l1.5 -0.1l1.5 0.1l1.5 -0.1l1.5 0.1l1.5 0l1.5 0l1.5 0l1.5 0l1.5 0.1l1.5 -0.1l1.5 0l1.5 0.1l1.5 -0.1l1.5 0l1.5 0.1l1.5 -0.1l1.5 0.1l1.5 -0.1l1.5 0.1l1.5 0l1.5 0l1.5 -0.1l1.5 0.1l1.5 0l1.5 0l1.5 0l1.5 0l1.5 -0.1l1.5 0.1l1.5 0l1.5 -0.1l1.5 0.1l1.5 0l1.5 0l1.5 0.3l1.5 -0.3l1.5 0l1.5 0l1.5 0l1.5 0l1.5 0l1.5 0l1.5 0.1l1.5 0l1.5 0l1.5 0l1.5 -0.1l1.5 0.1l1.5 0l1.5 -0.1l1.5 0.1l1.5 -0.1l1.5 0l1.5 0l1.5 0.9l1.5 -0.9l1.5 0l1.5 0.1l1.5 0l1.5 0l1.5 0l1.5 0l1.5 0l1.5 0l1.5 0l1.5 0.1l1.5 0l1.5 -0.1l1.5 0l1.5 0l1.5 0l1.5 0l1.5 0l1.5 0l1.5 0.1l1.5 -0.1l1.5 0.1l1.5 0.3l1.5 -0.4l1.5 0.1l1.5 0l1.5 0l1.5 0l1.5 -0.1l1.5 0.1l1.5 0l1.5 0l1.5 0l1.5 0l1.5 0l1.5 0.1l1.5 -0.1l1.5 0l1.5 0l1.5 0l1.5 0l1.5 0l1.5 0l1.5 0.1l1.5 0l1.5 -0.1l1.5 0l1.5 0l1.5 0.1l1.5 -0.1l1.5 0.1l1.5 0l1.5 -0.1l1.5 0.1l1.5 -0.1l1.5 0l1.5 0.1l1.5 0l1.5 0l1.5 -0.1l1.5 0.1l1.5 0l1.5 0l1.5 0l1.5 0l1.5 0l1.5 0.1l1.5 -0.1l1.5 0l1.5 0l1.5 0l1.5 0l1.5 0l1.5 0l1.5 0l1.5 0.1l1.5 -0.1l1.5 0.1l1.5 0l1.5 0l1.5 0l1.5 0l1.5 0l1.5 -0.1l1.5 0l1.5 0l1.5 0.1l1.5 0l1.5 0l1.5 0l1.5 0l1.5 0l1.5 0l1.5 1l1.5 -0.9l1.5 -0.2l1.5 0.3l1.5 -0.2l1.5 0.1l1.5 0l1.5 -0.1l1.5 0l1.5 0.1l1.5 0l1.5 -0.1l1.5 0l1.5 0l1.5 0.1l1.5 0l1.5 -0.1l1.5 0l1.5 0l1.5 0.1l1.5 0l1.5 0l1.5 -0.1l1.5 0l1.5 0l1.5 0.1l1.5 0l1.5 -0.1l1.5 0l1.5 0l1.5 0l1.5 0l1.5 0.4l1.5 -0.5l1.5 0l1.5 0l1.5 -0.1l1.5 -0.1l1.5 -0.1l0.4 0l0.3 -0.2l0.4 0l0.3 0l0.4 0.9l0.3 -1.1l0.4 -0.1l0.3 0l0.4 -0.2l0.3 -0.1l0.4 -0.2l0.3 -0.2l0.4 -0.2l0.3 -0.4l0.4 -0.4l0.3 -0.4l0.4 -0.6l0.3 -0.7l0.4 -1.1l0.3 -1.6l0.4 -2.4l0.3 -4.1l0.4 -6.3l0.3 -9.9l0.4 -13.5l0.3 -15.6l0.4 -11.3l0.3 1.1l0.4 12.4l0.3 15.5l0.4 13l0.3 9.3l0.4 6l0.3 3.9l0.4 2.1l0.3 1.5l0.4 1l0.3 0.8l0.4 1.6l0.3 -0.6l0.4 0.4l0.3 0.3l0.4 0.2l0.3 0.2l0.4 0.1l0.3 0.3l0.4 0l0.3 0.1l0.4 0.1l0.3 0.2l0.4 0l0.3 0.1l0.4 0.1l0.3 -0.1l0.4 0.1l0.3 0.1l1.5 0.1l1.5 0.1l1.5 0l1.5 0.1l1.5 0l1.5 0.1l1.5 0l1.5 0l1.5 0l1.5 0.1l1.5 0l1.5 0l1.5 0l1.5 0l1.5 0l1.5 0l1.5 0l1.5 0l1.5 0l1.5 0l1.5 0.1l1.5 -0.1l1.5 0l1.5 0.1l1.5 -0.1l1.5 0l1.5 0.1l1.5 0l1.5 0l1.5 -0.1l1.5 0.1l1.5 0l1.5 0l1.5 0l1.5 0l1.5 0.1l1.5 -0.1l1.5 0l1.5 0.1l1.5 0l1.5 -0.1l1.5 0l1.5 0l1.5 0l1.5 0.1l1.5 -0.1l1.5 0l1.5 0l1.5 0.1l1.5 0l1.5 0l1.5 0l1.5 0l1.5 0l1.5 0l1.5 0l1.5 -0.1l1.5 0.1l1.5 -0.1l1.5 0.1l1.5 0l1.5 0l1.5 0l1.5 0l1.5 0.1l1.5 -0.1l1.5 0.1l1.5 -0.1l1.5 0.1l1.5 0l1.5 -0.1l1.5 0l1.5 0.1l1.5 -0.1l1.5 0l1.5 0l1.5 0.1l1.5 0l1.5 0l1.5 0l1.5 0l1.5 0l1.5 0l1.5 0l1.5 0l1.5 0l1.5 0l1.5 0l1.5 0l1.5 0l1.5 0l1.5 0l1.5 0l1.5 0l1.5 0.1l1.5 -0.1l1.5 0l1.5 0l1.5 0.1l1.5 -0.1l1.5 0l1.5 0l1.5 0l1.5 0.1l1.5 -0.1l1.5 0.1l1.5 0l1.5 0l1.5 0l1.5 0l1.5 -0.1l1.5 0.1l1.5 -0.1l1.5 0l1.5 0.1l1.5 0l1.5 0l1.5 0l1.5 -0.1l1.5 0l1.5 0l1.5 0l1.5 0l1.5 -0.1l1.5 0.1l1.5 0l1.5 -0.1l1.5 -0.1l0.4 0l0.3 -0.1l0.4 0l0.3 0l0.4 0l0.3 -0.1l0.4 -0.1l0.3 0l0.4 0l0.3 -0.1l0.4 -0.1l0.3 -0.1l0.4 -0.1l0.3 -0.1l0.4 -0.2l0.3 -0.1l0.4 -0.2l0.3 -0.3l0.4 -0.3l0.3 -0.3l0.4 -0.5l0.3 -0.7l0.4 -1l0.3 -1.3l0.4 -2.2l0.3 -3.2l0.4 -4.8l0.3 -6.6l0.4 -8.5l0.3 -8.7l0.4 -5.9l0.3 0.6l0.4 6.5l0.3 8.9l0.4 8l0.3 6.5l0.4 4.5l0.3 3.1l0.4 2.1l0.3 1.2l0.4 0.9l0.3 0.6l0.4 0.5l0.3 0.4l0.4 0.2l0.3 0.3l0.4 0.2l0.3 0.2l0.4 0.2l0.3 0.1l0.4 0l0.3 0.1l0.4 0.1l0.3 0.1l0.4 0.1l0.3 0l0.4 0.1l0.3 0l0.4 0l0.3 0.1l0.4 -0.1l0.3 0.1l0.4 0l0.3 0l1.5 0.1l1.5 0.2l1.5 0l1.5 0l1.5 0l1.5 0l1.5 0l1.5 0l1.5 0l1.5 0.1l1.5 0l1.5 0l1.5 0l1.5 0l1.5 0l1.5 0l1.5 0.1l1.5 0l1.5 -0.1l1.5 0.1l1.5 0l1.5 0l1.5 0l1.5 0l1.5 0l1.5 0l1.5 0l1.5 0l1.5 0l1.5 0l1.5 -0.1l1.5 0.1l1.5 0.1l1.5 0l1.5 0l1.5 -0.1l1.5 0l1.5 0l1.5 0.1l1.5 -0.1l1.5 0l1.5 0.1l1.5 0l1.5 -0.1l1.5 0.1l1.5 0l1.5 0l1.5 0l1.5 -0.1l1.5 0l1.5 0.1l1.5 0l1.5 0l1.5 0l1.5 -0.1l1.5 0.1l1.5 0.1l1.5 0l1.5 0l1.5 -0.1l1.5 0l1.5 0l1.5 0.1l1.5 0l1.5 0l1.5 0l1.5 -0.1l1.5 0l1.5 0l1.5 0l1.5 0l1.5 0.1l1.5 0l1.5 -0.1l1.5 0l1.5 0.1l1.5 -0.1l1.5 0.1l1.5 0l1.5 0l1.5 0l1.5 0l1.5 0l1.5 -0.1l1.5 0.1l1.5 0l1.5 0l1.5 0l1.5 -0.1l1.5 0.1l1.5 0l1.5 0l1.5 0l1.5 0l1.5 -0.1l1.5 0.1l0.4 -0.1l0.3 0.1l0.4 -0.1l0.3 0l0.4 0l0.3 0l0.4 0l0.3 0l0.4 -0.1l0.3 0.1l0.4 -0.1l0.3 0.1l0.4 -0.1l0.3 0l0.4 -0.1l0.3 0l0.4 0l0.3 0l0.4 0l0.3 -0.1l0.4 0l0.3 -0.1l0.4 0l0.3 -0.1l0.4 -0.2l0.3 -0.1l0.4 0l0.3 -0.3l0.4 -0.2l0.3 -0.4l0.4 -0.5l0.3 -0.7l0.4 -1l0.3 -1.4l0.4 -1.7l0.3 -1.8l0.4 -2.3l0.3 -1.9l0.4 -0.8l0.3 1.4l0.4 0.7l0.3 2.1l0.4 2l0.3 1.9l0.4 1.4l0.3 1.1l0.4 0.8l0.3 0.5l0.4 0.5l0.3 0.3l0.4 0.9l0.3 -0.5l0.4 0l0.3 0.1l0.4 0.1l0.3 0.2l0.4 0l0.3 0l0.4 0.1l0.3 0l0.4 0l0.3 0l0.4 0.1l0.3 0l0.4 0.1l0.3 0l0.4 0l0.3 -0.1l0.4 0.2l0.3 -0.1l0.4 0.1l0.3 0l0.4 0l0.3 -0.1l0.4 0.1l0.3 0l0.4 -0.1l0.3 0.2l0.4 -0.1l1.5 0.1l1.5 0l1.5 0l1.5 0l1.5 0l1.5 0l1.5 0.1l1.5 -0.1l1.5 0l1.5 0l1.5 0.1l1.5 0l1.5 -0.1l1.5 0.1l1.5 -0.1l1.5 0l1.5 0.1l1.5 0l1.5 -0.1l1.5 0l1.5 0.1l1.5 0l1.5 0l1.5 0l1.5 0l1.5 0l1.5 0l1.5 0l1.5 0l1.5 0l1.5 0.1l1.5 -0.1l1.5 0l1.5 0l1.5 0.1l1.5 0l1.5 0l1.5 0l1.5 0l1.5 0l1.5 0l1.5 0l1.5 -0.1l1.5 0l1.5 0.1l1.5 0l1.5 0l1.5 0l1.5 0l1.5 -0.1l1.5 0.1l1.5 0l1.5 0l1.5 0l1.5 0l1.5 0l1.5 0l1.5 0l1.5 0l1.5 0l1.5 0l1.5 0.1l1.5 0l1.5 -0.1l1.5 0.1l1.5 -0.1l1.5 0.1l1.5 0l1.5 0l1.5 0l1.5 -0.1l1.5 0.1l1.5 0l1.5 -0.1l1.5 0.8l1.5 -0.8l1.5 0.1l1.5 -0.1l0.3 0l0.4 0l0.3 0.5l0.4 -0.5l0.3 0l0.4 0l0.3 0.1l0.4 -0.1l0.3 0.1l0.4 0l0.3 -0.1l0.4 0l0.3 0l0.4 0l0.3 0.1l0.4 -0.1l0.3 -0.1l0.4 0.1l0.3 0l0.4 0l0.3 0l0.4 -0.1l0.3 0l0.4 0l0.3 0.1l0.4 -0.1l0.3 -0.1l0.4 0l0.3 0.1l0.4 0.5l0.3 -0.7l0.4 0l0.3 0l0.4 -0.1l0.3 0l0.4 -0.2l0.3 -0.1l0.4 -0.2l0.3 -0.2l0.4 -0.3l0.3 -0.4l0.4 -0.5l0.3 -0.5l0.4 -0.7l0.3 -0.7l0.4 -0.7l0.3 -0.6l0.4 -0.3l0.3 0l0.4 0.4l0.3 0.6l0.4 0.8l0.3 0.7l0.4 0.6l0.3 0.6l0.4 0.5l0.3 0.3l0.4 0.2l0.3 0.3l0.4 0.1l0.3 0.2l0.4 0.1l0.3 0l0.4 0.1l0.3 0.1l0.4 0l0.3 0.1l0.4 0l0.3 0l0.4 0.1l0.3 -0.1l0.4 0.1l0.3 0l0.4 -0.1l0.3 0.1l0.4 0l0.3 0.1l0.4 0l0.3 -0.1l0.4 0.1l0.3 0l0.4 0l0.3 0l0.4 -0.1l0.3 0.1l0.4 0l0.3 -0.1l0.4 0.1l0.3 0l0.4 0l0.3 0l0.4 0.1l0.3 -0.1l0.4 0l0.3 0l0.4 0.1l0.3 -0.1l0.4 0l0.3 0.1l1.5 -0.1l1.5 0l1.5 0.5l1.5 -0.5l1.5 0l1.5 0.1l1.5 0l1.5 0l1.5 0l1.5 0.1l1.5 -0.1l1.5 0l1.5 0.1l1.5 -0.1l1.5 0l1.5 0l1.5 0l1.5 0l1.5 0l1.5 0l1.5 0.1l1.5 0l1.5 -0.1l1.5 0l1.5 0l1.5 0l1.5 0.1l1.5 0l1.5 0l1.5 0l1.5 0l1.5 0l1.5 0l1.5 0l1.5 0l1.5 0l1.5 0l1.5 0l1.5 0l1.5 0.1l1.5 0l1.5 -0.1l1.5 1l1.5 -1l1.5 0l1.5 0l1.5 0l1.5 0l1.5 0.1l1.5 -0.1l1.5 0l1.5 0l1.5 0.1l1.5 0l1.5 0l1.5 -0.1l1.5 0.1l1.5 0l1.5 0l1.5 0l1.5 -0.1l1.5 0.1l1.5 -0.1l1.5 0.1l1.5 -0.1l1.5 0.1l1.5 -0.1l0.4 0.1l0.3 -0.1l0.4 0l0.3 -0.1l0.4 0.1l0.3 0l0.4 0l0.3 0l0.4 0l0.3 -0.1l0.4 0l0.3 0.1l0.4 -0.1l0.3 0l0.4 0l0.3 0l0.4 0l0.3 0l0.4 0l0.3 -0.1l0.4 0.1l0.3 -0.1l0.4 -0.1l0.3 0.1l0.4 -0.1l0.3 -0.1l0.4 0l0.3 0l0.4 -0.1l0.3 0l0.4 -0.1l0.3 -0.1l0.4 -0.1l0.3 -0.1l0.4 -0.1l0.3 -0.3l0.4 -0.2l0.3 -0.4l0.4 -0.4l0.3 -0.6l0.4 -0.6l0.3 -1l0.4 -1.2l0.3 -1.3l0.4 -1.7l0.3 -1.7l0.4 -1.6l0.3 -1.3l0.4 -0.6l0.3 0.4l0.4 1.1l0.3 1.5l0.4 1.8l0.3 1.6l0.4 1.5l0.3 1.2l0.4 1.1l0.3 0.7l0.4 0.7l0.3 0.4l0.4 0.4l0.3 0.2l0.4 0.2l0.3 0.1l0.4 0.2l0.3 0.2l0.4 0l0.3 0.1l0.4 0.1l0.3 0l0.4 0.1l0.3 0l0.4 0l0.3 0.1l0.4 -0.1l0.3 0.1l0.3 0l0.4 0l0.3 0.2l0.4 -0.1l0.3 0l0.4 0l0.3 0l0.4 0l0.3 0.1l0.4 0l0.3 0.1l0.4 -0.1l0.3 0l0.4 0l0.3 0l0.4 0.1l0.3 -0.1l0.4 0.1l0.3 0l0.4 -0.1l0.3 0.1l0.4 0l0.3 0l1.5 0l1.5 0.1l1.5 -0.1l1.5 0.1l1.5 0l1.5 0l1.5 0l1.5 0l1.5 0l1.5 0l1.5 0l1.5 0l1.5 0l1.5 0l1.5 0l1.5 0l1.5 0l1.5 0.1l1.5 -0.1l1.5 0l1.5 0l1.5 0.1l1.5 0l1.5 0l1.5 0l0.7 0" fill="none" stroke="#f29440" stroke-width="1.5" stroke-linejoin="round"/>
<path d="M1152.2 601.7l2.6 0.1l2.6 0l2.6 0l2.6 -0.1l2.6 0.1l2.6 0.1l2.6 -0.2l2.6 0l2.6 0.1l2.6 -0.2l2.6 0.1l2.6 0l2.6 0.1l2.6 -0.1l2.6 -0.2l2.6 0l2.6 0l2.6 0l2.6 0l2.6 -0.1l2.6 -0.1l2.6 0.2l2.6 -0.1l2.6 -0.1l2.6 -0.1l2.6 0l2.6 0.1l2.6 -0.1l2.6 -0.1l2.6 0.1l2.6 -0.2l2.6 0l2.6 -0.1l2.6 -0.2l2.6 0.1l2.6 -0.4l2.6 0l2.6 -0.1l2.6 0l2.6 -0.4l2.6 -0.2l2.6 -0.5l2.6 -0.2l2.6 -0.6l2.6 -0.8l2.6 -1.3l2.6 -2.4l2.6 -3.5l2.6 -5.6l2.6 -7.6l2.6 -10.1l2.6 -11.6l2.6 -11.7l2.6 -9.5l2.6 -4.6l2.6 1.9l2.6 8.1l2.6 11.1l2.6 12.1l2.6 10.5l2.6 8.5l2.6 6.4l2.6 4.3l2.6 2.7l2.6 1.8l2.6 0.7l2.6 0.8l2.6 0.3l2.6 0.6l2.6 -0.1l2.6 0.3l2.6 0.1l2.6 0.3l2.6 0.1l2.6 0.1l2.6 0l2.6 0.1l2.6 0.1l2.6 0.1l2.6 0.1l2.6 0l2.6 0l2.6 -0.2l2.6 0.1l2.6 0.1l2.6 0.1l2.6 0l2.6 -0.2l2.6 0l2.6 0l2.6 0.2l2.6 -0.1l2.6 0.2l2.6 -0.2l2.6 0.1l2.6 0l2.6 0.1l2.6 0l2.6 0l1 -0.1" fill="none" stroke="#f29440" stroke-width="1.8" stroke-linejoin="round"/>
<path d="M84.1 675.8l1.5 0l1.5 0l1.5 0l1.5 0l1.5 0.1l1.5 -0.1l1.5 0l1.5 0l1.5 0l1.5 0l1.5 0.1l1.5 -0.1l1.5 0l1.5 0l1.5 0l1.5 0l1.5 0l1.5 0l1.5 0.1l1.5 -0.1l1.5 0.1l1.5 -0.1l1.5 0l1.5 0l1.5 0l1.5 0.1l1.5 -0.1l1.5 0l1.5 0l1.5 0.1l1.5 -0.1l1.5 0.1l1.5 -0.1l1.5 0.1l1.5 -0.1l1.5 0.1l1.5 0l1.5 0l1.5 0l1.5 0l1.5 0l1.5 0l1.5 0l1.5 0l1.5 0l1.5 0l1.5 0l1.5 -0.1l1.5 0.1l1.5 0l1.5 0l1.5 -0.1l1.5 0.1l1.5 0.1l1.5 -0.1l1.5 0l1.5 0l1.5 0l1.5 0.1l1.5 -0.1l1.5 0l1.5 0l1.5 0l1.5 0l1.5 0l1.5 0.1l1.5 -0.1l1.5 0l1.5 0.1l1.5 0l1.5 0l1.5 -0.1l1.5 0l1.5 0.1l1.5 -0.1l1.5 0l1.5 0l1.5 0.1l1.5 0l1.5 0l1.5 0l1.5 -0.1l1.5 0.1l1.5 -0.1l1.5 0l1.5 0.8l1.5 -0.7l1.5 0l1.5 -0.1l1.5 0.1l1.5 0l1.5 0l1.5 0l1.5 0l1.5 -0.1l1.5 0.1l1.5 0l1.5 0l1.5 0l1.5 0l1.5 -0.1l1.5 0.1l1.5 0l1.5 0l1.5 0l1.5 0l1.5 0l1.5 0.1l1.5 0l1.5 -0.1l1.5 0.1l1.5 0l1.5 0l1.5 0l1.5 -0.1l1.5 0l1.5 0l1.5 0.1l1.5 0l1.5 -0.1l1.5 0l1.5 0.1l1.5 0l1.5 -0.1l1.5 0.1l1.5 -0.1l1.5 0.1l1.5 0l1.5 0l1.5 0l1.5 -0.1l1.5 0.1l1.5 0l1.5 0l1.5 0l1.5 -0.1l1.5 0l1.5 0.1l1.5 -0.1l1.5 0l1.5 0l1.5 0.1l1.5 0l1.5 0l1.5 0l1.5 0l1.5 0l1.5 0l1.5 0l1.5 0l1.5 0l1.5 0l1.5 0.1l1.5 0l1.5 -0.1l1.5 -0.1l1.5 0.1l1.5 0l1.5 0l1.5 0l1.5 0l1.5 0.1l1.5 -0.1l1.5 0l1.5 0.1l1.5 0l1.5 -0.1l1.5 0l1.5 0l1.5 0.1l1.5 -0.1l1.5 0.1l1.5 -0.1l1.5 0l1.5 0.1l1.5 -0.1l1.5 0l1.5 0l1.5 0.1l1.5 -0.1l1.5 0.1l1.5 -0.1l1.5 0l1.5 0l1.5 0l1.5 0l1.5 0l1.5 0.1l1.5 -0.1l1.5 0.1l1.5 0l1.5 -0.1l1.5 0l1.5 0l1.5 0.1l1.5 -0.1l1.5 0l1.5 0l1.5 0l1.5 0l1.5 -0.1l1.5 0.2l1.5 -0.2l1.5 -0.1l1.5 0l1.5 -0.2l1.5 0l0.4 -0.1l0.3 -0.1l0.4 0l0.3 -0.1l0.4 0l0.3 -0.1l0.4 -0.1l0.3 -0.1l0.4 -0.1l0.3 0l0.4 -0.2l0.3 -0.2l0.4 -0.1l0.3 -0.3l0.4 -0.3l0.3 -0.3l0.4 -0.4l0.3 -0.4l0.4 -0.7l0.3 -0.8l0.4 -1.1l0.3 -1.8l0.4 -2.5l0.3 -4l0.4 -6.3l0.3 -9.4l0.4 -12.7l0.3 -14.7l0.4 -12.3l0.3 -2.6l0.4 9l0.3 14.5l0.4 13.8l0.3 10.7l0.4 7.6l0.3 4.9l0.4 3.1l0.3 2l0.4 1.3l0.3 1l0.4 0.6l0.3 0.6l0.4 0.4l0.3 0.4l0.4 0.4l0.3 0.2l0.4 0.2l0.3 0.1l0.4 0.2l0.3 0.2l0.4 0l0.3 0.1l0.4 0.1l0.3 0.1l0.4 0.1l0.3 0.1l0.4 0l0.3 0.1l0.4 -0.1l0.3 0.1l1.5 0.1l1.5 0.1l1.5 0.1l1.5 0l1.5 0l1.5 0l1.5 0.1l1.5 0l1.5 0.1l1.5 -0.1l1.5 0.1l1.5 0l1.5 0l1.5 0l1.5 0l1.5 0l1.5 0l1.5 0l1.5 0.1l1.5 0l1.5 0l1.5 -0.1l1.5 0.1l1.5 -0.1l1.5 0l1.5 0.1l1.5 0l1.5 0l1.5 0l1.5 0l1.5 0l1.5 -0.1l1.5 0.1l1.5 0l1.5 0.1l1.5 0l1.5 -0.1l1.5 0l1.5 0l1.5 0.1l1.5 -0.1l1.5 0l1.5 0l1.5 0l1.5 0.1l1.5 -0.1l1.5 0l1.5 0.1l1.5 0l1.5 -0.1l1.5 0l1.5 0.1l1.5 -0.1l1.5 0.1l1.5 -0.1l1.5 0l1.5 0.1l1.5 0l1.5 -0.1l1.5 0.1l1.5 0l1.5 0l1.5 0l1.5 -0.1l1.5 0l1.5 0l1.5 0.1l1.5 0l1.5 -0.1l1.5 0.1l1.5 0l1.5 0l1.5 0l1.5 0l1.5 -0.1l1.5 0l1.5 0.1l1.5 0.1l1.5 -0.1l1.5 0l1.5 0l1.5 0l1.5 0.3l1.5 -0.4l1.5 0.1l1.5 0.1l1.5 -0.1l1.5 0l1.5 0.1l1.5 -0.1l1.5 0l1.5 0l1.5 0l1.5 0.1l1.5 -0.1l1.5 0l1.5 0.1l1.5 -0.1l1.5 0.1l1.5 -0.1l1.5 0.1l1.5 0l1.5 0l1.5 -0.1l1.5 0l1.5 0l1.5 0.1l1.5 0.7l1.5 -0.7l1.5 -0.1l1.5 0l1.5 0l1.5 0l1.5 0.1l1.5 -0.1l1.5 0l1.5 0l1.5 0.1l1.5 -0.1l1.5 -0.1l1.5 0.1l1.5 0l1.5 -0.1l1.5 0.1l1.5 -0.1l1.5 0l1.5 -0.1l0.4 0l0.3 -0.1l0.4 0l0.3 0l0.4 -0.1l0.3 0l0.4 0l0.3 -0.1l0.4 0l0.3 0l0.4 -0.1l0.3 -0.1l0.4 -0.1l0.3 0l0.4 -0.2l0.3 -0.1l0.4 -0.1l0.3 -0.2l0.4 -0.1l0.3 -0.3l0.4 -0.4l0.3 -0.4l0.4 -0.5l0.3 -0.9l0.4 -1l0.3 -1.7l0.4 -2.4l0.3 -3.4l0.4 -4.4l0.3 -5.5l0.4 -5.8l0.3 -4.6l0.4 -1.6l0.3 2.7l0.4 5.1l0.3 5.9l0.4 5.2l0.3 4.2l0.4 3l0.3 2.1l0.4 1.6l0.3 0.9l0.4 0.8l0.3 0.4l0.4 0.5l0.3 0.3l0.4 0.1l0.3 0.3l0.4 0.2l0.3 0.1l0.4 0.2l0.3 0.7l0.4 -0.5l0.3 0l0.4 0l0.3 0l0.4 0.2l0.3 0l0.4 0.1l0.3 -0.1l0.4 0.1l0.3 0.1l0.4 -0.1l0.3 0.1l0.4 0l0.3 0l0.4 0.1l0.3 -0.1l0.4 0.1l1.5 0.1l1.5 0l1.5 -0.1l1.5 0.1l1.5 0l1.5 0l1.5 0l1.5 0l1.5 0.1l1.5 0l1.5 0l1.5 0.1l1.5 -0.1l1.5 0l1.5 0l1.5 0l1.5 0.1l1.5 0l1.5 0l1.5 0l1.5 -0.1l1.5 0l1.5 0.1l1.5 -0.1l1.5 0.1l1.5 0l1.5 0l1.5 -0.1l1.5 0.1l1.5 0l1.5 0l1.5 0l1.5 0l1.5 0l1.5 0l1.5 -0.1l1.5 0.1l1.5 0l1.5 0l1.5 0l1.5 0l1.5 0l1.5 0l1.5 0l1.5 0l1.5 0.1l1.5 -0.1l1.5 0l1.5 0l1.5 0l1.5 0.1l1.5 -0.1l1.5 0l1.5 0l1.5 0l1.5 0.1l1.5 -0.1l1.5 0l1.5 0.1l1.5 0l1.5 -0.1l1.5 0.1l1.5 -0.1l1.5 0.1l1.5 0l1.5 0l1.5 -0.1l1.5 0.1l1.5 -0.1l1.5 0l1.5 0.1l1.5 0l1.5 0l1.5 -0.1l1.5 0.1l1.5 -0.1l1.5 0.1l1.5 0l1.5 0l1.5 0l1.5 -0.1l1.5 0.1l1.5 0l1.5 0l1.5 0l1.5 0l1.5 0l1.5 -0.1l1.5 0.1l1.5 0l1.5 0l1.5 -0.1l1.5 0.1l1.5 -0.1l0.3 0l0.4 0l0.3 0l0.4 0l0.3 0l0.4 0l0.3 0l0.4 0l0.3 0l0.4 0l0.3 0l0.4 -0.1l0.3 0l0.4 0.1l0.3 -0.1l0.4 0l0.3 0.8l0.4 -0.9l0.3 0l0.4 0l0.3 0.1l0.4 -0.1l0.3 -0.1l0.4 0l0.3 0l0.4 0l0.3 -0.2l0.4 -0.1l0.3 0l0.4 -0.1l0.3 -0.2l0.4 -0.2l0.3 -0.3l0.4 -0.4l0.3 -0.5l0.4 -0.6l0.3 -0.9l0.4 -1.1l0.3 -1.3l0.4 -1.6l0.3 -1.4l0.4 -1.2l0.3 -0.5l0.4 0.5l0.3 1.2l0.4 1.4l0.3 1.5l0.4 1.4l0.3 1.1l0.4 0.9l0.3 0.7l0.4 0.5l0.3 0.3l0.4 0.3l0.3 0.2l0.4 0.2l0.3 0l0.4 0.2l0.3 0.2l0.4 -0.1l0.3 0l0.4 0.2l0.3 -0.1l0.4 0l0.3 0.1l0.4 0l0.3 0.1l0.4 0l0.3 0.1l0.4 0l0.3 -0.1l0.4 0l0.3 0.1l0.4 0l0.3 0l0.4 0l0.3 0l0.4 0l0.3 0l0.4 0l0.3 0l0.4 0l0.3 0.1l0.4 -0.1l0.3 0l0.4 0.1l0.3 0l1.5 0l1.5 0l1.5 0l1.5 0l1.5 0l1.5 0.1l1.5 -0.1l1.5 0.1l1.5 0l1.5 0l1.5 0l1.5 -0.1l1.5 0.1l1.5 -0.1l1.5 0.1l1.5 0l1.5 -0.1l1.5 0.1l1.5 0l1.5 0l1.5 -0.1l1.5 0.1l1.5 0l1.5 0l1.5 0l1.5 0l1.5 0.1l1.5 -0.1l1.5 0.1l1.5 0l1.5 0l1.5 0l1.5 -0.1l1.5 0.1l1.5 -0.1l1.5 0l1.5 0.1l1.5 -0.1l1.5 0.1l1.5 -0.1l1.5 0.1l1.5 0.4l1.5 -0.5l1.5 0l1.5 0l1.5 0.1l1.5 0l1.5 -0.1l1.5 0l1.5 0l1.5 0.1l1.5 -0.1l1.5 0.1l1.5 -0.1l1.5 0l1.5 0.1l1.5 0l1.5 0l1.5 0.4l1.5 -0.4l1.5 -0.1l1.5 0l1.5 0.8l1.5 -0.8l1.5 0.1l1.5 0l1.5 0l1.5 -0.1l1.5 0l1.5 0l1.5 0.1l1.5 0l1.5 -0.1l1.5 0.1l0.4 -0.1l0.3 0l0.4 0l0.3 0l0.4 0l0.3 0l0.4 0l0.3 0l0.4 0l0.3 0.1l0.4 -0.1l0.3 0l0.4 0l0.3 0l0.4 0.1l0.3 -0.1l0.4 0l0.3 0l0.4 0l0.3 0l0.4 -0.1l0.3 0l0.4 0.1l0.3 -0.1l0.4 0.1l0.3 0l0.4 -0.1l0.3 0.1l0.4 0l0.3 -0.1l0.4 0l0.3 0l0.4 -0.1l0.3 0.1l0.4 -0.1l0.3 -0.1l0.4 0.1l0.3 -0.1l0.4 -0.1l0.3 0l0.4 0l0.3 -0.1l0.4 -0.1l0.3 0l0.4 -0.1l0.3 -0.2l0.4 -0.2l0.3 -0.3l0.4 -0.2l0.3 -0.4l0.4 -0.5l0.3 -0.5l0.4 -0.6l0.3 -0.7l0.4 -0.7l0.3 -0.7l0.4 -0.7l0.3 -0.6l0.4 -0.3l0.3 0l0.4 0.4l0.3 0.5l0.4 0.7l0.3 0.8l0.4 0.8l0.3 0.6l0.4 0.7l0.3 0.4l0.4 0.4l0.3 0.5l0.4 0.2l0.3 0.3l0.4 0.1l0.3 0.2l0.4 0.1l0.3 0.1l0.4 0l0.3 0.1l0.4 0l0.3 0.1l0.4 0l0.3 0.2l0.4 -0.1l0.3 0l0.4 0.1l0.3 -0.1l0.4 0.1l0.3 0l0.4 0l0.3 0l0.4 0l0.3 0.4l0.4 -0.3l0.3 0l0.4 0l0.3 0l0.4 0.1l0.3 -0.1l0.4 0l0.3 0.1l0.4 0l0.3 -0.1l0.4 0.3l0.3 -0.3l0.4 0l0.3 0l0.4 0l0.3 0.1l0.4 0l0.3 0l0.4 0l0.3 -0.1l0.4 0l0.3 0.1l0.4 0l0.3 0l0.4 0l0.3 0l0.4 0l0.3 0l1.5 0.1l1.5 -0.1l1.5 0l1.5 0.1l1.5 -0.1l1.5 0l1.5 0l1.5 0l1.5 0.1l1.5 0l1.5 -0.1l1.5 0.1l1.5 0l1.5 0l1.5 0l1.5 -0.1l1.5 0.1l1.5 0l1.5 0l1.5 0l1.5 0l1.5 0l1.5 0l1.5 0l1.5 0l1.5 0l1.5 0l1.5 0l1.5 0l1.5 0.2l1.5 -0.2l1.5 0.1l1.5 0l1.5 -0.1l1.5 0.1l1.5 -0.1l1.5 0l1.5 0l1.5 0l1.5 0l1.5 0l1.5 0l1.5 0l1.5 0.1l1.5 -0.1l1.5 0l1.5 0l1.5 0.1l1.5 0l1.5 0l1.5 -0.1l1.5 0.1l1.5 -0.1l1.5 0.1l1.5 -0.1l1.5 0l1.5 0.9l1.5 -0.9l1.5 0l1.5 0.1l1.5 -0.1l1.5 0l0.4 0l0.3 0.1l0.4 -0.2l0.3 0.1l0.4 -0.1l0.3 0.1l0.4 -0.1l0.3 0l0.4 0.1l0.3 -0.1l0.4 0.1l0.3 0l0.4 -0.1l0.3 0l0.4 0l0.3 0.1l0.4 -0.1l0.3 0l0.4 0.1l0.3 -0.1l0.4 0l0.3 0l0.4 -0.1l0.3 0.1l0.4 0l0.3 0l0.4 0l0.3 0l0.4 -0.1l0.3 0l0.4 -0.1l0.3 0l0.4 0l0.3 0l0.4 0l0.3 -0.1l0.4 0l0.3 -0.1l0.4 -0.1l0.3 0l0.4 -0.1l0.3 -0.1l0.4 -0.1l0.3 -0.2l0.4 -0.2l0.3 -0.1l0.4 -0.4l0.3 -0.2l0.4 -0.4l0.3 -0.6l0.4 -0.7l0.3 -0.7l0.4 -0.9l0.3 -1l0.4 -1.1l0.3 -1l0.4 -0.9l0.3 -0.8l0.4 -0.3l0.3 0.2l0.4 0.5l0.3 1l0.4 1l0.3 1.1l0.4 1l0.3 1l0.4 0.7l0.3 0.7l0.4 0.6l0.3 0.5l0.4 0.3l0.3 0.3l0.4 0.2l0.3 0.2l0.4 0.2l0.3 0.1l0.4 0.1l0.3 0l0.4 0.1l0.3 0.2l0.4 -0.1l0.3 0.1l0.4 0l0.3 0.1l0.3 0l0.4 0l0.3 0.1l0.4 0l0.3 0l0.4 0l0.3 0.1l0.4 -0.1l0.3 0.1l0.4 0l0.3 0l0.4 0.1l0.3 -0.1l0.4 0l0.3 0.1l0.4 -0.1l0.3 0l0.4 0l0.3 0.1l0.4 0l0.3 0l0.4 0.8l0.3 -0.8l0.4 0l0.3 0.1l0.4 0l0.3 -0.1l0.4 0l0.3 0l0.4 0.1l0.3 -0.1l0.4 0.1l0.3 -0.1l0.4 0.1l0.3 0l1.5 -0.1l1.5 0.1l1.5 0l1.5 0.1l1.5 -0.1l1.5 0l1.5 0l1.5 0l1.5 0l1.5 0.1l1.5 -0.1l1.5 0.1l1.5 -0.1l1.5 0.1l1.5 0l1.5 -0.1l1.5 0.1l1.5 0l1.5 -0.1l1.5 0l1.5 0.1l1.5 0l1.5 0l1.5 0l1.5 0l1.4 -0.1" fill="none" stroke="#e0307f" stroke-width="1.5" stroke-linejoin="round"/>
<path d="M1152.2 676.1l2.6 0l2.6 -0.1l2.6 0l2.6 -0.1l2.6 0.2l2.6 -0.2l2.6 0l2.6 -0.1l2.6 0l2.6 -0.1l2.6 0.1l2.6 0.1l2.6 -0.3l2.6 0.1l2.6 -0.1l2.6 0.1l2.6 0l2.6 -0.1l2.6 -0.2l2.6 0l2.6 0l2.6 -0.2l2.6 0l2.6 0l2.6 -0.1l2.6 -0.1l2.6 -0.2l2.6 -0.1l2.6 0.1l2.6 -0.4l2.6 -0.2l2.6 -0.2l2.6 -0.1l2.6 -0.3l2.6 -0.6l2.6 -0.4l2.6 -1l2.6 -1.3l2.6 -1.9l2.6 -2.7l2.6 -4.2l2.6 -5.7l2.6 -7.3l2.6 -9l2.6 -10.1l2.6 -10l2.6 -8.8l2.6 -5.5l2.6 -1l2.6 3.8l2.6 8l2.6 9.6l2.6 10.1l2.6 9.3l2.6 8.2l2.6 6.1l2.6 4.8l2.6 3.5l2.6 2.1l2.6 1.6l2.6 0.7l2.6 0.7l2.6 0.4l2.6 0.6l2.6 0.1l2.6 0.1l2.6 0.4l2.6 0l2.6 0.1l2.6 0l2.6 0.3l2.6 0.1l2.6 0.1l2.6 -0.1l2.6 0l2.6 0.2l2.6 0.1l2.6 -0.1l2.6 0l2.6 0.2l2.6 -0.3l2.6 0.2l2.6 0l2.6 0l2.6 0.1l2.6 -0.1l2.6 0.1l2.6 -0.1l2.6 0.1l2.6 0.1l2.6 -0.1l2.6 0.1l2.6 -0.2l2.6 0.2l2.6 -0.1l2.6 -0.1l2.6 0.1l2.6 0.1l2.6 0l1 -0.1" fill="none" stroke="#e0307f" stroke-width="1.8" stroke-linejoin="round"/>
<path d="M84.1 750l1.5 0l1.5 0l1.5 0l1.5 0l1.5 0.1l1.5 -0.1l1.5 0.1l1.5 -0.1l1.5 0l1.5 0l1.5 0.1l1.5 0.2l1.5 -0.3l1.5 0.1l1.5 -0.1l1.5 0l1.5 0l1.5 0.1l1.5 0l1.5 -0.1l1.5 0l1.5 0l1.5 0l1.5 0.1l1.5 0l1.5 0l1.5 0l1.5 0l1.5 -0.1l1.5 0.1l1.5 0l1.5 0l1.5 0l1.5 -0.1l1.5 0l1.5 0.1l1.5 -0.1l1.5 0.1l1.5 -0.1l1.5 0.1l1.5 0l1.5 -0.1l1.5 0.1l1.5 0l1.5 0l1.5 0l1.5 0l1.5 0l1.5 -0.1l1.5 0.5l1.5 -0.5l1.5 0.1l1.5 0l1.5 0l1.5 0l1.5 0l1.5 -0.1l1.5 0.1l1.5 0l1.5 0l1.5 0l1.5 0l1.5 0l1.5 0l1.5 0l1.5 0l1.5 0l1.5 0l1.5 0l1.5 0.1l1.5 -0.1l1.5 0l1.5 0l1.5 0l1.5 0l1.5 0l1.5 0.1l1.5 0l1.5 -0.1l1.5 0l1.5 0.1l1.5 0l1.5 -0.1l1.5 0.1l1.5 0l1.5 0l1.5 -0.1l1.5 0l1.5 0.1l1.5 -0.1l1.5 0l1.5 0.1l1.5 -0.1l1.5 0.1l1.5 0l1.5 0l1.5 0l1.5 0l1.5 0l1.5 0l1.5 -0.1l1.5 0.1l1.5 0l1.5 -0.1l1.5 0l1.5 0.1l1.5 0l1.5 0l1.5 0l1.5 -0.1l1.5 0l1.5 0.1l1.5 0l1.5 0l1.5 -0.1l1.5 0.1l1.5 0l1.5 0l1.5 0l1.5 0l1.5 0l1.5 0l1.5 0l1.5 0l1.5 0l1.5 0.1l1.5 -0.1l1.5 0l1.5 0.1l1.5 -0.1l1.5 0l1.5 0l1.5 0.2l1.5 -0.1l1.5 -0.1l1.5 0l1.5 0l1.5 0l1.5 0.1l1.5 -0.1l1.5 0.1l1.5 0l1.5 -0.1l1.5 0l1.5 0l1.5 0l1.5 0.1l1.5 0l1.5 0l1.5 0l1.5 -0.1l1.5 0.1l1.5 0.1l1.5 -0.1l1.5 0l1.5 -0.1l1.5 0l1.5 0.1l1.5 -0.1l1.5 0.1l1.5 -0.1l1.5 0.1l1.5 -0.1l1.5 0l1.5 0l1.5 0l1.5 0.1l1.5 0l1.5 0l1.5 0.8l1.5 -0.9l1.5 0l1.5 0l1.5 0.1l1.5 -0.1l1.5 0l1.5 0l1.5 0.1l1.5 -0.1l1.5 0.1l1.5 -0.1l1.5 0.1l1.5 -0.1l1.5 0l1.5 0.1l1.5 -0.1l1.5 0.1l1.5 -0.1l1.5 0.1l1.5 0l1.5 -0.1l1.5 0l1.5 0l1.5 0l1.5 0l1.5 0l1.5 0l1.5 0l1.5 0l1.5 0l1.5 -0.1l1.5 0l1.5 -0.1l1.5 0l1.5 -0.2l1.5 -0.1l0.4 0l0.3 -0.1l0.4 0l0.3 -0.2l0.4 0l0.3 -0.1l0.4 -0.1l0.3 0l0.4 -0.2l0.3 -0.2l0.4 -0.2l0.3 -0.2l0.4 -0.2l0.3 -0.3l0.4 -0.4l0.3 -0.4l0.4 -0.5l0.3 -0.7l0.4 -1l0.3 -1.4l0.4 -2l0.3 -3l0.4 -5l0.3 -7.6l0.4 -10.8l0.3 -13.9l0.4 -13.7l0.3 -9.9l0.4 2.7l0.3 12.3l0.4 14.8l0.3 12.8l0.4 9.3l0.3 6.4l0.4 4.1l0.3 2.5l0.4 1.8l0.3 1l0.4 0.8l0.3 0.7l0.4 0.5l0.3 0.5l0.4 0.3l0.3 0.2l0.4 0.3l0.3 0.2l0.4 0.1l0.3 0.2l0.4 0l0.3 0.1l0.4 0.1l0.3 0.1l0.4 0.1l0.3 0.6l0.4 -0.5l0.3 0.1l0.4 0.1l0.3 0l0.4 0l1.5 0.1l1.5 0.1l1.5 0.1l1.5 0.1l1.5 0l1.5 -0.1l1.5 0.1l1.5 0l1.5 0l1.5 0.1l1.5 -0.1l1.5 0.1l1.5 0l1.5 0l1.5 0l1.5 0l1.5 0l1.5 0l1.5 0l1.5 0l1.5 0.1l1.5 -0.1l1.5 0.1l1.5 0l1.5 0l1.5 0l1.5 0l1.5 0l1.5 -0.1l1.5 0.1l1.5 -0.1l1.5 0.1l1.5 0l1.5 -0.1l1.5 0.1l1.5 0l1.5 0l1.5 0l1.5 0l1.5 -0.1l1.5 0.1l1.5 0l1.5 0l1.5 0l1.5 0l1.5 0l1.5 0l1.5 0.1l1.5 -0.1l1.5 0l1.5 0l1.5 0l1.5 0l1.5 0l1.5 0l1.5 0.1l1.5 0l1.5 0l1.5 -0.1l1.5 0.1l1.5 -0.1l1.5 0l1.5 0.1l1.5 0l1.5 0l1.5 -0.1l1.5 0.1l1.5 -0.1l1.5 0l1.5 1l1.5 -1l1.5 0l1.5 0.1l1.5 -0.1l1.5 0l1.5 0l1.5 0.1l1.5 0l1.5 0l1.5 0l1.5 -0.1l1.5 0.1l1.5 0l1.5 -0.1l1.5 0.1l1.5 0l1.5 0l1.5 0l1.5 0.3l1.5 -0.3l1.5 0l1.5 0l1.5 0l1.5 0l1.5 -0.1l1.5 0.1l1.5 0l1.5 0l1.5 0l1.5 0l1.5 0l1.5 0l1.5 0l1.5 0l1.5 0l1.5 0l1.5 0l1.5 0l1.5 0l1.5 0l1.5 0l1.5 -0.1l1.5 0.1l1.5 0l1.5 -0.1l1.5 0.1l1.5 0l1.5 0l1.5 0l1.5 0l1.5 -0.1l1.5 0l1.5 0l1.5 0l1.5 0l1.5 0.9l0.3 -0.9l0.4 -0.1l0.3 0l0.4 0l0.3 0l0.4 -0.1l0.3 0l0.4 0l0.3 0l0.4 0l0.3 -0.1l0.4 0l0.3 0l0.4 -0.2l0.3 0.3l0.4 -0.4l0.3 0l0.4 -0.2l0.3 0l0.4 0.5l0.3 -0.8l0.4 -0.3l0.3 -0.2l0.4 -0.4l0.3 0.1l0.4 -1.2l0.3 -1l0.4 -1.1l0.3 -2.3l0.4 -2.7l0.3 -3.6l0.4 -4.2l0.3 -4l0.4 -2.5l0.3 0.2l0.4 2.9l0.3 4l0.4 4.2l0.3 3.4l0.4 2.7l0.3 2l0.4 1.2l0.3 0.9l0.4 0.7l0.3 0.4l0.4 0.3l0.3 0.2l0.4 0.3l0.3 0.1l0.4 0.2l0.3 0.1l0.4 0l0.3 0.1l0.4 0.1l0.3 0l0.4 0.1l0.3 0l0.4 0.1l0.3 0.1l0.4 0l0.3 0l0.4 0.1l0.3 0l0.4 -0.1l0.3 0.1l0.4 0.1l0.3 -0.1l0.4 0l0.3 0l0.4 0.1l0.3 0l1.5 0l1.5 0l1.5 0.1l1.5 -0.1l1.5 0.2l1.5 -0.1l1.5 0l1.5 0l1.5 0.1l1.5 0l1.5 0l1.5 0l1.5 0l1.5 -0.1l1.5 0.1l1.5 0l1.5 -0.1l1.5 0.1l1.5 0l1.5 0l1.5 -0.1l1.5 0.1l1.5 0l1.5 0l1.5 0.1l1.5 -0.1l1.5 0.1l1.5 -0.1l1.5 0l1.5 0l1.5 0l1.5 0l1.5 0l1.5 0l1.5 0.1l1.5 0l1.5 -0.1l1.5 0.1l1.5 0.9l1.5 -0.9l1.5 -0.1l1.5 0l1.5 0l1.5 0l1.5 0l1.5 0l1.5 0.1l1.5 0l1.5 -0.1l1.5 0.1l1.5 -0.1l1.5 0l1.5 0.1l1.5 -0.1l1.5 0.1l1.5 -0.1l1.5 0l1.5 0.1l1.5 0l1.5 0l1.5 0l1.5 0l1.5 -0.1l1.5 0.1l1.5 -0.1l1.5 0l1.5 0.1l1.5 0l1.5 0l1.5 1l1.5 -1.1l1.5 0.1l1.5 -0.1l1.5 0.1l1.5 0l1.5 -0.1l1.5 0.1l1.5 0l1.5 0l1.5 0l1.5 0l1.5 -0.1l1.5 0.1l1.5 0l1.5 0l1.5 -0.1l1.5 0.1l1.5 0l1.5 0l1.5 0l1.5 0l1.5 -0.1l0.4 0.1l0.3 0l0.4 -0.1l0.3 0l0.4 0l0.3 0l0.4 0l0.3 0.1l0.4 -0.1l0.3 0.1l0.4 -0.1l0.3 0l0.4 0l0.3 0l0.4 0l0.3 0l0.4 0l0.3 0l0.4 0l0.3 -0.1l0.4 0l0.3 0l0.4 0.1l0.3 0.8l0.4 -0.9l0.3 0l0.4 0l0.3 -0.1l0.4 0l0.3 -0.1l0.4 0.1l0.3 -0.1l0.4 -0.1l0.3 0l0.4 -0.1l0.3 -0.1l0.4 -0.1l0.3 -0.2l0.4 -0.2l0.3 -0.3l0.4 -0.3l0.3 0.2l0.4 -1.3l0.3 -0.7l0.4 -0.8l0.3 -0.8l0.4 -0.9l0.3 -0.6l0.4 -0.3l0.3 0.2l0.4 0.5l0.3 0.9l0.4 0.8l0.3 0.8l0.4 0.7l0.3 0.7l0.4 0.5l0.3 0.4l0.4 0.2l0.3 0.3l0.4 0.2l0.3 0.1l0.4 0.1l0.3 0.1l0.4 0.1l0.3 0l0.4 0.1l0.3 0l0.4 0.1l0.3 0l0.4 0l0.3 0l0.4 0l0.3 0.1l0.4 -0.1l0.3 0.1l0.4 0l0.3 0l0.4 -0.1l0.3 0.2l0.4 -0.1l0.3 0l0.4 0.1l0.3 -0.1l0.4 0.1l0.3 0l0.4 0l0.3 -0.1l0.4 0l0.3 0.1l0.4 0l0.3 0l0.4 0l0.3 0l0.4 0l0.3 0l0.4 -0.1l0.3 0.1l0.4 0l1.5 0l1.5 0l1.5 0.1l1.5 -0.1l1.5 0l1.5 0l1.5 0.1l1.5 0l1.5 0l1.5 0l1.5 0.3l1.5 -0.3l1.5 -0.1l1.5 0.1l1.5 -0.1l1.5 0.1l1.5 0l1.5 0l1.5 -0.1l1.5 0.1l1.5 -0.1l1.5 0.1l1.5 0l1.5 0l1.5 0l1.5 0l1.5 0l1.5 0l1.5 0l1.5 -0.1l1.5 0.1l1.5 0l1.5 0l1.5 0.1l1.5 -0.1l1.5 0l1.5 0.1l1.5 -0.1l1.5 0l1.5 0.1l1.5 -0.1l1.5 0l1.5 0l1.5 0l1.5 0l1.5 0.1l1.5 0l1.5 -0.1l1.5 0.1l1.5 -0.1l1.5 0l1.5 0.1l1.5 -0.1l1.5 0l1.5 0.1l1.5 -0.1l1.5 0l1.5 0.1l1.5 -0.1l1.5 0l1.5 0l1.5 0l1.5 0.1l1.5 -0.1l1.5 0l1.5 0.1l1.5 -0.1l1.5 0l1.5 0l1.5 0l1.5 0.5l1.5 -0.5l1.5 0.1l0.3 -0.1l0.4 0l0.3 0.1l0.4 0.5l0.3 -0.6l0.4 0l0.3 0l0.4 0l0.3 0.1l0.4 -0.1l0.3 0l0.4 0l0.3 0l0.4 0l0.3 0l0.4 0l0.3 -0.1l0.4 0.1l0.3 0l0.4 0l0.3 0l0.4 0l0.3 0l0.4 -0.1l0.3 0l0.4 0l0.3 0l0.4 0.1l0.3 -0.1l0.4 0l0.3 0.2l0.4 -0.2l0.3 -0.1l0.4 0l0.3 0l0.4 0l0.3 -0.1l0.4 0l0.3 0l0.4 0l0.3 0.4l0.4 0l0.3 -0.6l0.4 -0.2l0.3 -0.1l0.4 -0.2l0.3 -0.1l0.4 -0.2l0.3 -0.4l0.4 -0.4l0.3 -0.3l0.4 -0.5l0.3 -0.6l0.4 -0.4l0.3 -0.4l0.4 -0.5l0.3 -0.1l0.4 0l0.3 0.3l0.4 0.4l0.3 0.4l0.4 0.7l0.3 0.3l0.4 0.6l0.3 0.4l0.4 0.3l0.3 0.2l0.4 0.3l0.3 0.1l0.4 0.2l0.3 0.1l0.4 0.1l0.3 0l0.4 0.1l0.3 0.1l0.4 0l0.3 0l0.4 0.1l0.3 0l0.4 0l0.3 0.1l0.4 0l0.3 0l0.4 0l0.3 0l0.4 0l0.3 0.1l0.4 0l0.3 0l0.4 0l0.3 0l0.4 -0.1l0.3 0l0.4 0.1l0.3 0l0.4 0.4l0.3 -0.3l0.4 -0.1l0.3 0l0.4 0l0.3 0.1l0.4 -0.1l0.3 0.1l0.4 -0.1l0.3 0l0.4 0l0.3 0.1l0.4 0l0.3 0l0.4 -0.1l0.3 0.1l0.4 -0.1l0.3 0.7l0.4 -0.6l0.3 -0.1l0.4 0l0.3 0l0.4 0l1.5 0.1l1.5 0l1.5 0l1.5 0l1.5 0l1.5 0l1.5 0l1.5 0l1.5 0l1.5 0l1.5 0.1l1.5 -0.1l1.5 0l1.5 0l1.5 0.1l1.5 -0.1l1.5 0l1.5 0.1l1.5 -0.1l1.5 0.1l1.5 -0.1l1.5 0l1.5 0l1.5 0.1l1.5 -0.1l1.5 0l1.5 0l1.5 0.1l1.5 -0.1l1.5 0.1l1.5 0l1.5 0l1.5 -0.1l1.5 0l1.5 0l1.5 0.1l1.5 -0.1l1.5 0l1.5 0l1.5 0.1l1.5 0l1.5 -0.1l1.5 0.1l1.5 0l1.5 0l1.5 -0.1l1.5 0.1l1.5 -0.1l1.5 0.1l1.5 -0.1l1.5 0.1l1.5 -0.1l1.5 0.1l1.5 0l1.5 -0.1l1.5 0.1l1.5 0l1.5 -0.1l1.5 0l1.5 0.1l1.5 -0.1l1.5 0l0.3 0l0.4 0.1l0.3 -0.1l0.4 0.1l0.3 0l0.4 -0.1l0.3 0.1l0.4 -0.1l0.3 0l0.4 0l0.3 0l0.4 0l0.3 0l0.4 0l0.3 0l0.4 0.1l0.3 -0.1l0.4 0l0.3 0l0.4 0l0.3 0l0.4 0l0.3 -0.1l0.4 0.1l0.3 0l0.4 -0.1l0.3 0l0.4 0l0.3 0l0.4 0l0.3 -0.1l0.4 0l0.3 0l0.4 0l0.3 0l0.4 0l0.3 -0.1l0.4 0l0.3 0l0.4 -0.1l0.3 -0.1l0.4 0l0.3 -0.2l0.4 0l0.3 -0.1l0.4 -0.3l0.3 -0.1l0.4 -0.3l0.3 -0.3l0.4 -0.3l0.3 -0.6l0.4 -0.5l0.3 -0.7l0.4 -0.6l0.3 -0.8l0.4 -0.8l0.3 -0.7l0.4 -0.4l0.3 -0.2l0.4 0.2l0.3 0.4l0.4 0.7l0.3 0.7l0.4 0.8l0.3 0.7l0.4 0.7l0.3 0.5l0.4 0.5l0.3 0.4l0.4 0.3l0.3 0.2l0.4 0.4l0.3 0.1l0.4 0.1l0.3 0.1l0.4 0l0.3 0.2l0.4 0l0.3 0l0.4 0.1l0.3 0.1l0.4 0l0.3 0l0.4 0l0.3 0l0.4 0l0.3 0l0.3 0.1l0.4 0l0.3 0l0.4 0l0.3 0.1l0.4 0l0.3 0l0.4 0.4l0.3 -0.4l0.4 0l0.3 0l0.4 0l0.3 0l0.4 0.1l0.3 -0.1l0.4 0.1l0.3 -0.1l0.4 0.1l0.3 0l0.4 0l0.3 0l0.4 0l0.3 0.9l0.4 -0.9l0.3 -0.1l0.4 0.1l0.3 0l0.4 0l0.3 -0.1l0.4 0.1l0.3 0l0.4 0l1.5 0l1.5 0l1.5 0l1.5 0l1.5 0.1l1.5 0l1.5 -0.1l1.5 0l1.5 0l1.5 0.1l1.5 0l1.5 -0.1l1.5 0.1l1.5 0l1.5 0l1.5 0l1.5 0l1.5 -0.1l1.5 0l1.5 0.1l1.5 0l1.5 0l1.5 0l1.5 0l1.5 0l1.5 0l1.5 0l1.5 0l0.5 0" fill="none" stroke="#e42a2a" stroke-width="1.5" stroke-linejoin="round"/>
<path d="M1152.2 750.9l2.6 0.1l2.6 -0.1l2.6 0l2.6 -0.3l2.6 0l2.6 0.2l2.6 -0.1l2.6 -0.2l2.6 0l2.6 -0.1l2.6 0.2l2.6 -0.1l2.6 -0.1l2.6 0l2.6 0l2.6 -0.1l2.6 -0.1l2.6 -0.2l2.6 0l2.6 0l2.6 -0.2l2.6 0l2.6 -0.2l2.6 -0.2l2.6 -0.1l2.6 -0.1l2.6 -0.4l2.6 -0.1l2.6 -0.4l2.6 -0.5l2.6 -0.9l2.6 -1.1l2.6 -1.8l2.6 -2.9l2.6 -4.5l2.6 -6l2.6 -7.9l2.6 -10.1l2.6 -10.6l2.6 -10.8l2.6 -8.3l2.6 -4.1l2.6 1.9l2.6 6.9l2.6 10.1l2.6 10.8l2.6 10.5l2.6 8.6l2.6 6.8l2.6 4.9l2.6 3.4l2.6 2.3l2.6 1.2l2.6 1l2.6 0.7l2.6 0.2l2.6 0.5l2.6 0.2l2.6 0.1l2.6 0.1l2.6 0.2l2.6 0l2.6 0.3l2.6 -0.1l2.6 0.2l2.6 -0.1l2.6 0.2l2.6 0.1l2.6 0.1l2.6 -0.2l2.6 0.1l2.6 0l2.6 0.1l2.6 0l2.6 -0.1l2.6 0.1l2.6 0.2l2.6 -0.1l2.6 -0.2l2.6 0.1l2.6 -0.1l2.6 0.2l2.6 0.1l2.6 -0.1l2.6 0l2.6 0l2.6 -0.1l2.6 0l2.6 0.1l2.6 0l2.6 -0.1l2.6 0.1l2.6 0l2.6 -0.1l2.6 0.2l2.6 -0.1l2.6 0l2.6 -0.1l2.6 0.1l1 0.1" fill="none" stroke="#e42a2a" stroke-width="1.8" stroke-linejoin="round"/>
<path d="M84.1 824.6l1.5 0l1.5 0l1.5 0.1l1.5 -0.1l1.5 0l1.5 0l1.5 0l1.5 0l1.5 0.1l1.5 -0.1l1.5 0l1.5 0l1.5 0l1.5 0l1.5 0l1.5 0l1.5 0l1.5 0l1.5 0l1.5 0l1.5 0l1.5 0.1l1.5 -0.1l1.5 0l1.5 0l1.5 0l1.5 0l1.5 0l1.5 0l1.5 0l1.5 0.1l1.5 -0.1l1.5 0.1l1.5 0l1.5 -0.1l1.5 0l1.5 0l1.5 0.1l1.5 0l1.5 -0.1l1.5 0l1.5 0l1.5 0l1.5 0l1.5 0.1l1.5 -0.1l1.5 0.6l1.5 -0.5l1.5 0l1.5 0l1.5 -0.1l1.5 0.1l1.5 0l1.5 0l1.5 -0.1l1.5 0.1l1.5 -0.1l1.5 0l1.5 0l1.5 0l1.5 0.1l1.5 0l1.5 -0.1l1.5 0.1l1.5 0l1.5 0l1.5 -0.1l1.5 0l1.5 0l1.5 0.1l1.5 0l1.5 0l1.5 0l1.5 0l1.5 0l1.5 -0.1l1.5 0l1.5 0l1.5 0.1l1.5 -0.1l1.5 0.1l1.5 0l1.5 -0.1l1.5 0.1l1.5 0l1.5 0l1.5 0l1.5 0l1.5 0l1.5 0l1.5 -0.1l1.5 0l1.5 0.1l1.5 -0.1l1.5 0.2l1.5 -0.1l1.5 0l1.5 0l1.5 0l1.5 -0.1l1.5 0.1l1.5 -0.1l1.5 0l1.5 0l1.5 0l1.5 0l1.5 0.1l1.5 -0.1l1.5 0l1.5 0l1.5 0l1.5 0l1.5 0.1l1.5 0l1.5 0l1.5 0l1.5 -0.1l1.5 0l1.5 0.1l1.5 0l1.5 0l1.5 0l1.5 0l1.5 -0.1l1.5 0.1l1.5 0l1.5 -0.1l1.5 0l1.5 0.1l1.5 0l1.5 0l1.5 0l1.5 0l1.5 0l1.5 0l1.5 0l1.5 0l1.5 0l1.5 0l1.5 0l1.5 0l1.5 0l1.5 0l1.5 0l1.5 0l1.5 0l1.5 -0.1l1.5 0.1l1.5 0l1.5 0l1.5 0l1.5 0l1.5 0l1.5 0l1.5 0l1.5 0l1.5 0l1.5 0l1.5 -0.1l1.5 0.1l1.5 0l1.5 0l1.5 0.1l1.5 -0.1l1.5 0l1.5 0l1.5 0l1.5 0l1.5 0l1.5 0.1l1.5 -0.1l1.5 0.1l1.5 -0.2l1.5 0.1l1.5 0l1.5 0l1.5 0.1l1.5 -0.1l1.5 0.1l1.5 -0.1l1.5 0l1.5 0l1.5 0l1.5 0l1.5 0l1.5 0l1.5 -0.1l1.5 0.1l1.5 0l1.5 0l1.5 0l1.5 -0.1l1.5 0l1.5 0.1l1.5 -0.1l1.5 0.1l1.5 0.8l1.5 -0.9l1.5 0l1.5 -0.1l1.5 0l1.5 -0.1l1.5 -0.1l1.5 -0.1l1.5 -0.1l0.4 0l0.3 -0.2l0.4 0l0.3 0l0.4 0l0.3 -0.2l0.4 -0.1l0.3 -0.1l0.4 -0.1l0.3 -0.2l0.4 -0.2l0.3 -0.1l0.4 -0.3l0.3 -0.3l0.4 -0.4l0.3 -0.4l0.4 -0.6l0.3 -0.6l0.4 -1l0.3 -1.4l0.4 -2l0.3 -3.2l0.4 -4.9l0.3 -7.6l0.4 -11l0.3 -14l0.4 -14.8l0.3 -9.2l0.4 2.9l0.3 12.4l0.4 14.9l0.3 12.9l0.4 9.5l0.3 6.3l0.4 4.2l0.3 2.6l0.4 1.6l0.3 1.2l0.4 0.9l0.3 0.6l0.4 0.5l0.3 0.4l0.4 0.3l0.3 0.4l0.4 0.1l0.3 0.3l0.4 0.1l0.3 0.1l0.4 0.2l0.3 0.1l0.4 0.1l0.3 0l0.4 0.1l0.3 0.1l0.4 0.1l0.3 0l0.4 0l0.3 0.1l0.4 0l1.5 0.2l1.5 0l1.5 0.1l1.5 0l1.5 0.1l1.5 0l1.5 0l1.5 0l1.5 0l1.5 0l1.5 0.1l1.5 0l1.5 0l1.5 0l1.5 0.8l1.5 -0.7l1.5 0l1.5 -0.1l1.5 0.1l1.5 0l1.5 -0.1l1.5 0.5l1.5 -0.5l1.5 0.1l1.5 0l1.5 0l1.5 0l1.5 0l1.5 0l1.5 0l1.5 0l1.5 0l1.5 0l1.5 0l1.5 0l1.5 -0.1l1.5 0.1l1.5 -0.1l1.5 0.1l1.5 0l1.5 0l1.5 0l1.5 0l1.5 -0.1l1.5 0.1l1.5 0l1.5 0l1.5 0l1.5 0.4l1.5 -0.4l1.5 0.1l1.5 -0.2l1.5 0.1l1.5 0l1.5 0l1.5 0l1.5 -0.1l1.5 0.1l1.5 -0.1l1.5 0.2l1.5 -0.2l1.5 0.1l1.5 0l1.5 0l1.5 0l1.5 0l1.5 0l1.5 0l1.5 0l1.5 0l1.5 0l1.5 0.1l1.5 -0.1l1.5 0l1.5 0l1.5 0l1.5 0l1.5 0l1.5 0l1.5 0l1.5 0.1l1.5 0.2l1.5 -0.3l1.5 0l1.5 0l1.5 0.1l1.5 0l1.5 -0.1l1.5 0l1.5 0l1.5 0.1l1.5 -0.1l1.5 0.1l1.5 0.1l1.5 -0.1l1.5 -0.1l1.5 0l1.5 0l1.5 0l1.5 0l1.5 0l1.5 0l1.5 0l1.5 0l1.5 0.1l1.5 -0.1l1.5 0l1.5 0l1.5 0.1l1.5 0l1.5 -0.1l1.5 0l1.5 0l1.5 0.1l1.5 -0.1l1.5 0.1l1.5 0l1.5 -0.1l1.5 0l1.5 0l1.5 0l1.5 0l1.5 0l1.5 0l1.5 0l0.3 0l0.4 -0.1l0.3 0l0.4 0.1l0.3 -0.1l0.4 0.1l0.3 0l0.4 0l0.3 -0.1l0.4 0l0.3 0l0.4 0l0.3 -0.1l0.4 0.1l0.3 0l0.4 -0.1l0.3 0.1l0.4 0l0.3 -0.1l0.4 0l0.3 -0.1l0.4 0.1l0.3 -0.2l0.4 0l0.3 -0.1l0.4 -0.1l0.3 -0.1l0.4 -0.1l0.3 -0.3l0.4 -0.3l0.3 -0.2l0.4 -0.8l0.3 -0.7l0.4 -1l0.3 -1.1l0.4 -1.2l0.3 -0.7l0.4 -0.3l0.3 0.5l0.4 0.9l0.3 1.1l0.4 1.1l0.3 0.9l0.4 0.8l0.3 0.5l0.4 0.4l0.3 0.3l0.4 0.1l0.3 0.1l0.4 0.1l0.3 0.2l0.4 0l0.3 0.1l0.4 0l0.3 0l0.4 0l0.3 0.1l0.4 0l0.3 0.1l0.4 0l0.3 0l0.4 0.1l0.3 0l0.4 -0.1l0.3 0l0.4 0l0.3 0l0.4 0.1l0.3 0l0.4 0l0.3 -0.1l0.4 0.1l0.3 -0.1l0.4 0.1l0.3 -0.1l0.4 0.1l0.3 0l0.4 0l1.5 0.1l1.5 0l1.5 0l1.5 -0.1l1.5 0l1.5 0l1.5 0l1.5 0l1.5 0.9l1.5 -0.8l1.5 -0.1l1.5 0.1l1.5 0l1.5 0l1.5 0l1.5 0l1.5 0l1.5 0l1.5 0l1.5 -0.1l1.5 0.1l1.5 0l1.5 -0.1l1.5 0.1l1.5 0l1.5 0l1.5 -0.1l1.5 0l1.5 0.1l1.5 -0.1l1.5 0.1l1.5 0l1.5 0l1.5 0l1.5 -0.1l1.5 0.1l1.5 -0.1l1.5 0.1l1.5 0l1.5 0l1.5 -0.1l1.5 0.1l1.5 0l1.5 0l1.5 0l1.5 0l1.5 0l1.5 0l1.5 0l1.5 0l1.5 0l1.5 0l1.5 0l1.5 0l1.5 0l1.5 0l1.5 0l1.5 0l1.5 0l1.5 0l1.5 0l1.5 0l1.5 0l1.5 0l1.5 0l1.5 0.1l1.5 -0.1l1.5 0l1.5 0l1.5 0l1.5 0l1.5 0l1.5 0l1.5 0l1.5 0l1.5 0l1.5 0l1.5 0l1.5 0l1.5 0l1.5 0l1.5 0l1.5 0l1.5 0l1.5 0l1.5 0l1.5 0l1.5 0l1.5 0l1.5 0l1.5 0l1.5 0l0.3 0.1l0.4 -0.2l0.3 0.1l0.4 0l0.3 -0.1l0.4 0.1l0.3 0l0.4 0l0.3 0l0.4 0l0.3 0l0.4 0l0.3 0l0.4 0l0.3 0l0.4 -0.1l0.3 0.1l0.4 0l0.3 -0.1l0.4 0l0.3 0l0.4 0.1l0.3 0l0.4 0l0.3 -0.1l0.4 0l0.3 0l0.4 0l0.3 0l0.4 0l0.3 -0.1l0.4 0l0.3 -0.1l0.4 0.1l0.3 -0.2l0.4 0l0.3 -0.2l0.4 -0.2l0.3 -0.1l0.4 -0.3l0.3 -0.3l0.4 -0.2l0.3 -0.3l0.4 -0.3l0.3 -0.1l0.4 0l0.3 0.1l0.4 0.2l0.3 0.3l0.4 0.3l0.3 0.3l0.4 0.2l0.3 0.3l0.4 0.2l0.3 0.1l0.4 0l0.3 0.2l0.4 -0.1l0.3 0.1l0.4 0.1l0.3 -0.1l0.4 0.1l0.3 0l0.4 0.4l0.3 -0.3l0.4 -0.1l0.3 0l0.4 0l0.3 0l0.4 0l0.3 0l0.4 0.1l0.3 -0.1l0.4 0.1l0.3 0l0.4 0l0.3 0l0.4 0l0.3 0l0.4 0l0.3 0l0.4 0l0.3 0l0.4 0l0.3 0l0.4 0.1l0.3 -0.1l0.4 0.1l0.3 -0.1l0.4 0l0.3 0l0.4 0l0.3 0l0.4 0l0.3 0.9l0.4 -0.9l1.5 0l1.5 0.1l1.5 -0.1l1.5 0.7l1.5 -0.7l1.5 0l1.5 0l1.5 0l1.5 0l1.5 0l1.5 0l1.5 0.1l1.5 0l1.5 -0.1l1.5 0.1l1.5 0l1.5 0l1.5 -0.1l1.5 0l1.5 0l1.5 0.1l1.5 0l1.5 -0.1l1.5 0l1.5 0l1.5 0.1l1.5 -0.1l1.5 0.1l1.5 0l1.5 -0.1l1.5 0l1.5 0.1l1.5 0l1.5 -0.1l1.5 0.8l1.5 -0.7l1.5 0l1.5 0l1.5 0l1.5 0l1.5 -0.1l1.5 0.1l1.5 0l1.5 0l1.5 -0.1l1.5 0.1l1.5 -0.1l1.5 0.1l1.5 0l1.5 0l1.5 0l1.5 -0.1l1.5 0.1l1.5 0.3l1.5 -0.4l1.5 0.1l1.5 0l1.5 0l1.5 -0.1l1.5 0l1.5 0.1l1.5 -0.1l1.5 0.1l1.5 -0.1l1.5 0.1l1.5 0l1.5 0l1.5 0l1.5 -0.1l1.5 0.1l1.5 0l1.5 0l0.3 0l0.4 -0.1l0.3 0.1l0.4 0l0.3 0l0.4 0l0.3 0l0.4 -0.1l0.3 0.1l0.4 -0.1l0.3 0.1l0.4 0l0.3 0l0.4 -0.1l0.3 0.1l0.4 -0.1l0.3 0.1l0.4 0l0.3 0l0.4 0l0.3 0l0.4 -0.1l0.3 0l0.4 0l0.3 0l0.4 0l0.3 0l0.4 0l0.3 0l0.4 0l0.3 0l0.4 0l0.3 0l0.4 0l0.3 0l0.4 -0.2l0.3 0l0.4 0l0.3 0l0.4 0l0.3 -0.1l0.4 0l0.3 -0.1l0.4 -0.1l0.3 -0.1l0.4 -0.2l0.3 -0.1l0.4 0.8l0.3 -1.3l0.4 -0.3l0.3 -0.2l0.4 -0.3l0.3 -0.3l0.4 -0.2l0.3 -0.2l0.4 0l0.3 0.1l0.4 0.3l0.3 0.3l0.4 0.3l0.3 0.3l0.4 0.3l0.3 0.2l0.4 0.2l0.3 0.2l0.4 0.1l0.3 0.1l0.4 0.1l0.3 0.1l0.4 0l0.3 0.1l0.4 0l0.3 0.1l0.4 0l0.3 0l0.4 0l0.3 0l0.4 0.1l0.3 0l0.4 0l0.3 0l0.4 0l0.3 0l0.4 0l0.3 0l0.4 0l0.3 0l0.4 0.1l0.3 0l0.4 -0.1l0.3 0.1l0.4 0.4l0.3 -0.4l0.4 0l0.3 0l0.4 0l0.3 0l0.4 -0.1l0.3 0.1l0.4 -0.1l0.3 0.1l0.4 0l0.3 0l0.4 0l0.3 0l0.4 -0.1l0.3 0.1l0.4 0l0.3 0l0.4 0l0.3 0l0.4 0l0.3 -0.1l0.4 0.1l0.3 0l0.4 0l1.5 0l1.5 0l1.5 -0.1l1.5 0.1l1.5 0l1.5 0l1.5 0l1.5 0l1.5 0l1.5 0l1.5 0l1.5 0l1.5 0l1.5 0l1.5 0l1.5 0l1.5 0l1.5 0l1.5 0l1.5 0l1.5 0.1l1.5 0l1.5 0l1.5 0l1.5 0l1.5 -0.1l1.5 0l1.5 0.1l1.5 -0.1l1.5 0l1.5 0l1.5 0.1l1.5 0l1.5 -0.1l1.5 0l1.5 0l1.5 0l1.5 0.1l1.5 0l1.5 -0.1l1.5 0l1.5 0l1.5 0.1l1.5 0l1.5 0l1.5 -0.1l1.5 0.1l1.5 -0.1l1.5 0l1.5 0l1.5 0.1l1.5 -0.1l1.5 0l1.5 0l1.5 0.1l1.5 -0.1l1.5 0.1l1.5 -0.1l1.5 0.1l1.5 0l1.5 0l1.5 0l0.3 -0.1l0.4 0l0.3 0.1l0.4 -0.1l0.3 0l0.4 0.1l0.3 -0.1l0.4 0l0.3 0.1l0.4 0l0.3 -0.1l0.4 0l0.3 0l0.4 0l0.3 0l0.4 0l0.3 0l0.4 0l0.3 0l0.4 0.1l0.3 -0.1l0.4 0l0.3 0l0.4 -0.1l0.3 0.1l0.4 -0.1l0.3 0l0.4 0.1l0.3 -0.1l0.4 0.1l0.3 0l0.4 0l0.3 -0.1l0.4 0.1l0.3 -0.1l0.4 0.1l0.3 -0.1l0.4 0l0.3 0l0.4 -0.1l0.3 0.1l0.4 -0.1l0.3 -0.1l0.4 0.1l0.3 -0.1l0.4 0l0.3 -0.1l0.4 -0.1l0.3 -0.1l0.4 -0.2l0.3 -0.2l0.4 -0.2l0.3 -0.3l0.4 -0.3l0.3 -0.2l0.4 -0.3l0.3 -0.4l0.4 -0.1l0.3 -0.1l0.4 0l0.3 0.2l0.4 0.2l0.3 0.3l0.4 0.3l0.3 1l0.4 -0.5l0.3 0.3l0.4 0.2l0.3 0.2l0.4 0.2l0.3 0l0.4 0.1l0.3 0.4l0.4 -0.2l0.3 0l0.4 0l0.3 0.7l0.4 -0.6l0.3 0l0.4 -0.1l0.3 0.1l0.4 0l0.3 0l0.4 0.1l0.3 -0.1l0.4 0.1l0.3 -0.1l0.3 0l0.4 0l0.3 0.1l0.4 0l0.3 0l0.4 -0.1l0.3 0l0.4 0.2l0.3 -0.1l0.4 0.1l0.3 0l0.4 -0.1l0.3 0.1l0.4 0l0.3 -0.1l0.4 0l0.3 0l0.4 0.1l0.3 0l0.4 -0.1l0.3 0.1l0.4 0l0.3 0.4l0.4 -0.5l0.3 0.1l0.4 -0.1l0.3 0l0.4 0l0.3 0.1l0.4 0l0.3 0l0.4 0l0.3 -0.1l1.5 0l1.5 0l1.5 0l1.5 0.1l1.5 -0.1l1.5 0.1l1.5 0l1.5 0l1.5 0l1.5 0l1.5 0l1.5 -0.1l1.5 0.1l1.5 0l1.5 0l1.5 0l1.5 0l1.5 0l1.5 0l1.5 0l1.5 0l1.5 0l1.5 -0.1l1.5 0.1l1.5 0.1l1.5 -0.2l1.5 0.1l1.5 0l1.5 0l1.5 0l1 0" fill="none" stroke="#701818" stroke-width="1.5" stroke-linejoin="round"/>
<path d="M1152.2 824.6l2.6 0.1l2.6 -0.2l2.6 0l2.6 0.2l2.6 -0.2l2.6 0.1l2.6 0l2.6 0l2.6 -0.2l2.6 0.1l2.6 -0.1l2.6 -0.1l2.6 -0.2l2.6 -0.1l2.6 0.2l2.6 -0.3l2.6 0l2.6 -0.1l2.6 -0.1l2.6 0l2.6 -0.2l2.6 -0.2l2.6 -0.2l2.6 -0.3l2.6 -0.1l2.6 -0.5l2.6 -0.5l2.6 -0.4l2.6 -1.3l2.6 -1.9l2.6 -3.2l2.6 -5l2.6 -7.6l2.6 -9.9l2.6 -11.7l2.6 -12.4l2.6 -10.5l2.6 -5.2l2.6 2.4l2.6 8.7l2.6 11.9l2.6 12.5l2.6 10.7l2.6 8.2l2.6 6.1l2.6 3.7l2.6 2.4l2.6 1.5l2.6 0.5l2.6 0.8l2.6 0.2l2.6 0.2l2.6 0.5l2.6 0l2.6 0.2l2.6 0l2.6 0.1l2.6 0.3l2.6 0.1l2.6 -0.2l2.6 0.2l2.6 0l2.6 0.2l2.6 -0.1l2.6 0l2.6 -0.1l2.6 0.3l2.6 -0.2l2.6 0.2l2.6 -0.2l2.6 0.2l2.6 -0.2l2.6 0.1l2.6 0.2l2.6 -0.2l2.6 -0.1l2.6 0.1l2.6 0.1l2.6 0.1l2.6 0l2.6 -0.1l2.6 0l2.6 0.1l2.6 -0.2l2.6 0.2l2.6 0l2.6 -0.2l2.6 0.2l2.6 -0.1l2.6 0l2.6 -0.1l2.6 0.1l2.6 -0.1l2.6 0.1l2.6 0l2.6 -0.2l2.6 0.2l2.6 0l2.6 0l1 -0.1" fill="none" stroke="#701818" stroke-width="1.8" stroke-linejoin="round"/>
<rect x="83.3" y="3.2" width="1045.7" height="829.2" fill="none" stroke="#000" stroke-width="1.6"/>
<rect x="1151.4" y="3.2" width="260.0" height="829.2" fill="none" stroke="#000" stroke-width="1.6"/>
<path d="M257.6 832.4v-10M257.6 3.2v11M431.9 832.4v-10M431.9 3.2v11M606.1 832.4v-10M606.1 3.2v11M780.4 832.4v-10M780.4 3.2v11M954.7 832.4v-10M954.7 3.2v11M1216.4 832.4v-10M1216.4 3.2v11M1346.4 832.4v-10M1346.4 3.2v11" stroke="#000" stroke-width="1.6"/>
<text x="65.61" y="875.20" textLength="32.55" lengthAdjust="spacingAndGlyphs" style="white-space:pre"><tspan font-family="Liberation Serif" font-size="31">10</tspan></text>
<text x="240.61" y="875.20" textLength="32.55" lengthAdjust="spacingAndGlyphs" style="white-space:pre"><tspan font-family="Liberation Serif" font-size="31">20</tspan></text>
<text x="414.83" y="875.20" textLength="32.55" lengthAdjust="spacingAndGlyphs" style="white-space:pre"><tspan font-family="Liberation Serif" font-size="31">30</tspan></text>
<text x="589.58" y="875.20" textLength="32.55" lengthAdjust="spacingAndGlyphs" style="white-space:pre"><tspan font-family="Liberation Serif" font-size="31">40</tspan></text>
<text x="763.23" y="875.20" textLength="32.55" lengthAdjust="spacingAndGlyphs" style="white-space:pre"><tspan font-family="Liberation Serif" font-size="31">50</tspan></text>
<text x="937.76" y="875.20" textLength="32.55" lengthAdjust="spacingAndGlyphs" style="white-space:pre"><tspan font-family="Liberation Serif" font-size="31">60</tspan></text>
<text x="1111.67" y="875.20" textLength="32.55" lengthAdjust="spacingAndGlyphs" style="white-space:pre"><tspan font-family="Liberation Serif" font-size="31">70</tspan></text>
<text x="1199.43" y="875.20" textLength="32.55" lengthAdjust="spacingAndGlyphs" style="white-space:pre"><tspan font-family="Liberation Serif" font-size="31">28</tspan></text>
<text x="1329.48" y="875.20" textLength="32.55" lengthAdjust="spacingAndGlyphs" style="white-space:pre"><tspan font-family="Liberation Serif" font-size="31">29</tspan></text>
<text x="547.18" y="942.20" textLength="21.83" lengthAdjust="spacingAndGlyphs" style="white-space:pre"><tspan font-family="Liberation Serif" font-size="44">2</tspan></text>
<g transform="translate(585.6 926.7) rotate(20.6)"><ellipse rx="9.0" ry="16.4" fill="#000"/><ellipse rx="6.2" ry="14.7" fill="#fff"/></g>
<path d="M578.5 926.4H593.5" stroke="#000" stroke-width="2"/>
<text x="603.58" y="942.20" textLength="103.25" lengthAdjust="spacingAndGlyphs" style="white-space:pre"><tspan font-family="Liberation Serif" font-size="41">(deg.)</tspan></text>
<text x="1207.38" y="941.40" textLength="21.83" lengthAdjust="spacingAndGlyphs" style="white-space:pre"><tspan font-family="Liberation Serif" font-size="44">2</tspan></text>
<g transform="translate(1245.8 925.9) rotate(20.6)"><ellipse rx="9.0" ry="16.4" fill="#000"/><ellipse rx="6.2" ry="14.7" fill="#fff"/></g>
<path d="M1238.7 925.6H1253.7" stroke="#000" stroke-width="2"/>
<text x="1263.78" y="941.40" textLength="103.25" lengthAdjust="spacingAndGlyphs" style="white-space:pre"><tspan font-family="Liberation Serif" font-size="41">(deg.)</tspan></text>
<text transform="translate(34.30 592.40) rotate(-90)" x="-1.58" y="0" textLength="337.79" lengthAdjust="spacingAndGlyphs" style="white-space:pre"><tspan font-family="Liberation Serif" font-size="41.4">Intensity (arb. unit)</tspan></text>
<text x="132.31" y="69.20" textLength="14.84" lengthAdjust="spacingAndGlyphs" style="white-space:pre"><tspan font-family="Liberation Serif" font-size="31" font-style="italic">x</tspan></text>
<text x="155.09" y="68.70" textLength="21.57" lengthAdjust="spacingAndGlyphs" style="white-space:pre"><tspan font-family="Liberation Serif" font-size="31">=</tspan></text>
<text x="182.28" y="69.50" textLength="55.86" lengthAdjust="spacingAndGlyphs" style="white-space:pre"><tspan font-family="Liberation Serif" font-size="31">0.45</tspan></text>
<text x="132.31" y="139.90" textLength="14.84" lengthAdjust="spacingAndGlyphs" style="white-space:pre"><tspan font-family="Liberation Serif" font-size="31" font-style="italic">x</tspan></text>
<text x="155.09" y="139.40" textLength="21.57" lengthAdjust="spacingAndGlyphs" style="white-space:pre"><tspan font-family="Liberation Serif" font-size="31">=</tspan></text>
<text x="182.28" y="140.20" textLength="55.83" lengthAdjust="spacingAndGlyphs" style="white-space:pre"><tspan font-family="Liberation Serif" font-size="31">0.40</tspan></text>
<text x="132.31" y="214.90" textLength="14.84" lengthAdjust="spacingAndGlyphs" style="white-space:pre"><tspan font-family="Liberation Serif" font-size="31" font-style="italic">x</tspan></text>
<text x="155.09" y="214.40" textLength="21.57" lengthAdjust="spacingAndGlyphs" style="white-space:pre"><tspan font-family="Liberation Serif" font-size="31">=</tspan></text>
<text x="182.28" y="215.20" textLength="55.86" lengthAdjust="spacingAndGlyphs" style="white-space:pre"><tspan font-family="Liberation Serif" font-size="31">0.35</tspan></text>
<text x="132.31" y="286.40" textLength="14.84" lengthAdjust="spacingAndGlyphs" style="white-space:pre"><tspan font-family="Liberation Serif" font-size="31" font-style="italic">x</tspan></text>
<text x="155.09" y="285.90" textLength="21.57" lengthAdjust="spacingAndGlyphs" style="white-space:pre"><tspan font-family="Liberation Serif" font-size="31">=</tspan></text>
<text x="182.28" y="286.70" textLength="55.86" lengthAdjust="spacingAndGlyphs" style="white-space:pre"><tspan font-family="Liberation Serif" font-size="31">0.33</tspan></text>
<text x="132.31" y="362.70" textLength="14.84" lengthAdjust="spacingAndGlyphs" style="white-space:pre"><tspan font-family="Liberation Serif" font-size="31" font-style="italic">x</tspan></text>
<text x="155.09" y="362.20" textLength="21.57" lengthAdjust="spacingAndGlyphs" style="white-space:pre"><tspan font-family="Liberation Serif" font-size="31">=</tspan></text>
<text x="182.28" y="363.00" textLength="55.83" lengthAdjust="spacingAndGlyphs" style="white-space:pre"><tspan font-family="Liberation Serif" font-size="31">0.30</tspan></text>
<text x="132.31" y="438.50" textLength="14.84" lengthAdjust="spacingAndGlyphs" style="white-space:pre"><tspan font-family="Liberation Serif" font-size="31" font-style="italic">x</tspan></text>
<text x="155.09" y="438.00" textLength="21.57" lengthAdjust="spacingAndGlyphs" style="white-space:pre"><tspan font-family="Liberation Serif" font-size="31">=</tspan></text>
<text x="182.28" y="438.80" textLength="55.86" lengthAdjust="spacingAndGlyphs" style="white-space:pre"><tspan font-family="Liberation Serif" font-size="31">0.25</tspan></text>
<text x="132.31" y="511.40" textLength="14.84" lengthAdjust="spacingAndGlyphs" style="white-space:pre"><tspan font-family="Liberation Serif" font-size="31" font-style="italic">x</tspan></text>
<text x="155.09" y="510.90" textLength="21.57" lengthAdjust="spacingAndGlyphs" style="white-space:pre"><tspan font-family="Liberation Serif" font-size="31">=</tspan></text>
<text x="182.28" y="511.70" textLength="55.83" lengthAdjust="spacingAndGlyphs" style="white-space:pre"><tspan font-family="Liberation Serif" font-size="31">0.20</tspan></text>
<text x="132.31" y="584.80" textLength="14.84" lengthAdjust="spacingAndGlyphs" style="white-space:pre"><tspan font-family="Liberation Serif" font-size="31" font-style="italic">x</tspan></text>
<text x="155.09" y="584.30" textLength="21.57" lengthAdjust="spacingAndGlyphs" style="white-space:pre"><tspan font-family="Liberation Serif" font-size="31">=</tspan></text>
<text x="182.28" y="585.10" textLength="55.86" lengthAdjust="spacingAndGlyphs" style="white-space:pre"><tspan font-family="Liberation Serif" font-size="31">0.15</tspan></text>
<text x="132.31" y="661.30" textLength="14.84" lengthAdjust="spacingAndGlyphs" style="white-space:pre"><tspan font-family="Liberation Serif" font-size="31" font-style="italic">x</tspan></text>
<text x="155.09" y="660.80" textLength="21.57" lengthAdjust="spacingAndGlyphs" style="white-space:pre"><tspan font-family="Liberation Serif" font-size="31">=</tspan></text>
<text x="182.28" y="661.60" textLength="55.83" lengthAdjust="spacingAndGlyphs" style="white-space:pre"><tspan font-family="Liberation Serif" font-size="31">0.10</tspan></text>
<text x="132.31" y="734.90" textLength="14.84" lengthAdjust="spacingAndGlyphs" style="white-space:pre"><tspan font-family="Liberation Serif" font-size="31" font-style="italic">x</tspan></text>
<text x="155.09" y="734.40" textLength="21.57" lengthAdjust="spacingAndGlyphs" style="white-space:pre"><tspan font-family="Liberation Serif" font-size="31">=</tspan></text>
<text x="182.28" y="735.20" textLength="55.86" lengthAdjust="spacingAndGlyphs" style="white-space:pre"><tspan font-family="Liberation Serif" font-size="31">0.05</tspan></text>
<text x="132.31" y="810.70" textLength="14.84" lengthAdjust="spacingAndGlyphs" style="white-space:pre"><tspan font-family="Liberation Serif" font-size="31" font-style="italic">x</tspan></text>
<text x="155.09" y="810.20" textLength="21.57" lengthAdjust="spacingAndGlyphs" style="white-space:pre"><tspan font-family="Liberation Serif" font-size="31">=</tspan></text>
<text x="182.28" y="811.00" textLength="55.83" lengthAdjust="spacingAndGlyphs" style="white-space:pre"><tspan font-family="Liberation Serif" font-size="31">0.00</tspan></text>
<text x="93.02" y="33.70" textLength="32.85" lengthAdjust="spacingAndGlyphs" style="white-space:pre"><tspan font-family="Liberation Serif" font-size="31.5">Sn</tspan></text>
<text x="126.71" y="40.70" textLength="40.15" lengthAdjust="spacingAndGlyphs" style="white-space:pre"><tspan font-family="Liberation Serif" font-size="20.5">1-2</tspan><tspan font-family="Liberation Serif" font-size="20.5" font-style="italic">x</tspan></text>
<text x="167.11" y="33.70" textLength="89.37" lengthAdjust="spacingAndGlyphs" style="white-space:pre"><tspan font-family="Liberation Serif" font-size="31.5">(AgBi)</tspan></text>
<text x="256.80" y="40.50" textLength="10.88" lengthAdjust="spacingAndGlyphs" style="white-space:pre"><tspan font-family="Liberation Serif" font-size="20.5" font-style="italic">x</tspan></text>
<text x="268.38" y="33.70" textLength="30.63" lengthAdjust="spacingAndGlyphs" style="white-space:pre"><tspan font-family="Liberation Serif" font-size="31.5">Te</tspan></text>
<text x="992.05" y="803.50" textLength="64.82" lengthAdjust="spacingAndGlyphs" style="white-space:pre"><tspan font-family="Liberation Serif" font-size="31.4">SnTe</tspan></text>
<text x="951.40" y="277.00" textLength="133.49" lengthAdjust="spacingAndGlyphs" style="white-space:pre"><tspan font-family="Liberation Serif" font-size="31.7">AgSnBiTe</tspan></text>
<text x="1084.60" y="283.60" textLength="8.35" lengthAdjust="spacingAndGlyphs" style="white-space:pre"><tspan font-family="Liberation Serif" font-size="23">3</tspan></text>
<text transform="translate(403.50 43.30) rotate(-90)" x="-1.10" y="0" textLength="36.35" lengthAdjust="spacingAndGlyphs" style="white-space:pre"><tspan font-family="Liberation Sans" font-size="22">200</tspan></text>
<text transform="translate(635.60 41.60) rotate(-90)" x="-1.09" y="0" textLength="36.03" lengthAdjust="spacingAndGlyphs" style="white-space:pre"><tspan font-family="Liberation Sans" font-size="22">220</tspan></text>
<text transform="translate(810.50 69.30) rotate(-90)" x="-1.11" y="0" textLength="36.71" lengthAdjust="spacingAndGlyphs" style="white-space:pre"><tspan font-family="Liberation Sans" font-size="22">222</tspan></text>
<text transform="translate(963.30 73.00) rotate(-90)" x="-0.50" y="0" textLength="36.14" lengthAdjust="spacingAndGlyphs" style="white-space:pre"><tspan font-family="Liberation Sans" font-size="22">400</tspan></text>
<text transform="translate(1099.50 65.80) rotate(-90)" x="-0.50" y="0" textLength="36.14" lengthAdjust="spacingAndGlyphs" style="white-space:pre"><tspan font-family="Liberation Sans" font-size="22">420</tspan></text>
<text transform="translate(1323.30 44.40) rotate(-90)" x="-1.09" y="0" textLength="36.03" lengthAdjust="spacingAndGlyphs" style="white-space:pre"><tspan font-family="Liberation Sans" font-size="22">200</tspan></text>
<path d="M108.5 1182.7H509.3V1583.5H108.5Z" fill="none" stroke="#8c8c8c" stroke-width="2.2"/>
<use href="#sC" transform="translate(108.5 1182.7) scale(36.85)"/><circle cx="108.5" cy="1182.7" r="36.85" fill="#fff" fill-opacity="0.30"/>
<use href="#sT" transform="translate(308.9 1182.7) scale(35.13)"/><circle cx="308.9" cy="1182.7" r="35.13" fill="#fff" fill-opacity="0.30"/>
<use href="#sC" transform="translate(509.3 1182.7) scale(36.85)"/><circle cx="509.3" cy="1182.7" r="36.85" fill="#fff" fill-opacity="0.30"/>
<use href="#sT" transform="translate(108.5 1383.1) scale(35.13)"/><circle cx="108.5" cy="1383.1" r="35.13" fill="#fff" fill-opacity="0.30"/>
<use href="#sC" transform="translate(308.9 1383.1) scale(36.85)"/><circle cx="308.9" cy="1383.1" r="36.85" fill="#fff" fill-opacity="0.30"/>
<use href="#sT" transform="translate(509.3 1383.1) scale(35.13)"/><circle cx="509.3" cy="1383.1" r="35.13" fill="#fff" fill-opacity="0.30"/>
<use href="#sC" transform="translate(108.5 1583.5) scale(36.85)"/><circle cx="108.5" cy="1583.5" r="36.85" fill="#fff" fill-opacity="0.30"/>
<use href="#sT" transform="translate(308.9 1583.5) scale(35.13)"/><circle cx="308.9" cy="1583.5" r="35.13" fill="#fff" fill-opacity="0.30"/>
<use href="#sC" transform="translate(509.3 1583.5) scale(36.85)"/><circle cx="509.3" cy="1583.5" r="36.85" fill="#fff" fill-opacity="0.30"/>
<path d="M87.5 1161.8L108.5 1182.7M87.5 1604.4L108.5 1583.5M530.2 1161.8L509.3 1182.7M530.2 1604.4L509.3 1583.5" stroke="#7a7a7a" stroke-width="2"/>
<use href="#sT" transform="translate(98.4 1172.6) scale(36.90)"/><circle cx="98.4" cy="1172.6" r="36.90" fill="#fff" fill-opacity="0.10"/>
<use href="#sC" transform="translate(308.9 1172.6) scale(38.71)"/><circle cx="308.9" cy="1172.6" r="38.71" fill="#fff" fill-opacity="0.10"/>
<use href="#sT" transform="translate(519.4 1172.6) scale(36.90)"/><circle cx="519.4" cy="1172.6" r="36.90" fill="#fff" fill-opacity="0.10"/>
<use href="#sC" transform="translate(98.4 1383.1) scale(38.71)"/><circle cx="98.4" cy="1383.1" r="38.71" fill="#fff" fill-opacity="0.10"/>
<use href="#sT" transform="translate(308.9 1383.1) scale(36.90)"/><circle cx="308.9" cy="1383.1" r="36.90" fill="#fff" fill-opacity="0.10"/>
<use href="#sC" transform="translate(519.4 1383.1) scale(38.71)"/><circle cx="519.4" cy="1383.1" r="38.71" fill="#fff" fill-opacity="0.10"/>
<use href="#sT" transform="translate(98.4 1593.6) scale(36.90)"/><circle cx="98.4" cy="1593.6" r="36.90" fill="#fff" fill-opacity="0.10"/>
<use href="#sC" transform="translate(308.9 1593.6) scale(38.71)"/><circle cx="308.9" cy="1593.6" r="38.71" fill="#fff" fill-opacity="0.10"/>
<use href="#sT" transform="translate(519.4 1593.6) scale(36.90)"/><circle cx="519.4" cy="1593.6" r="36.90" fill="#fff" fill-opacity="0.10"/>
<path d="M87.5 1161.8H530.2V1604.4H87.5Z" fill="none" stroke="#4c4c4c" stroke-width="1.8"/>
<use href="#sC" transform="translate(87.5 1161.8) scale(40.70)"/>
<use href="#sT" transform="translate(308.9 1161.8) scale(38.80)"/>
<use href="#sC" transform="translate(530.2 1161.8) scale(40.70)"/>
<use href="#sT" transform="translate(87.5 1383.1) scale(38.80)"/>
<use href="#sC" transform="translate(308.9 1383.1) scale(40.70)"/>
<use href="#sT" transform="translate(530.2 1383.1) scale(38.80)"/>
<use href="#sC" transform="translate(87.5 1604.4) scale(40.70)"/>
<use href="#sT" transform="translate(308.9 1604.4) scale(38.80)"/>
<use href="#sC" transform="translate(530.2 1604.4) scale(40.70)"/>
<path d="M87.5 1563.7V1604.4" stroke="#4c4c4c" stroke-width="1.8"/>
<text x="40.28" y="1050.20" textLength="40.97" lengthAdjust="spacingAndGlyphs" style="white-space:pre"><tspan font-family="Liberation Sans" font-size="63.3" font-weight="bold">b</tspan></text>
<text x="251.10" y="1056.60" textLength="219.90" lengthAdjust="spacingAndGlyphs" style="white-space:pre"><tspan font-family="Liberation Serif" font-size="47.6">(Ag,Sn,Bi)</tspan></text>
<text x="411.89" y="1312.10" textLength="47.26" lengthAdjust="spacingAndGlyphs" style="white-space:pre"><tspan font-family="Liberation Serif" font-size="51.5">Te</tspan></text>
<path d="M475.6 1077.6L503.8 1109.4" stroke="#000" stroke-width="4.8"/><path d="M513.8 1120.6L496.7 1113.0L508.3 1102.7Z" fill="#000"/>
<path d="M468.5 1306.8L495.9 1337.3" stroke="#000" stroke-width="4.6"/><path d="M506.6 1349.2L488.4 1341.3L500.7 1330.3Z" fill="#000"/>
<text x="152.99" y="1736.60" textLength="50.74" lengthAdjust="spacingAndGlyphs" style="white-space:pre"><tspan font-family="Liberation Serif" font-size="49">Sn</tspan></text>
<text x="207.18" y="1748.00" textLength="56.95" lengthAdjust="spacingAndGlyphs" style="white-space:pre"><tspan font-family="Liberation Serif" font-size="33">1-2</tspan><tspan font-family="Liberation Serif" font-size="33" font-style="italic">x</tspan></text>
<text x="263.99" y="1736.60" textLength="135.71" lengthAdjust="spacingAndGlyphs" style="white-space:pre"><tspan font-family="Liberation Serif" font-size="49">(AgBi)</tspan></text>
<text x="404.93" y="1748.00" textLength="15.63" lengthAdjust="spacingAndGlyphs" style="white-space:pre"><tspan font-family="Liberation Serif" font-size="33" font-style="italic">x</tspan></text>
<text x="428.91" y="1736.60" textLength="40.42" lengthAdjust="spacingAndGlyphs" style="white-space:pre"><tspan font-family="Liberation Serif" font-size="49">Te</tspan></text>
<rect x="747.3" y="1021.3" width="655.1" height="654.0" fill="none" stroke="#000" stroke-width="1.6"/>
<path d="M878.3 1675.3v-10M878.3 1021.3v10M1009.3 1675.3v-10M1009.3 1021.3v10M1140.4 1675.3v-10M1140.4 1021.3v10M1271.4 1675.3v-10M1271.4 1021.3v10M747.3 1166.7h10.5M1402.4 1166.7h-10.5M747.3 1312.7h10.5M1402.4 1312.7h-10.5M747.3 1456.6h10.5M1402.4 1456.6h-10.5M747.3 1601.6h10.5M1402.4 1601.6h-10.5" stroke="#000" stroke-width="1.6"/>
<text x="673.30" y="1027.60" textLength="55.33" lengthAdjust="spacingAndGlyphs" style="white-space:pre"><tspan font-family="Liberation Serif" font-size="31">6.35</tspan></text>
<text x="689.11" y="1173.00" textLength="39.53" lengthAdjust="spacingAndGlyphs" style="white-space:pre"><tspan font-family="Liberation Serif" font-size="31">6.3</tspan></text>
<text x="673.30" y="1319.00" textLength="55.33" lengthAdjust="spacingAndGlyphs" style="white-space:pre"><tspan font-family="Liberation Serif" font-size="31">6.25</tspan></text>
<text x="689.62" y="1462.90" textLength="39.53" lengthAdjust="spacingAndGlyphs" style="white-space:pre"><tspan font-family="Liberation Serif" font-size="31">6.2</tspan></text>
<text x="673.30" y="1607.90" textLength="55.33" lengthAdjust="spacingAndGlyphs" style="white-space:pre"><tspan font-family="Liberation Serif" font-size="31">6.15</tspan></text>
<text x="746.8" y="1709.9" font-family="Liberation Serif" font-size="31" text-anchor="middle">0</text>
<text x="877.8" y="1709.9" font-family="Liberation Serif" font-size="31" text-anchor="middle">0.1</text>
<text x="1008.8" y="1709.9" font-family="Liberation Serif" font-size="31" text-anchor="middle">0.2</text>
<text x="1139.9" y="1709.9" font-family="Liberation Serif" font-size="31" text-anchor="middle">0.3</text>
<text x="1270.9" y="1709.9" font-family="Liberation Serif" font-size="31" text-anchor="middle">0.4</text>
<text x="1401.9" y="1709.9" font-family="Liberation Serif" font-size="31" text-anchor="middle">0.5</text>
<text x="1314.45" y="1102.40" textLength="34.89" lengthAdjust="spacingAndGlyphs" style="white-space:pre"><tspan font-family="Liberation Sans" font-size="65" font-weight="bold">c</tspan></text>
<text transform="translate(649.50 1539.60) rotate(-90)" x="-1.24" y="0" textLength="273.49" lengthAdjust="spacingAndGlyphs" style="white-space:pre"><tspan font-family="Liberation Serif" font-size="41">Lattice constant</tspan></text>
<text transform="translate(649.50 1254.40) rotate(-90)" x="-1.29" y="0" textLength="21.61" lengthAdjust="spacingAndGlyphs" style="white-space:pre"><tspan font-family="Liberation Serif" font-size="41" font-style="italic">a</tspan></text>
<text transform="translate(649.50 1221.30) rotate(-90)" x="-2.10" y="0" textLength="61.00" lengthAdjust="spacingAndGlyphs" style="white-space:pre"><tspan font-family="Liberation Serif" font-size="41">(</tspan><tspan font-family="Liberation Serif" font-size="41" font-style="italic">Å</tspan><tspan font-family="Liberation Serif" font-size="41">)</tspan></text>
<text x="813.79" y="1756.30" textLength="84.27" lengthAdjust="spacingAndGlyphs" style="white-space:pre"><tspan font-family="Liberation Serif" font-size="41.2">Nom</tspan></text>
<text x="903.20" y="1756.30" textLength="64.26" lengthAdjust="spacingAndGlyphs" style="white-space:pre"><tspan font-family="Liberation Serif" font-size="41.2">inal</tspan></text>
<text x="977.67" y="1756.30" textLength="20.57" lengthAdjust="spacingAndGlyphs" style="white-space:pre"><tspan font-family="Liberation Serif" font-size="41.2" font-style="italic">x</tspan></text>
<text x="1009.44" y="1756.30" textLength="31.78" lengthAdjust="spacingAndGlyphs" style="white-space:pre"><tspan font-family="Liberation Serif" font-size="41.2">in</tspan></text>
<text x="1053.80" y="1755.70" textLength="44.24" lengthAdjust="spacingAndGlyphs" style="white-space:pre"><tspan font-family="Liberation Serif" font-size="41.2">Sn</tspan></text>
<text x="1101.53" y="1775.70" textLength="47.97" lengthAdjust="spacingAndGlyphs" style="white-space:pre"><tspan font-family="Liberation Serif" font-size="28.7">1-2</tspan><tspan font-family="Liberation Serif" font-size="28.7" font-style="italic">x</tspan></text>
<text x="1151.46" y="1755.70" textLength="125.08" lengthAdjust="spacingAndGlyphs" style="white-space:pre"><tspan font-family="Liberation Serif" font-size="41.2">(AgBi)</tspan></text>
<text x="1274.83" y="1779.80" textLength="12.17" lengthAdjust="spacingAndGlyphs" style="white-space:pre"><tspan font-family="Liberation Serif" font-size="28.7" font-style="italic">x</tspan></text>
<text x="1290.06" y="1755.70" textLength="42.95" lengthAdjust="spacingAndGlyphs" style="white-space:pre"><tspan font-family="Liberation Serif" font-size="41.2">Te</tspan></text>
<text x="1090.92" y="1284.20" textLength="208.87" lengthAdjust="spacingAndGlyphs" style="white-space:pre"><tspan font-family="Liberation Serif" font-size="48.2">AgSnBiTe</tspan></text>
<text x="1300.73" y="1295.50" textLength="14.28" lengthAdjust="spacingAndGlyphs" style="white-space:pre"><tspan font-family="Liberation Serif" font-size="30">3</tspan></text>
<path d="M1183.9 1307.1V1415" stroke="#555" stroke-width="1.3"/><path d="M1178.9 1413.7h10l-5 10.1z" fill="#000"/>
<circle cx="746.4" cy="1130.0" r="12.6" fill="#ff0000"/>
<circle cx="812.4" cy="1182.1" r="12.6" fill="#ff0000"/>
<circle cx="877.8" cy="1267.8" r="12.6" fill="#ff0000"/>
<circle cx="943.8" cy="1311.2" r="12.6" fill="#ff0000"/>
<circle cx="1009.1" cy="1330.3" r="12.6" fill="#ff0000"/>
<circle cx="1074.5" cy="1394.5" r="12.6" fill="#ff0000"/>
<circle cx="1139.4" cy="1417.6" r="12.6" fill="#ff0000"/>
<circle cx="1183.9" cy="1450.3" r="12.6" fill="#ff0000"/>
<circle cx="1205.7" cy="1468.0" r="12.6" fill="#ff0000"/>
<circle cx="1270.1" cy="1518.9" r="12.6" fill="#ff0000"/>
<circle cx="1336.1" cy="1571.0" r="12.6" fill="#ff0000"/>
</svg>
</body></html>
